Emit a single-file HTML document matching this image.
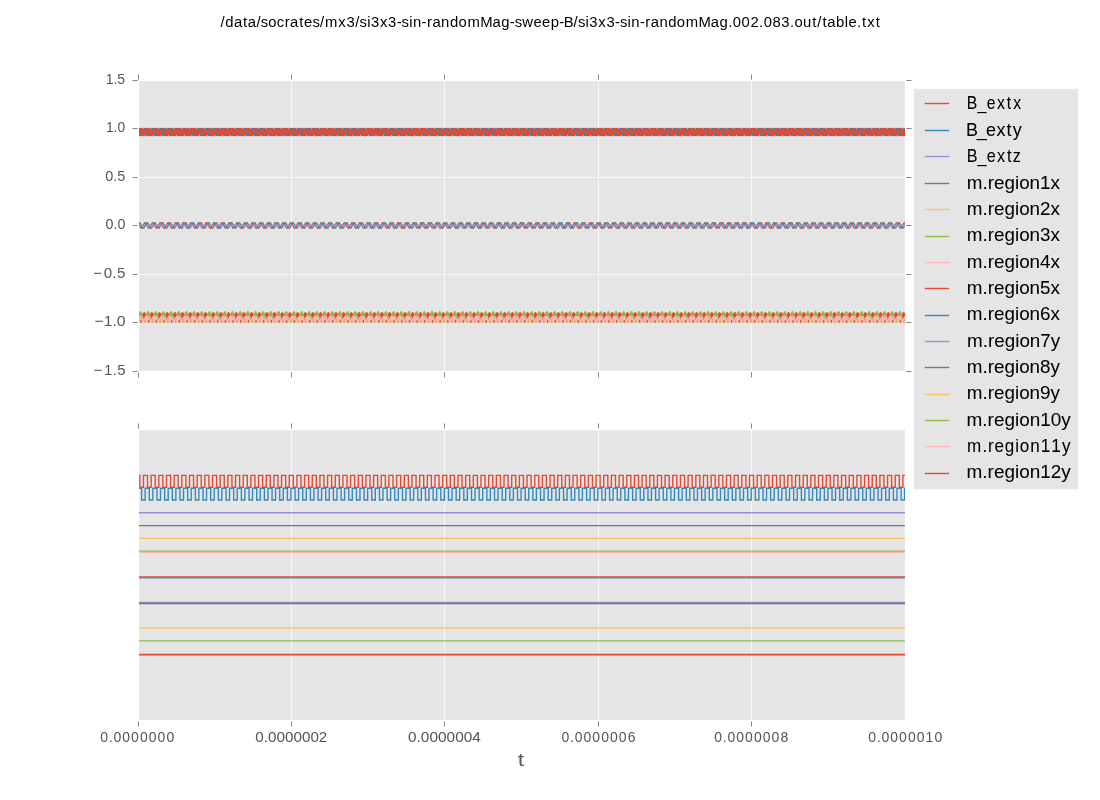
<!DOCTYPE html><html><head><meta charset="utf-8"><title>plot</title><style>html,body{margin:0;padding:0;background:#fff;}body{width:1100px;height:800px;overflow:hidden;position:relative;}svg{position:absolute;left:0;top:0;display:block;will-change:transform;}text{font-family:"Liberation Sans",sans-serif;white-space:pre;}</style></head><body>
<svg width="1100" height="800" viewBox="0 0 1100 800">
<defs><clipPath id="c1"><rect x="139" y="81" width="766" height="290"/></clipPath><clipPath id="c2"><rect x="139" y="430" width="766" height="290"/></clipPath></defs>
<g shape-rendering="crispEdges">
<rect x="139" y="81" width="766" height="290" fill="rgb(234,234,234)"/>
<rect x="140" y="82" width="764" height="288" fill="#e5e5e5"/>
<rect x="139" y="430" width="766" height="290" fill="rgb(234,234,234)"/>
<rect x="140" y="431" width="764" height="288" fill="#e5e5e5"/>
<rect x="291" y="81" width="1" height="290" fill="rgb(247,247,247)"/>
<rect x="291" y="430" width="1" height="290" fill="rgb(247,247,247)"/>
<rect x="444" y="81" width="1" height="290" fill="rgb(247,247,247)"/>
<rect x="444" y="430" width="1" height="290" fill="rgb(247,247,247)"/>
<rect x="598" y="81" width="1" height="290" fill="rgb(247,247,247)"/>
<rect x="598" y="430" width="1" height="290" fill="rgb(247,247,247)"/>
<rect x="751" y="81" width="1" height="290" fill="rgb(247,247,247)"/>
<rect x="751" y="430" width="1" height="290" fill="rgb(247,247,247)"/>
<rect x="139" y="128" width="766" height="1" fill="rgb(247,247,247)"/>
<rect x="139" y="177" width="766" height="1" fill="rgb(247,247,247)"/>
<rect x="139" y="225" width="766" height="1" fill="rgb(247,247,247)"/>
<rect x="139" y="274" width="766" height="1" fill="rgb(247,247,247)"/>
<rect x="139" y="322" width="766" height="1" fill="rgb(247,247,247)"/>
<rect x="132" y="80" width="1" height="1" fill="rgb(195,195,195)"/>
<rect x="133" y="80" width="4" height="1" fill="rgb(136,136,136)"/>
<rect x="137" y="80" width="1" height="1" fill="rgb(177,177,177)"/>
<rect x="906" y="80" width="1" height="1" fill="rgb(177,177,177)"/>
<rect x="907" y="80" width="4" height="1" fill="rgb(136,136,136)"/>
<rect x="911" y="80" width="1" height="1" fill="rgb(195,195,195)"/>
<rect x="132" y="128" width="1" height="1" fill="rgb(195,195,195)"/>
<rect x="133" y="128" width="4" height="1" fill="rgb(136,136,136)"/>
<rect x="137" y="128" width="1" height="1" fill="rgb(177,177,177)"/>
<rect x="906" y="128" width="1" height="1" fill="rgb(177,177,177)"/>
<rect x="907" y="128" width="4" height="1" fill="rgb(136,136,136)"/>
<rect x="911" y="128" width="1" height="1" fill="rgb(195,195,195)"/>
<rect x="132" y="177" width="1" height="1" fill="rgb(195,195,195)"/>
<rect x="133" y="177" width="4" height="1" fill="rgb(136,136,136)"/>
<rect x="137" y="177" width="1" height="1" fill="rgb(177,177,177)"/>
<rect x="906" y="177" width="1" height="1" fill="rgb(177,177,177)"/>
<rect x="907" y="177" width="4" height="1" fill="rgb(136,136,136)"/>
<rect x="911" y="177" width="1" height="1" fill="rgb(195,195,195)"/>
<rect x="132" y="225" width="1" height="1" fill="rgb(195,195,195)"/>
<rect x="133" y="225" width="4" height="1" fill="rgb(136,136,136)"/>
<rect x="137" y="225" width="1" height="1" fill="rgb(177,177,177)"/>
<rect x="906" y="225" width="1" height="1" fill="rgb(177,177,177)"/>
<rect x="907" y="225" width="4" height="1" fill="rgb(136,136,136)"/>
<rect x="911" y="225" width="1" height="1" fill="rgb(195,195,195)"/>
<rect x="132" y="274" width="1" height="1" fill="rgb(195,195,195)"/>
<rect x="133" y="274" width="4" height="1" fill="rgb(136,136,136)"/>
<rect x="137" y="274" width="1" height="1" fill="rgb(177,177,177)"/>
<rect x="906" y="274" width="1" height="1" fill="rgb(177,177,177)"/>
<rect x="907" y="274" width="4" height="1" fill="rgb(136,136,136)"/>
<rect x="911" y="274" width="1" height="1" fill="rgb(195,195,195)"/>
<rect x="132" y="322" width="1" height="1" fill="rgb(195,195,195)"/>
<rect x="133" y="322" width="4" height="1" fill="rgb(136,136,136)"/>
<rect x="137" y="322" width="1" height="1" fill="rgb(177,177,177)"/>
<rect x="906" y="322" width="1" height="1" fill="rgb(177,177,177)"/>
<rect x="907" y="322" width="4" height="1" fill="rgb(136,136,136)"/>
<rect x="911" y="322" width="1" height="1" fill="rgb(195,195,195)"/>
<rect x="132" y="371" width="1" height="1" fill="rgb(195,195,195)"/>
<rect x="133" y="371" width="4" height="1" fill="rgb(136,136,136)"/>
<rect x="137" y="371" width="1" height="1" fill="rgb(177,177,177)"/>
<rect x="906" y="371" width="1" height="1" fill="rgb(177,177,177)"/>
<rect x="907" y="371" width="4" height="1" fill="rgb(136,136,136)"/>
<rect x="911" y="371" width="1" height="1" fill="rgb(195,195,195)"/>
<rect x="138" y="74" width="1" height="1" fill="rgb(195,195,195)"/>
<rect x="138" y="75" width="1" height="4" fill="rgb(136,136,136)"/>
<rect x="138" y="79" width="1" height="1" fill="rgb(177,177,177)"/>
<rect x="138" y="372" width="1" height="1" fill="rgb(177,177,177)"/>
<rect x="138" y="373" width="1" height="4" fill="rgb(136,136,136)"/>
<rect x="138" y="377" width="1" height="1" fill="rgb(195,195,195)"/>
<rect x="138" y="423" width="1" height="1" fill="rgb(195,195,195)"/>
<rect x="138" y="424" width="1" height="4" fill="rgb(136,136,136)"/>
<rect x="138" y="428" width="1" height="1" fill="rgb(177,177,177)"/>
<rect x="138" y="721" width="1" height="1" fill="rgb(177,177,177)"/>
<rect x="138" y="722" width="1" height="4" fill="rgb(136,136,136)"/>
<rect x="138" y="726" width="1" height="1" fill="rgb(195,195,195)"/>
<rect x="291" y="74" width="1" height="1" fill="rgb(195,195,195)"/>
<rect x="291" y="75" width="1" height="4" fill="rgb(136,136,136)"/>
<rect x="291" y="79" width="1" height="1" fill="rgb(177,177,177)"/>
<rect x="291" y="372" width="1" height="1" fill="rgb(177,177,177)"/>
<rect x="291" y="373" width="1" height="4" fill="rgb(136,136,136)"/>
<rect x="291" y="377" width="1" height="1" fill="rgb(195,195,195)"/>
<rect x="291" y="423" width="1" height="1" fill="rgb(195,195,195)"/>
<rect x="291" y="424" width="1" height="4" fill="rgb(136,136,136)"/>
<rect x="291" y="428" width="1" height="1" fill="rgb(177,177,177)"/>
<rect x="291" y="721" width="1" height="1" fill="rgb(177,177,177)"/>
<rect x="291" y="722" width="1" height="4" fill="rgb(136,136,136)"/>
<rect x="291" y="726" width="1" height="1" fill="rgb(195,195,195)"/>
<rect x="444" y="74" width="1" height="1" fill="rgb(195,195,195)"/>
<rect x="444" y="75" width="1" height="4" fill="rgb(136,136,136)"/>
<rect x="444" y="79" width="1" height="1" fill="rgb(177,177,177)"/>
<rect x="444" y="372" width="1" height="1" fill="rgb(177,177,177)"/>
<rect x="444" y="373" width="1" height="4" fill="rgb(136,136,136)"/>
<rect x="444" y="377" width="1" height="1" fill="rgb(195,195,195)"/>
<rect x="444" y="423" width="1" height="1" fill="rgb(195,195,195)"/>
<rect x="444" y="424" width="1" height="4" fill="rgb(136,136,136)"/>
<rect x="444" y="428" width="1" height="1" fill="rgb(177,177,177)"/>
<rect x="444" y="721" width="1" height="1" fill="rgb(177,177,177)"/>
<rect x="444" y="722" width="1" height="4" fill="rgb(136,136,136)"/>
<rect x="444" y="726" width="1" height="1" fill="rgb(195,195,195)"/>
<rect x="598" y="74" width="1" height="1" fill="rgb(195,195,195)"/>
<rect x="598" y="75" width="1" height="4" fill="rgb(136,136,136)"/>
<rect x="598" y="79" width="1" height="1" fill="rgb(177,177,177)"/>
<rect x="598" y="372" width="1" height="1" fill="rgb(177,177,177)"/>
<rect x="598" y="373" width="1" height="4" fill="rgb(136,136,136)"/>
<rect x="598" y="377" width="1" height="1" fill="rgb(195,195,195)"/>
<rect x="598" y="423" width="1" height="1" fill="rgb(195,195,195)"/>
<rect x="598" y="424" width="1" height="4" fill="rgb(136,136,136)"/>
<rect x="598" y="428" width="1" height="1" fill="rgb(177,177,177)"/>
<rect x="598" y="721" width="1" height="1" fill="rgb(177,177,177)"/>
<rect x="598" y="722" width="1" height="4" fill="rgb(136,136,136)"/>
<rect x="598" y="726" width="1" height="1" fill="rgb(195,195,195)"/>
<rect x="751" y="74" width="1" height="1" fill="rgb(195,195,195)"/>
<rect x="751" y="75" width="1" height="4" fill="rgb(136,136,136)"/>
<rect x="751" y="79" width="1" height="1" fill="rgb(177,177,177)"/>
<rect x="751" y="372" width="1" height="1" fill="rgb(177,177,177)"/>
<rect x="751" y="373" width="1" height="4" fill="rgb(136,136,136)"/>
<rect x="751" y="377" width="1" height="1" fill="rgb(195,195,195)"/>
<rect x="751" y="423" width="1" height="1" fill="rgb(195,195,195)"/>
<rect x="751" y="424" width="1" height="4" fill="rgb(136,136,136)"/>
<rect x="751" y="428" width="1" height="1" fill="rgb(177,177,177)"/>
<rect x="751" y="721" width="1" height="1" fill="rgb(177,177,177)"/>
<rect x="751" y="722" width="1" height="4" fill="rgb(136,136,136)"/>
<rect x="751" y="726" width="1" height="1" fill="rgb(195,195,195)"/>
</g>
<g clip-path="url(#c1)"><defs></defs><rect x="139" y="127.9" width="766" height="8.2" fill="#E24A33"/><path fill="#348ABD" d="M140.95,128L142.26,128L141.95,129.8L141.6,131.5L141.26,129.8ZM148.62,128L149.93,128L149.62,129.8L149.27,131.5L148.93,129.8ZM156.29,128L157.6,128L157.29,129.8L156.95,131.5L156.6,129.8ZM163.96,128L165.27,128L164.96,129.8L164.62,131.5L164.27,129.8ZM171.64,128L172.94,128L172.63,129.8L172.29,131.5L171.94,129.8ZM179.31,128L180.61,128L180.3,129.8L179.96,131.5L179.61,129.8ZM186.98,128L188.28,128L187.98,129.8L187.63,131.5L187.28,129.8ZM194.65,128L195.95,128L195.65,129.8L195.3,131.5L194.96,129.8ZM202.32,128L203.62,128L203.32,129.8L202.97,131.5L202.63,129.8ZM209.99,128L211.3,128L210.99,129.8L210.64,131.5L210.3,129.8ZM217.66,128L218.97,128L218.66,129.8L218.31,131.5L217.97,129.8ZM225.33,128L226.64,128L226.33,129.8L225.98,131.5L225.64,129.8ZM233,128L234.31,128L234,129.8L233.66,131.5L233.31,129.8ZM240.67,128L241.98,128L241.67,129.8L241.33,131.5L240.98,129.8ZM248.35,128L249.65,128L249.34,129.8L249,131.5L248.65,129.8ZM256.02,128L257.32,128L257.01,129.8L256.67,131.5L256.32,129.8ZM263.69,128L264.99,128L264.69,129.8L264.34,131.5L263.99,129.8ZM271.36,128L272.66,128L272.36,129.8L272.01,131.5L271.67,129.8ZM279.03,128L280.33,128L280.03,129.8L279.68,131.5L279.34,129.8ZM286.7,128L288.01,128L287.7,129.8L287.35,131.5L287.01,129.8ZM294.37,128L295.68,128L295.37,129.8L295.02,131.5L294.68,129.8ZM302.04,128L303.35,128L303.04,129.8L302.69,131.5L302.35,129.8ZM309.71,128L311.02,128L310.71,129.8L310.37,131.5L310.02,129.8ZM317.38,128L318.69,128L318.38,129.8L318.04,131.5L317.69,129.8ZM325.06,128L326.36,128L326.05,129.8L325.71,131.5L325.36,129.8ZM332.73,128L334.03,128L333.72,129.8L333.38,131.5L333.03,129.8ZM340.4,128L341.7,128L341.4,129.8L341.05,131.5L340.7,129.8ZM348.07,128L349.37,128L349.07,129.8L348.72,131.5L348.38,129.8ZM355.74,128L357.04,128L356.74,129.8L356.39,131.5L356.05,129.8ZM363.41,128L364.72,128L364.41,129.8L364.06,131.5L363.72,129.8ZM371.08,128L372.39,128L372.08,129.8L371.73,131.5L371.39,129.8ZM378.75,128L380.06,128L379.75,129.8L379.4,131.5L379.06,129.8ZM386.42,128L387.73,128L387.42,129.8L387.08,131.5L386.73,129.8ZM394.09,128L395.4,128L395.09,129.8L394.75,131.5L394.4,129.8ZM401.77,128L403.07,128L402.76,129.8L402.42,131.5L402.07,129.8ZM409.44,128L410.74,128L410.43,129.8L410.09,131.5L409.74,129.8ZM417.11,128L418.41,128L418.11,129.8L417.76,131.5L417.41,129.8ZM424.78,128L426.08,128L425.78,129.8L425.43,131.5L425.09,129.8ZM432.45,128L433.75,128L433.45,129.8L433.1,131.5L432.76,129.8ZM440.12,128L441.43,128L441.12,129.8L440.77,131.5L440.43,129.8ZM447.79,128L449.1,128L448.79,129.8L448.44,131.5L448.1,129.8ZM455.46,128L456.77,128L456.46,129.8L456.11,131.5L455.77,129.8ZM463.13,128L464.44,128L464.13,129.8L463.79,131.5L463.44,129.8ZM470.8,128L472.11,128L471.8,129.8L471.46,131.5L471.11,129.8ZM478.48,128L479.78,128L479.47,129.8L479.13,131.5L478.78,129.8ZM486.15,128L487.45,128L487.14,129.8L486.8,131.5L486.45,129.8ZM493.82,128L495.12,128L494.82,129.8L494.47,131.5L494.12,129.8ZM501.49,128L502.79,128L502.49,129.8L502.14,131.5L501.8,129.8ZM509.16,128L510.46,128L510.16,129.8L509.81,131.5L509.47,129.8ZM516.83,128L518.14,128L517.83,129.8L517.48,131.5L517.14,129.8ZM524.5,128L525.81,128L525.5,129.8L525.15,131.5L524.81,129.8ZM532.17,128L533.48,128L533.17,129.8L532.82,131.5L532.48,129.8ZM539.84,128L541.15,128L540.84,129.8L540.5,131.5L540.15,129.8ZM547.51,128L548.82,128L548.51,129.8L548.17,131.5L547.82,129.8ZM555.19,128L556.49,128L556.18,129.8L555.84,131.5L555.49,129.8ZM562.86,128L564.16,128L563.85,129.8L563.51,131.5L563.16,129.8ZM570.53,128L571.83,128L571.53,129.8L571.18,131.5L570.83,129.8ZM578.2,128L579.5,128L579.2,129.8L578.85,131.5L578.51,129.8ZM585.87,128L587.17,128L586.87,129.8L586.52,131.5L586.18,129.8ZM593.54,128L594.85,128L594.54,129.8L594.19,131.5L593.85,129.8ZM601.21,128L602.52,128L602.21,129.8L601.86,131.5L601.52,129.8ZM608.88,128L610.19,128L609.88,129.8L609.53,131.5L609.19,129.8ZM616.55,128L617.86,128L617.55,129.8L617.21,131.5L616.86,129.8ZM624.22,128L625.53,128L625.22,129.8L624.88,131.5L624.53,129.8ZM631.9,128L633.2,128L632.89,129.8L632.55,131.5L632.2,129.8ZM639.57,128L640.87,128L640.56,129.8L640.22,131.5L639.87,129.8ZM647.24,128L648.54,128L648.24,129.8L647.89,131.5L647.54,129.8ZM654.91,128L656.21,128L655.91,129.8L655.56,131.5L655.22,129.8ZM662.58,128L663.88,128L663.58,129.8L663.23,131.5L662.89,129.8ZM670.25,128L671.56,128L671.25,129.8L670.9,131.5L670.56,129.8ZM677.92,128L679.23,128L678.92,129.8L678.57,131.5L678.23,129.8ZM685.59,128L686.9,128L686.59,129.8L686.24,131.5L685.9,129.8ZM693.26,128L694.57,128L694.26,129.8L693.92,131.5L693.57,129.8ZM700.93,128L702.24,128L701.93,129.8L701.59,131.5L701.24,129.8ZM708.61,128L709.91,128L709.6,129.8L709.26,131.5L708.91,129.8ZM716.28,128L717.58,128L717.27,129.8L716.93,131.5L716.58,129.8ZM723.95,128L725.25,128L724.95,129.8L724.6,131.5L724.25,129.8ZM731.62,128L732.92,128L732.62,129.8L732.27,131.5L731.93,129.8ZM739.29,128L740.59,128L740.29,129.8L739.94,131.5L739.6,129.8ZM746.96,128L748.27,128L747.96,129.8L747.61,131.5L747.27,129.8ZM754.63,128L755.94,128L755.63,129.8L755.28,131.5L754.94,129.8ZM762.3,128L763.61,128L763.3,129.8L762.95,131.5L762.61,129.8ZM769.97,128L771.28,128L770.97,129.8L770.63,131.5L770.28,129.8ZM777.64,128L778.95,128L778.64,129.8L778.3,131.5L777.95,129.8ZM785.32,128L786.62,128L786.31,129.8L785.97,131.5L785.62,129.8ZM792.99,128L794.29,128L793.98,129.8L793.64,131.5L793.29,129.8ZM800.66,128L801.96,128L801.66,129.8L801.31,131.5L800.96,129.8ZM808.33,128L809.63,128L809.33,129.8L808.98,131.5L808.64,129.8ZM816,128L817.3,128L817,129.8L816.65,131.5L816.31,129.8ZM823.67,128L824.98,128L824.67,129.8L824.32,131.5L823.98,129.8ZM831.34,128L832.65,128L832.34,129.8L831.99,131.5L831.65,129.8ZM839.01,128L840.32,128L840.01,129.8L839.66,131.5L839.32,129.8ZM846.68,128L847.99,128L847.68,129.8L847.34,131.5L846.99,129.8ZM854.35,128L855.66,128L855.35,129.8L855.01,131.5L854.66,129.8ZM862.03,128L863.33,128L863.02,129.8L862.68,131.5L862.33,129.8ZM869.7,128L871,128L870.69,129.8L870.35,131.5L870,129.8ZM877.37,128L878.67,128L878.37,129.8L878.02,131.5L877.67,129.8ZM885.04,128L886.34,128L886.04,129.8L885.69,131.5L885.35,129.8ZM892.71,128L894.01,128L893.71,129.8L893.36,131.5L893.02,129.8ZM900.38,128L901.69,128L901.38,129.8L901.03,131.5L900.69,129.8Z"/><path fill="#348ABD" d="M136.43,128L138.34,128L137.96,129.4L137.38,130.3L136.81,129.4ZM144.1,128L146.01,128L145.63,129.4L145.06,130.3L144.48,129.4ZM151.77,128L153.69,128L153.3,129.4L152.73,130.3L152.15,129.4ZM159.44,128L161.36,128L160.97,129.4L160.4,130.3L159.82,129.4ZM167.11,128L169.03,128L168.64,129.4L168.07,130.3L167.49,129.4ZM174.78,128L176.7,128L176.32,129.4L175.74,130.3L175.16,129.4ZM182.45,128L184.37,128L183.99,129.4L183.41,130.3L182.84,129.4ZM190.12,128L192.04,128L191.66,129.4L191.08,130.3L190.51,129.4ZM197.79,128L199.71,128L199.33,129.4L198.75,130.3L198.18,129.4ZM205.47,128L207.38,128L207,129.4L206.42,130.3L205.85,129.4ZM213.14,128L215.05,128L214.67,129.4L214.09,130.3L213.52,129.4ZM220.81,128L222.72,128L222.34,129.4L221.77,130.3L221.19,129.4ZM228.48,128L230.4,128L230.01,129.4L229.44,130.3L228.86,129.4ZM236.15,128L238.07,128L237.68,129.4L237.11,130.3L236.53,129.4ZM243.82,128L245.74,128L245.35,129.4L244.78,130.3L244.2,129.4ZM251.49,128L253.41,128L253.03,129.4L252.45,130.3L251.87,129.4ZM259.16,128L261.08,128L260.7,129.4L260.12,130.3L259.55,129.4ZM266.83,128L268.75,128L268.37,129.4L267.79,130.3L267.22,129.4ZM274.5,128L276.42,128L276.04,129.4L275.46,130.3L274.89,129.4ZM282.18,128L284.09,128L283.71,129.4L283.13,130.3L282.56,129.4ZM289.85,128L291.76,128L291.38,129.4L290.8,130.3L290.23,129.4ZM297.52,128L299.43,128L299.05,129.4L298.48,130.3L297.9,129.4ZM305.19,128L307.11,128L306.72,129.4L306.15,130.3L305.57,129.4ZM312.86,128L314.78,128L314.39,129.4L313.82,130.3L313.24,129.4ZM320.53,128L322.45,128L322.06,129.4L321.49,130.3L320.91,129.4ZM328.2,128L330.12,128L329.74,129.4L329.16,130.3L328.58,129.4ZM335.87,128L337.79,128L337.41,129.4L336.83,130.3L336.26,129.4ZM343.54,128L345.46,128L345.08,129.4L344.5,130.3L343.93,129.4ZM351.21,128L353.13,128L352.75,129.4L352.17,130.3L351.6,129.4ZM358.89,128L360.8,128L360.42,129.4L359.84,130.3L359.27,129.4ZM366.56,128L368.47,128L368.09,129.4L367.51,130.3L366.94,129.4ZM374.23,128L376.14,128L375.76,129.4L375.19,130.3L374.61,129.4ZM381.9,128L383.82,128L383.43,129.4L382.86,130.3L382.28,129.4ZM389.57,128L391.49,128L391.1,129.4L390.53,130.3L389.95,129.4ZM397.24,128L399.16,128L398.77,129.4L398.2,130.3L397.62,129.4ZM404.91,128L406.83,128L406.45,129.4L405.87,130.3L405.29,129.4ZM412.58,128L414.5,128L414.12,129.4L413.54,130.3L412.97,129.4ZM420.25,128L422.17,128L421.79,129.4L421.21,130.3L420.64,129.4ZM427.92,128L429.84,128L429.46,129.4L428.88,130.3L428.31,129.4ZM435.6,128L437.51,128L437.13,129.4L436.55,130.3L435.98,129.4ZM443.27,128L445.18,128L444.8,129.4L444.22,130.3L443.65,129.4ZM450.94,128L452.85,128L452.47,129.4L451.9,130.3L451.32,129.4ZM458.61,128L460.53,128L460.14,129.4L459.57,130.3L458.99,129.4ZM466.28,128L468.2,128L467.81,129.4L467.24,130.3L466.66,129.4ZM473.95,128L475.87,128L475.48,129.4L474.91,130.3L474.33,129.4ZM481.62,128L483.54,128L483.16,129.4L482.58,130.3L482,129.4ZM489.29,128L491.21,128L490.83,129.4L490.25,130.3L489.68,129.4ZM496.96,128L498.88,128L498.5,129.4L497.92,130.3L497.35,129.4ZM504.63,128L506.55,128L506.17,129.4L505.59,130.3L505.02,129.4ZM512.31,128L514.22,128L513.84,129.4L513.26,130.3L512.69,129.4ZM519.98,128L521.89,128L521.51,129.4L520.93,130.3L520.36,129.4ZM527.65,128L529.56,128L529.18,129.4L528.61,130.3L528.03,129.4ZM535.32,128L537.24,128L536.85,129.4L536.28,130.3L535.7,129.4ZM542.99,128L544.91,128L544.52,129.4L543.95,130.3L543.37,129.4ZM550.66,128L552.58,128L552.19,129.4L551.62,130.3L551.04,129.4ZM558.33,128L560.25,128L559.87,129.4L559.29,130.3L558.71,129.4ZM566,128L567.92,128L567.54,129.4L566.96,130.3L566.39,129.4ZM573.67,128L575.59,128L575.21,129.4L574.63,130.3L574.06,129.4ZM581.34,128L583.26,128L582.88,129.4L582.3,130.3L581.73,129.4ZM589.02,128L590.93,128L590.55,129.4L589.97,130.3L589.4,129.4ZM596.69,128L598.6,128L598.22,129.4L597.64,130.3L597.07,129.4ZM604.36,128L606.27,128L605.89,129.4L605.32,130.3L604.74,129.4ZM612.03,128L613.95,128L613.56,129.4L612.99,130.3L612.41,129.4ZM619.7,128L621.62,128L621.23,129.4L620.66,130.3L620.08,129.4ZM627.37,128L629.29,128L628.9,129.4L628.33,130.3L627.75,129.4ZM635.04,128L636.96,128L636.58,129.4L636,130.3L635.42,129.4ZM642.71,128L644.63,128L644.25,129.4L643.67,130.3L643.1,129.4ZM650.38,128L652.3,128L651.92,129.4L651.34,130.3L650.77,129.4ZM658.05,128L659.97,128L659.59,129.4L659.01,130.3L658.44,129.4ZM665.73,128L667.64,128L667.26,129.4L666.68,130.3L666.11,129.4ZM673.4,128L675.31,128L674.93,129.4L674.35,130.3L673.78,129.4ZM681.07,128L682.98,128L682.6,129.4L682.03,130.3L681.45,129.4ZM688.74,128L690.66,128L690.27,129.4L689.7,130.3L689.12,129.4ZM696.41,128L698.33,128L697.94,129.4L697.37,130.3L696.79,129.4ZM704.08,128L706,128L705.61,129.4L705.04,130.3L704.46,129.4ZM711.75,128L713.67,128L713.29,129.4L712.71,130.3L712.13,129.4ZM719.42,128L721.34,128L720.96,129.4L720.38,130.3L719.81,129.4ZM727.09,128L729.01,128L728.63,129.4L728.05,130.3L727.48,129.4ZM734.76,128L736.68,128L736.3,129.4L735.72,130.3L735.15,129.4ZM742.44,128L744.35,128L743.97,129.4L743.39,130.3L742.82,129.4ZM750.11,128L752.02,128L751.64,129.4L751.06,130.3L750.49,129.4ZM757.78,128L759.69,128L759.31,129.4L758.74,130.3L758.16,129.4ZM765.45,128L767.37,128L766.98,129.4L766.41,130.3L765.83,129.4ZM773.12,128L775.04,128L774.65,129.4L774.08,130.3L773.5,129.4ZM780.79,128L782.71,128L782.32,129.4L781.75,130.3L781.17,129.4ZM788.46,128L790.38,128L790,129.4L789.42,130.3L788.84,129.4ZM796.13,128L798.05,128L797.67,129.4L797.09,130.3L796.52,129.4ZM803.8,128L805.72,128L805.34,129.4L804.76,130.3L804.19,129.4ZM811.47,128L813.39,128L813.01,129.4L812.43,130.3L811.86,129.4ZM819.15,128L821.06,128L820.68,129.4L820.1,130.3L819.53,129.4ZM826.82,128L828.73,128L828.35,129.4L827.77,130.3L827.2,129.4ZM834.49,128L836.4,128L836.02,129.4L835.45,130.3L834.87,129.4ZM842.16,128L844.08,128L843.69,129.4L843.12,130.3L842.54,129.4ZM849.83,128L851.75,128L851.36,129.4L850.79,130.3L850.21,129.4ZM857.5,128L859.42,128L859.03,129.4L858.46,130.3L857.88,129.4ZM865.17,128L867.09,128L866.71,129.4L866.13,130.3L865.55,129.4ZM872.84,128L874.76,128L874.38,129.4L873.8,130.3L873.23,129.4ZM880.51,128L882.43,128L882.05,129.4L881.47,130.3L880.9,129.4ZM888.18,128L890.1,128L889.72,129.4L889.14,130.3L888.57,129.4ZM895.86,128L897.77,128L897.39,129.4L896.81,130.3L896.24,129.4ZM903.53,128L905.44,128L905.06,129.4L904.48,130.3L903.91,129.4Z"/><path fill="#348ABD" d="M138.77,132.1L139.88,132.1L140.03,134.4L141.11,134.6L141.26,136.1L138.65,136.1ZM146.44,132.1L147.55,132.1L147.7,134.4L148.78,134.6L148.93,136.1L146.32,136.1ZM154.11,132.1L155.22,132.1L155.37,134.4L156.45,134.6L156.6,136.1L153.99,136.1ZM161.78,132.1L162.89,132.1L163.04,134.4L164.12,134.6L164.27,136.1L161.66,136.1ZM169.45,132.1L170.56,132.1L170.72,134.4L171.79,134.6L171.94,136.1L169.33,136.1ZM177.12,132.1L178.23,132.1L178.39,134.4L179.46,134.6L179.61,136.1L177.01,136.1ZM184.79,132.1L185.9,132.1L186.06,134.4L187.13,134.6L187.28,136.1L184.68,136.1ZM192.46,132.1L193.58,132.1L193.73,134.4L194.8,134.6L194.96,136.1L192.35,136.1ZM200.13,132.1L201.25,132.1L201.4,134.4L202.47,134.6L202.63,136.1L200.02,136.1ZM207.8,132.1L208.92,132.1L209.07,134.4L210.14,134.6L210.3,136.1L207.69,136.1ZM215.48,132.1L216.59,132.1L216.74,134.4L217.82,134.6L217.97,136.1L215.36,136.1ZM223.15,132.1L224.26,132.1L224.41,134.4L225.49,134.6L225.64,136.1L223.03,136.1ZM230.82,132.1L231.93,132.1L232.08,134.4L233.16,134.6L233.31,136.1L230.7,136.1ZM238.49,132.1L239.6,132.1L239.75,134.4L240.83,134.6L240.98,136.1L238.37,136.1ZM246.16,132.1L247.27,132.1L247.43,134.4L248.5,134.6L248.65,136.1L246.04,136.1ZM253.83,132.1L254.94,132.1L255.1,134.4L256.17,134.6L256.32,136.1L253.72,136.1ZM261.5,132.1L262.61,132.1L262.77,134.4L263.84,134.6L263.99,136.1L261.39,136.1ZM269.17,132.1L270.29,132.1L270.44,134.4L271.51,134.6L271.67,136.1L269.06,136.1ZM276.84,132.1L277.96,132.1L278.11,134.4L279.18,134.6L279.34,136.1L276.73,136.1ZM284.51,132.1L285.63,132.1L285.78,134.4L286.85,134.6L287.01,136.1L284.4,136.1ZM292.19,132.1L293.3,132.1L293.45,134.4L294.53,134.6L294.68,136.1L292.07,136.1ZM299.86,132.1L300.97,132.1L301.12,134.4L302.2,134.6L302.35,136.1L299.74,136.1ZM307.53,132.1L308.64,132.1L308.79,134.4L309.87,134.6L310.02,136.1L307.41,136.1ZM315.2,132.1L316.31,132.1L316.46,134.4L317.54,134.6L317.69,136.1L315.08,136.1ZM322.87,132.1L323.98,132.1L324.14,134.4L325.21,134.6L325.36,136.1L322.75,136.1ZM330.54,132.1L331.65,132.1L331.81,134.4L332.88,134.6L333.03,136.1L330.43,136.1ZM338.21,132.1L339.32,132.1L339.48,134.4L340.55,134.6L340.7,136.1L338.1,136.1ZM345.88,132.1L347,132.1L347.15,134.4L348.22,134.6L348.38,136.1L345.77,136.1ZM353.55,132.1L354.67,132.1L354.82,134.4L355.89,134.6L356.05,136.1L353.44,136.1ZM361.22,132.1L362.34,132.1L362.49,134.4L363.56,134.6L363.72,136.1L361.11,136.1ZM368.9,132.1L370.01,132.1L370.16,134.4L371.24,134.6L371.39,136.1L368.78,136.1ZM376.57,132.1L377.68,132.1L377.83,134.4L378.91,134.6L379.06,136.1L376.45,136.1ZM384.24,132.1L385.35,132.1L385.5,134.4L386.58,134.6L386.73,136.1L384.12,136.1ZM391.91,132.1L393.02,132.1L393.17,134.4L394.25,134.6L394.4,136.1L391.79,136.1ZM399.58,132.1L400.69,132.1L400.85,134.4L401.92,134.6L402.07,136.1L399.46,136.1ZM407.25,132.1L408.36,132.1L408.52,134.4L409.59,134.6L409.74,136.1L407.14,136.1ZM414.92,132.1L416.03,132.1L416.19,134.4L417.26,134.6L417.41,136.1L414.81,136.1ZM422.59,132.1L423.71,132.1L423.86,134.4L424.93,134.6L425.09,136.1L422.48,136.1ZM430.26,132.1L431.38,132.1L431.53,134.4L432.6,134.6L432.76,136.1L430.15,136.1ZM437.93,132.1L439.05,132.1L439.2,134.4L440.27,134.6L440.43,136.1L437.82,136.1ZM445.61,132.1L446.72,132.1L446.87,134.4L447.95,134.6L448.1,136.1L445.49,136.1ZM453.28,132.1L454.39,132.1L454.54,134.4L455.62,134.6L455.77,136.1L453.16,136.1ZM460.95,132.1L462.06,132.1L462.21,134.4L463.29,134.6L463.44,136.1L460.83,136.1ZM468.62,132.1L469.73,132.1L469.88,134.4L470.96,134.6L471.11,136.1L468.5,136.1ZM476.29,132.1L477.4,132.1L477.56,134.4L478.63,134.6L478.78,136.1L476.17,136.1ZM483.96,132.1L485.07,132.1L485.23,134.4L486.3,134.6L486.45,136.1L483.85,136.1ZM491.63,132.1L492.74,132.1L492.9,134.4L493.97,134.6L494.12,136.1L491.52,136.1ZM499.3,132.1L500.42,132.1L500.57,134.4L501.64,134.6L501.8,136.1L499.19,136.1ZM506.97,132.1L508.09,132.1L508.24,134.4L509.31,134.6L509.47,136.1L506.86,136.1ZM514.64,132.1L515.76,132.1L515.91,134.4L516.98,134.6L517.14,136.1L514.53,136.1ZM522.32,132.1L523.43,132.1L523.58,134.4L524.66,134.6L524.81,136.1L522.2,136.1ZM529.99,132.1L531.1,132.1L531.25,134.4L532.33,134.6L532.48,136.1L529.87,136.1ZM537.66,132.1L538.77,132.1L538.92,134.4L540,134.6L540.15,136.1L537.54,136.1ZM545.33,132.1L546.44,132.1L546.59,134.4L547.67,134.6L547.82,136.1L545.21,136.1ZM553,132.1L554.11,132.1L554.27,134.4L555.34,134.6L555.49,136.1L552.88,136.1ZM560.67,132.1L561.78,132.1L561.94,134.4L563.01,134.6L563.16,136.1L560.56,136.1ZM568.34,132.1L569.45,132.1L569.61,134.4L570.68,134.6L570.83,136.1L568.23,136.1ZM576.01,132.1L577.13,132.1L577.28,134.4L578.35,134.6L578.51,136.1L575.9,136.1ZM583.68,132.1L584.8,132.1L584.95,134.4L586.02,134.6L586.18,136.1L583.57,136.1ZM591.35,132.1L592.47,132.1L592.62,134.4L593.69,134.6L593.85,136.1L591.24,136.1ZM599.03,132.1L600.14,132.1L600.29,134.4L601.37,134.6L601.52,136.1L598.91,136.1ZM606.7,132.1L607.81,132.1L607.96,134.4L609.04,134.6L609.19,136.1L606.58,136.1ZM614.37,132.1L615.48,132.1L615.63,134.4L616.71,134.6L616.86,136.1L614.25,136.1ZM622.04,132.1L623.15,132.1L623.3,134.4L624.38,134.6L624.53,136.1L621.92,136.1ZM629.71,132.1L630.82,132.1L630.98,134.4L632.05,134.6L632.2,136.1L629.59,136.1ZM637.38,132.1L638.49,132.1L638.65,134.4L639.72,134.6L639.87,136.1L637.27,136.1ZM645.05,132.1L646.16,132.1L646.32,134.4L647.39,134.6L647.54,136.1L644.94,136.1ZM652.72,132.1L653.84,132.1L653.99,134.4L655.06,134.6L655.22,136.1L652.61,136.1ZM660.39,132.1L661.51,132.1L661.66,134.4L662.73,134.6L662.89,136.1L660.28,136.1ZM668.06,132.1L669.18,132.1L669.33,134.4L670.4,134.6L670.56,136.1L667.95,136.1ZM675.74,132.1L676.85,132.1L677,134.4L678.08,134.6L678.23,136.1L675.62,136.1ZM683.41,132.1L684.52,132.1L684.67,134.4L685.75,134.6L685.9,136.1L683.29,136.1ZM691.08,132.1L692.19,132.1L692.34,134.4L693.42,134.6L693.57,136.1L690.96,136.1ZM698.75,132.1L699.86,132.1L700.01,134.4L701.09,134.6L701.24,136.1L698.63,136.1ZM706.42,132.1L707.53,132.1L707.69,134.4L708.76,134.6L708.91,136.1L706.3,136.1ZM714.09,132.1L715.2,132.1L715.36,134.4L716.43,134.6L716.58,136.1L713.98,136.1ZM721.76,132.1L722.87,132.1L723.03,134.4L724.1,134.6L724.25,136.1L721.65,136.1ZM729.43,132.1L730.55,132.1L730.7,134.4L731.77,134.6L731.93,136.1L729.32,136.1ZM737.1,132.1L738.22,132.1L738.37,134.4L739.44,134.6L739.6,136.1L736.99,136.1ZM744.77,132.1L745.89,132.1L746.04,134.4L747.11,134.6L747.27,136.1L744.66,136.1ZM752.45,132.1L753.56,132.1L753.71,134.4L754.79,134.6L754.94,136.1L752.33,136.1ZM760.12,132.1L761.23,132.1L761.38,134.4L762.46,134.6L762.61,136.1L760,136.1ZM767.79,132.1L768.9,132.1L769.05,134.4L770.13,134.6L770.28,136.1L767.67,136.1ZM775.46,132.1L776.57,132.1L776.72,134.4L777.8,134.6L777.95,136.1L775.34,136.1ZM783.13,132.1L784.24,132.1L784.4,134.4L785.47,134.6L785.62,136.1L783.01,136.1ZM790.8,132.1L791.91,132.1L792.07,134.4L793.14,134.6L793.29,136.1L790.69,136.1ZM798.47,132.1L799.58,132.1L799.74,134.4L800.81,134.6L800.96,136.1L798.36,136.1ZM806.14,132.1L807.26,132.1L807.41,134.4L808.48,134.6L808.64,136.1L806.03,136.1ZM813.81,132.1L814.93,132.1L815.08,134.4L816.15,134.6L816.31,136.1L813.7,136.1ZM821.48,132.1L822.6,132.1L822.75,134.4L823.82,134.6L823.98,136.1L821.37,136.1ZM829.16,132.1L830.27,132.1L830.42,134.4L831.5,134.6L831.65,136.1L829.04,136.1ZM836.83,132.1L837.94,132.1L838.09,134.4L839.17,134.6L839.32,136.1L836.71,136.1ZM844.5,132.1L845.61,132.1L845.76,134.4L846.84,134.6L846.99,136.1L844.38,136.1ZM852.17,132.1L853.28,132.1L853.43,134.4L854.51,134.6L854.66,136.1L852.05,136.1ZM859.84,132.1L860.95,132.1L861.11,134.4L862.18,134.6L862.33,136.1L859.72,136.1ZM867.51,132.1L868.62,132.1L868.78,134.4L869.85,134.6L870,136.1L867.4,136.1ZM875.18,132.1L876.29,132.1L876.45,134.4L877.52,134.6L877.67,136.1L875.07,136.1ZM882.85,132.1L883.97,132.1L884.12,134.4L885.19,134.6L885.35,136.1L882.74,136.1ZM890.52,132.1L891.64,132.1L891.79,134.4L892.86,134.6L893.02,136.1L890.41,136.1ZM898.19,132.1L899.31,132.1L899.46,134.4L900.53,134.6L900.69,136.1L898.08,136.1ZM905.87,132.1L906.98,132.1L907.13,134.4L908.21,134.6L908.36,136.1L905.75,136.1Z"/><path fill="#e6d2cd" d="M142.41,127.9L143.64,127.9L143.25,128.8L142.79,128.8ZM150.08,127.9L151.31,127.9L150.92,128.8L150.46,128.8ZM157.75,127.9L158.98,127.9L158.6,128.8L158.13,128.8ZM165.42,127.9L166.65,127.9L166.27,128.8L165.81,128.8ZM173.09,127.9L174.32,127.9L173.94,128.8L173.48,128.8ZM180.76,127.9L181.99,127.9L181.61,128.8L181.15,128.8ZM188.44,127.9L189.66,127.9L189.28,128.8L188.82,128.8ZM196.11,127.9L197.33,127.9L196.95,128.8L196.49,128.8ZM203.78,127.9L205,127.9L204.62,128.8L204.16,128.8ZM211.45,127.9L212.68,127.9L212.29,128.8L211.83,128.8ZM219.12,127.9L220.35,127.9L219.96,128.8L219.5,128.8ZM226.79,127.9L228.02,127.9L227.63,128.8L227.17,128.8ZM234.46,127.9L235.69,127.9L235.31,128.8L234.84,128.8ZM242.13,127.9L243.36,127.9L242.98,128.8L242.52,128.8ZM249.8,127.9L251.03,127.9L250.65,128.8L250.19,128.8ZM257.47,127.9L258.7,127.9L258.32,128.8L257.86,128.8ZM265.15,127.9L266.37,127.9L265.99,128.8L265.53,128.8ZM272.82,127.9L274.04,127.9L273.66,128.8L273.2,128.8ZM280.49,127.9L281.71,127.9L281.33,128.8L280.87,128.8ZM288.16,127.9L289.39,127.9L289,128.8L288.54,128.8ZM295.83,127.9L297.06,127.9L296.67,128.8L296.21,128.8ZM303.5,127.9L304.73,127.9L304.34,128.8L303.88,128.8ZM311.17,127.9L312.4,127.9L312.02,128.8L311.55,128.8ZM318.84,127.9L320.07,127.9L319.69,128.8L319.23,128.8ZM326.51,127.9L327.74,127.9L327.36,128.8L326.9,128.8ZM334.18,127.9L335.41,127.9L335.03,128.8L334.57,128.8ZM341.86,127.9L343.08,127.9L342.7,128.8L342.24,128.8ZM349.53,127.9L350.75,127.9L350.37,128.8L349.91,128.8ZM357.2,127.9L358.42,127.9L358.04,128.8L357.58,128.8ZM364.87,127.9L366.1,127.9L365.71,128.8L365.25,128.8ZM372.54,127.9L373.77,127.9L373.38,128.8L372.92,128.8ZM380.21,127.9L381.44,127.9L381.05,128.8L380.59,128.8ZM387.88,127.9L389.11,127.9L388.73,128.8L388.26,128.8ZM395.55,127.9L396.78,127.9L396.4,128.8L395.94,128.8ZM403.22,127.9L404.45,127.9L404.07,128.8L403.61,128.8ZM410.89,127.9L412.12,127.9L411.74,128.8L411.28,128.8ZM418.57,127.9L419.79,127.9L419.41,128.8L418.95,128.8ZM426.24,127.9L427.46,127.9L427.08,128.8L426.62,128.8ZM433.91,127.9L435.13,127.9L434.75,128.8L434.29,128.8ZM441.58,127.9L442.81,127.9L442.42,128.8L441.96,128.8ZM449.25,127.9L450.48,127.9L450.09,128.8L449.63,128.8ZM456.92,127.9L458.15,127.9L457.76,128.8L457.3,128.8ZM464.59,127.9L465.82,127.9L465.44,128.8L464.97,128.8ZM472.26,127.9L473.49,127.9L473.11,128.8L472.65,128.8ZM479.93,127.9L481.16,127.9L480.78,128.8L480.32,128.8ZM487.6,127.9L488.83,127.9L488.45,128.8L487.99,128.8ZM495.28,127.9L496.5,127.9L496.12,128.8L495.66,128.8ZM502.95,127.9L504.17,127.9L503.79,128.8L503.33,128.8ZM510.62,127.9L511.84,127.9L511.46,128.8L511,128.8ZM518.29,127.9L519.52,127.9L519.13,128.8L518.67,128.8ZM525.96,127.9L527.19,127.9L526.8,128.8L526.34,128.8ZM533.63,127.9L534.86,127.9L534.47,128.8L534.01,128.8ZM541.3,127.9L542.53,127.9L542.15,128.8L541.68,128.8ZM548.97,127.9L550.2,127.9L549.82,128.8L549.36,128.8ZM556.64,127.9L557.87,127.9L557.49,128.8L557.03,128.8ZM564.31,127.9L565.54,127.9L565.16,128.8L564.7,128.8ZM571.99,127.9L573.21,127.9L572.83,128.8L572.37,128.8ZM579.66,127.9L580.88,127.9L580.5,128.8L580.04,128.8ZM587.33,127.9L588.55,127.9L588.17,128.8L587.71,128.8ZM595,127.9L596.23,127.9L595.84,128.8L595.38,128.8ZM602.67,127.9L603.9,127.9L603.51,128.8L603.05,128.8ZM610.34,127.9L611.57,127.9L611.18,128.8L610.72,128.8ZM618.01,127.9L619.24,127.9L618.86,128.8L618.39,128.8ZM625.68,127.9L626.91,127.9L626.53,128.8L626.07,128.8ZM633.35,127.9L634.58,127.9L634.2,128.8L633.74,128.8ZM641.02,127.9L642.25,127.9L641.87,128.8L641.41,128.8ZM648.7,127.9L649.92,127.9L649.54,128.8L649.08,128.8ZM656.37,127.9L657.59,127.9L657.21,128.8L656.75,128.8ZM664.04,127.9L665.26,127.9L664.88,128.8L664.42,128.8ZM671.71,127.9L672.94,127.9L672.55,128.8L672.09,128.8ZM679.38,127.9L680.61,127.9L680.22,128.8L679.76,128.8ZM687.05,127.9L688.28,127.9L687.89,128.8L687.43,128.8ZM694.72,127.9L695.95,127.9L695.57,128.8L695.1,128.8ZM702.39,127.9L703.62,127.9L703.24,128.8L702.78,128.8ZM710.06,127.9L711.29,127.9L710.91,128.8L710.45,128.8ZM717.73,127.9L718.96,127.9L718.58,128.8L718.12,128.8ZM725.41,127.9L726.63,127.9L726.25,128.8L725.79,128.8ZM733.08,127.9L734.3,127.9L733.92,128.8L733.46,128.8ZM740.75,127.9L741.97,127.9L741.59,128.8L741.13,128.8ZM748.42,127.9L749.65,127.9L749.26,128.8L748.8,128.8ZM756.09,127.9L757.32,127.9L756.93,128.8L756.47,128.8ZM763.76,127.9L764.99,127.9L764.6,128.8L764.14,128.8ZM771.43,127.9L772.66,127.9L772.28,128.8L771.81,128.8ZM779.1,127.9L780.33,127.9L779.95,128.8L779.49,128.8ZM786.77,127.9L788,127.9L787.62,128.8L787.16,128.8ZM794.44,127.9L795.67,127.9L795.29,128.8L794.83,128.8ZM802.12,127.9L803.34,127.9L802.96,128.8L802.5,128.8ZM809.79,127.9L811.01,127.9L810.63,128.8L810.17,128.8ZM817.46,127.9L818.68,127.9L818.3,128.8L817.84,128.8ZM825.13,127.9L826.36,127.9L825.97,128.8L825.51,128.8ZM832.8,127.9L834.03,127.9L833.64,128.8L833.18,128.8ZM840.47,127.9L841.7,127.9L841.31,128.8L840.85,128.8ZM848.14,127.9L849.37,127.9L848.99,128.8L848.52,128.8ZM855.81,127.9L857.04,127.9L856.66,128.8L856.2,128.8ZM863.48,127.9L864.71,127.9L864.33,128.8L863.87,128.8ZM871.15,127.9L872.38,127.9L872,128.8L871.54,128.8ZM878.83,127.9L880.05,127.9L879.67,128.8L879.21,128.8ZM886.5,127.9L887.72,127.9L887.34,128.8L886.88,128.8ZM894.17,127.9L895.39,127.9L895.01,128.8L894.55,128.8ZM901.84,127.9L903.07,127.9L902.68,128.8L902.22,128.8Z"/><path fill="#e6d7d3" d="M137.73,136.1L138.65,136.1L138.42,135.1L137.96,135.1ZM145.4,136.1L146.32,136.1L146.09,135.1L145.63,135.1ZM153.07,136.1L153.99,136.1L153.76,135.1L153.3,135.1ZM160.74,136.1L161.66,136.1L161.43,135.1L160.97,135.1ZM168.41,136.1L169.33,136.1L169.1,135.1L168.64,135.1ZM176.09,136.1L177.01,136.1L176.78,135.1L176.32,135.1ZM183.76,136.1L184.68,136.1L184.45,135.1L183.99,135.1ZM191.43,136.1L192.35,136.1L192.12,135.1L191.66,135.1ZM199.1,136.1L200.02,136.1L199.79,135.1L199.33,135.1ZM206.77,136.1L207.69,136.1L207.46,135.1L207,135.1ZM214.44,136.1L215.36,136.1L215.13,135.1L214.67,135.1ZM222.11,136.1L223.03,136.1L222.8,135.1L222.34,135.1ZM229.78,136.1L230.7,136.1L230.47,135.1L230.01,135.1ZM237.45,136.1L238.37,136.1L238.14,135.1L237.68,135.1ZM245.12,136.1L246.04,136.1L245.81,135.1L245.35,135.1ZM252.8,136.1L253.72,136.1L253.49,135.1L253.03,135.1ZM260.47,136.1L261.39,136.1L261.16,135.1L260.7,135.1ZM268.14,136.1L269.06,136.1L268.83,135.1L268.37,135.1ZM275.81,136.1L276.73,136.1L276.5,135.1L276.04,135.1ZM283.48,136.1L284.4,136.1L284.17,135.1L283.71,135.1ZM291.15,136.1L292.07,136.1L291.84,135.1L291.38,135.1ZM298.82,136.1L299.74,136.1L299.51,135.1L299.05,135.1ZM306.49,136.1L307.41,136.1L307.18,135.1L306.72,135.1ZM314.16,136.1L315.08,136.1L314.85,135.1L314.39,135.1ZM321.83,136.1L322.75,136.1L322.52,135.1L322.06,135.1ZM329.51,136.1L330.43,136.1L330.2,135.1L329.74,135.1ZM337.18,136.1L338.1,136.1L337.87,135.1L337.41,135.1ZM344.85,136.1L345.77,136.1L345.54,135.1L345.08,135.1ZM352.52,136.1L353.44,136.1L353.21,135.1L352.75,135.1ZM360.19,136.1L361.11,136.1L360.88,135.1L360.42,135.1ZM367.86,136.1L368.78,136.1L368.55,135.1L368.09,135.1ZM375.53,136.1L376.45,136.1L376.22,135.1L375.76,135.1ZM383.2,136.1L384.12,136.1L383.89,135.1L383.43,135.1ZM390.87,136.1L391.79,136.1L391.56,135.1L391.1,135.1ZM398.54,136.1L399.46,136.1L399.23,135.1L398.77,135.1ZM406.22,136.1L407.14,136.1L406.91,135.1L406.45,135.1ZM413.89,136.1L414.81,136.1L414.58,135.1L414.12,135.1ZM421.56,136.1L422.48,136.1L422.25,135.1L421.79,135.1ZM429.23,136.1L430.15,136.1L429.92,135.1L429.46,135.1ZM436.9,136.1L437.82,136.1L437.59,135.1L437.13,135.1ZM444.57,136.1L445.49,136.1L445.26,135.1L444.8,135.1ZM452.24,136.1L453.16,136.1L452.93,135.1L452.47,135.1ZM459.91,136.1L460.83,136.1L460.6,135.1L460.14,135.1ZM467.58,136.1L468.5,136.1L468.27,135.1L467.81,135.1ZM475.25,136.1L476.17,136.1L475.94,135.1L475.48,135.1ZM482.93,136.1L483.85,136.1L483.62,135.1L483.16,135.1ZM490.6,136.1L491.52,136.1L491.29,135.1L490.83,135.1ZM498.27,136.1L499.19,136.1L498.96,135.1L498.5,135.1ZM505.94,136.1L506.86,136.1L506.63,135.1L506.17,135.1ZM513.61,136.1L514.53,136.1L514.3,135.1L513.84,135.1ZM521.28,136.1L522.2,136.1L521.97,135.1L521.51,135.1ZM528.95,136.1L529.87,136.1L529.64,135.1L529.18,135.1ZM536.62,136.1L537.54,136.1L537.31,135.1L536.85,135.1ZM544.29,136.1L545.21,136.1L544.98,135.1L544.52,135.1ZM551.96,136.1L552.88,136.1L552.65,135.1L552.19,135.1ZM559.64,136.1L560.56,136.1L560.33,135.1L559.87,135.1ZM567.31,136.1L568.23,136.1L568,135.1L567.54,135.1ZM574.98,136.1L575.9,136.1L575.67,135.1L575.21,135.1ZM582.65,136.1L583.57,136.1L583.34,135.1L582.88,135.1ZM590.32,136.1L591.24,136.1L591.01,135.1L590.55,135.1ZM597.99,136.1L598.91,136.1L598.68,135.1L598.22,135.1ZM605.66,136.1L606.58,136.1L606.35,135.1L605.89,135.1ZM613.33,136.1L614.25,136.1L614.02,135.1L613.56,135.1ZM621,136.1L621.92,136.1L621.69,135.1L621.23,135.1ZM628.67,136.1L629.59,136.1L629.36,135.1L628.9,135.1ZM636.35,136.1L637.27,136.1L637.04,135.1L636.58,135.1ZM644.02,136.1L644.94,136.1L644.71,135.1L644.25,135.1ZM651.69,136.1L652.61,136.1L652.38,135.1L651.92,135.1ZM659.36,136.1L660.28,136.1L660.05,135.1L659.59,135.1ZM667.03,136.1L667.95,136.1L667.72,135.1L667.26,135.1ZM674.7,136.1L675.62,136.1L675.39,135.1L674.93,135.1ZM682.37,136.1L683.29,136.1L683.06,135.1L682.6,135.1ZM690.04,136.1L690.96,136.1L690.73,135.1L690.27,135.1ZM697.71,136.1L698.63,136.1L698.4,135.1L697.94,135.1ZM705.38,136.1L706.3,136.1L706.07,135.1L705.61,135.1ZM713.06,136.1L713.98,136.1L713.75,135.1L713.29,135.1ZM720.73,136.1L721.65,136.1L721.42,135.1L720.96,135.1ZM728.4,136.1L729.32,136.1L729.09,135.1L728.63,135.1ZM736.07,136.1L736.99,136.1L736.76,135.1L736.3,135.1ZM743.74,136.1L744.66,136.1L744.43,135.1L743.97,135.1ZM751.41,136.1L752.33,136.1L752.1,135.1L751.64,135.1ZM759.08,136.1L760,136.1L759.77,135.1L759.31,135.1ZM766.75,136.1L767.67,136.1L767.44,135.1L766.98,135.1ZM774.42,136.1L775.34,136.1L775.11,135.1L774.65,135.1ZM782.09,136.1L783.01,136.1L782.78,135.1L782.32,135.1ZM789.77,136.1L790.69,136.1L790.46,135.1L790,135.1ZM797.44,136.1L798.36,136.1L798.13,135.1L797.67,135.1ZM805.11,136.1L806.03,136.1L805.8,135.1L805.34,135.1ZM812.78,136.1L813.7,136.1L813.47,135.1L813.01,135.1ZM820.45,136.1L821.37,136.1L821.14,135.1L820.68,135.1ZM828.12,136.1L829.04,136.1L828.81,135.1L828.35,135.1ZM835.79,136.1L836.71,136.1L836.48,135.1L836.02,135.1ZM843.46,136.1L844.38,136.1L844.15,135.1L843.69,135.1ZM851.13,136.1L852.05,136.1L851.82,135.1L851.36,135.1ZM858.8,136.1L859.72,136.1L859.49,135.1L859.03,135.1ZM866.48,136.1L867.4,136.1L867.17,135.1L866.71,135.1ZM874.15,136.1L875.07,136.1L874.84,135.1L874.38,135.1ZM881.82,136.1L882.74,136.1L882.51,135.1L882.05,135.1ZM889.49,136.1L890.41,136.1L890.18,135.1L889.72,135.1ZM897.16,136.1L898.08,136.1L897.85,135.1L897.39,135.1ZM904.83,136.1L905.75,136.1L905.52,135.1L905.06,135.1Z"/><polyline points="137.5,222.7 138,222.93 138.5,223.57 139,224.53 139.5,225.64 140,226.71 140.5,227.58 141,228.1 141.5,228.18 142,227.8 142.5,227.04 143,226.02 143.5,224.9 144,223.87 144.5,223.1 145,222.73 145.5,222.8 146,223.31 146.5,224.17 147,225.25 147.5,226.36 148,227.32 148.5,227.97 149,228.2 149.5,227.98 150,227.34 150.5,226.39 151,225.28 151.5,224.2 152,223.33 152.5,222.81 153,222.72 153.5,223.09 154,223.85 154.5,224.87 155,225.99 155.5,227.02 156,227.79 156.5,228.17 157,228.1 157.5,227.6 158,226.74 158.5,225.66 159,224.55 159.5,223.59 160,222.94 160.5,222.7 161,222.92 161.5,223.55 162,224.5 162.5,225.61 163,226.69 163.5,227.56 164,228.09 164.5,228.18 165,227.82 165.5,227.06 166,226.04 166.5,224.93 167,223.89 167.5,223.12 168,222.73 168.5,222.79 169,223.29 169.5,224.15 170,225.22 170.5,226.33 171,227.3 171.5,227.95 172,228.2 172.5,227.99 173,227.36 173.5,226.41 174,225.31 174.5,224.23 175,223.35 175.5,222.82 176,222.72 176.5,223.07 177,223.82 177.5,224.84 178,225.96 178.5,226.99 179,227.77 179.5,228.17 180,228.11 180.5,227.62 181,226.76 181.5,225.69 182,224.58 182.5,223.62 183,222.95 183.5,222.7 184,222.9 184.5,223.53 185,224.47 185.5,225.58 186,226.66 186.5,227.54 187,228.08 187.5,228.18 188,227.83 188.5,227.09 189,226.07 189.5,224.96 190,223.92 190.5,223.14 191,222.74 191.5,222.78 192,223.27 192.5,224.12 193,225.19 193.5,226.3 194,227.27 194.5,227.94 195,228.2 195.5,228 196,227.38 196.5,226.44 197,225.34 197.5,224.25 198,223.37 198.5,222.82 199,222.72 199.5,223.06 200,223.8 200.5,224.81 201,225.93 201.5,226.97 202,227.76 202.5,228.16 203,228.12 203.5,227.64 204,226.79 204.5,225.72 205,224.61 205.5,223.64 206,222.96 206.5,222.7 207,222.89 207.5,223.51 208,224.45 208.5,225.55 209,226.63 209.5,227.52 210,228.07 210.5,228.19 211,227.85 211.5,227.11 212,226.1 212.5,224.98 213,223.94 213.5,223.15 214,222.74 214.5,222.78 215,223.26 215.5,224.1 216,225.16 216.5,226.28 217,227.25 217.5,227.93 218,228.2 218.5,228.01 219,227.4 219.5,226.47 220,225.37 220.5,224.28 221,223.39 221.5,222.83 222,222.71 222.5,223.05 223,223.78 223.5,224.78 224,225.9 224.5,226.94 225,227.74 225.5,228.16 226,228.13 226.5,227.65 227,226.82 227.5,225.75 228,224.64 228.5,223.66 229,222.98 229.5,222.7 230,222.88 230.5,223.49 231,224.42 231.5,225.52 232,226.61 232.5,227.5 233,228.06 233.5,228.19 234,227.86 234.5,227.14 235,226.13 235.5,225.01 236,223.97 236.5,223.17 237,222.75 237.5,222.77 238,223.24 238.5,224.07 239,225.13 239.5,226.25 240,227.23 240.5,227.92 241,228.2 241.5,228.02 242,227.42 242.5,226.5 243,225.4 243.5,224.31 244,223.4 244.5,222.84 245,222.71 245.5,223.03 246,223.75 246.5,224.76 247,225.87 247.5,226.92 248,227.72 248.5,228.15 249,228.13 249.5,227.67 250,226.84 250.5,225.78 251,224.67 251.5,223.68 252,222.99 252.5,222.7 253,222.87 253.5,223.47 254,224.39 254.5,225.49 255,226.58 255.5,227.49 256,228.05 256.5,228.19 257,227.88 257.5,227.16 258,226.16 258.5,225.04 259,223.99 259.5,223.18 260,222.75 260.5,222.76 261,223.22 261.5,224.05 262,225.1 262.5,226.22 263,227.21 263.5,227.9 264,228.2 264.5,228.03 265,227.44 265.5,226.52 266,225.43 266.5,224.33 267,223.42 267.5,222.85 268,222.71 268.5,223.02 269,223.73 269.5,224.73 270,225.84 270.5,226.89 271,227.71 271.5,228.15 272,228.14 272.5,227.69 273,226.87 273.5,225.81 274,224.69 274.5,223.7 275,223 275.5,222.71 276,222.86 276.5,223.45 277,224.36 277.5,225.46 278,226.55 278.5,227.47 279,228.04 279.5,228.19 280,227.89 280.5,227.18 281,226.19 281.5,225.07 282,224.02 282.5,223.2 283,222.76 283.5,222.76 284,223.2 284.5,224.02 285,225.08 285.5,226.19 286,227.18 286.5,227.89 287,228.19 287.5,228.04 288,227.46 288.5,226.55 289,225.46 289.5,224.36 290,223.44 290.5,222.86 291,222.71 291.5,223 292,223.71 292.5,224.7 293,225.81 293.5,226.87 294,227.69 294.5,228.14 295,228.15 295.5,227.7 296,226.89 296.5,225.84 297,224.72 297.5,223.73 298,223.02 298.5,222.71 299,222.85 299.5,223.43 300,224.34 300.5,225.43 301,226.53 301.5,227.45 302,228.03 302.5,228.2 303,227.9 303.5,227.2 304,226.22 304.5,225.1 305,224.04 305.5,223.22 306,222.76 306.5,222.75 307,223.19 307.5,224 308,225.05 308.5,226.16 309,227.16 309.5,227.88 310,228.19 310.5,228.05 311,227.48 311.5,226.58 312,225.48 312.5,224.39 313,223.46 313.5,222.87 314,222.7 314.5,222.99 315,223.69 315.5,224.67 316,225.79 316.5,226.84 317,227.67 317.5,228.13 318,228.15 318.5,227.72 319,226.92 319.5,225.87 320,224.75 320.5,223.75 321,223.03 321.5,222.71 322,222.84 322.5,223.41 323,224.31 323.5,225.4 324,226.5 324.5,227.43 325,228.02 325.5,228.2 326,227.92 326.5,227.23 327,226.24 327.5,225.13 328,224.07 328.5,223.24 329,222.77 329.5,222.75 330,223.17 330.5,223.97 331,225.02 331.5,226.13 332,227.14 332.5,227.86 333,228.19 333.5,228.06 334,227.5 334.5,226.6 335,225.51 335.5,224.41 336,223.49 336.5,222.88 337,222.7 337.5,222.98 338,223.66 338.5,224.64 339,225.76 339.5,226.82 340,227.66 340.5,228.13 341,228.16 341.5,227.74 342,226.94 342.5,225.9 343,224.78 343.5,223.77 344,223.04 344.5,222.71 345,222.83 345.5,223.39 346,224.28 346.5,225.37 347,226.47 347.5,227.4 348,228.01 348.5,228.2 349,227.93 349.5,227.25 350,226.27 350.5,225.16 351,224.09 351.5,223.25 352,222.78 352.5,222.74 353,223.15 353.5,223.95 354,224.99 354.5,226.11 355,227.12 355.5,227.85 356,228.19 356.5,228.07 357,227.52 357.5,226.63 358,225.54 358.5,224.44 359,223.51 359.5,222.89 360,222.7 360.5,222.97 361,223.64 361.5,224.61 362,225.73 362.5,226.79 363,227.64 363.5,228.12 364,228.16 364.5,227.75 365,226.96 365.5,225.93 366,224.81 366.5,223.8 367,223.06 367.5,222.72 368,222.83 368.5,223.37 369,224.26 369.5,225.34 370,226.45 370.5,227.38 371,228 371.5,228.2 372,227.94 372.5,227.27 373,226.3 373.5,225.19 374,224.12 374.5,223.27 375,222.78 375.5,222.74 376,223.14 376.5,223.92 377,224.96 377.5,226.08 378,227.09 378.5,227.83 379,228.18 379.5,228.08 380,227.54 380.5,226.66 381,225.57 381.5,224.47 382,223.53 382.5,222.9 383,222.7 383.5,222.95 384,223.62 384.5,224.59 385,225.7 385.5,226.77 386,227.62 386.5,228.11 387,228.17 387.5,227.77 388,226.99 388.5,225.95 389,224.84 389.5,223.82 390,223.07 390.5,222.72 391,222.82 391.5,223.35 392,224.23 392.5,225.31 393,226.42 393.5,227.36 394,227.99 394.5,228.2 395,227.95 395.5,227.29 396,226.33 396.5,225.22 397,224.14 397.5,223.29 398,222.79 398.5,222.73 399,223.12 399.5,223.9 400,224.93 400.5,226.05 401,227.07 401.5,227.82 402,228.18 402.5,228.09 403,227.56 403.5,226.68 404,225.6 404.5,224.5 405,223.55 405.5,222.91 406,222.7 406.5,222.94 407,223.6 407.5,224.56 408,225.67 408.5,226.74 409,227.6 409.5,228.11 410,228.17 410.5,227.78 411,227.01 411.5,225.98 412,224.86 412.5,223.84 413,223.09 413.5,222.72 414,222.81 414.5,223.33 415,224.2 415.5,225.28 416,226.39 416.5,227.34 417,227.98 417.5,228.2 418,227.96 418.5,227.31 419,226.35 419.5,225.25 420,224.17 420.5,223.31 421,222.8 421.5,222.73 422,223.11 422.5,223.87 423,224.9 423.5,226.02 424,227.04 424.5,227.8 425,228.18 425.5,228.1 426,227.58 426.5,226.71 427,225.63 427.5,224.52 428,223.57 428.5,222.93 429,222.7 429.5,222.93 430,223.58 430.5,224.53 431,225.64 431.5,226.72 432,227.58 432.5,228.1 433,228.17 433.5,227.8 434,227.04 434.5,226.01 435,224.89 435.5,223.87 436,223.1 436.5,222.73 437,222.8 437.5,223.31 438,224.18 438.5,225.25 439,226.36 439.5,227.32 440,227.97 440.5,228.2 441,227.98 441.5,227.34 442,226.38 442.5,225.27 443,224.2 443.5,223.33 444,222.81 444.5,222.72 445,223.09 445.5,223.85 446,224.87 446.5,225.99 447,227.02 447.5,227.79 448,228.17 448.5,228.1 449,227.6 449.5,226.73 450,225.66 450.5,224.55 451,223.59 451.5,222.94 452,222.7 452.5,222.92 453,223.55 453.5,224.5 454,225.61 454.5,226.69 455,227.57 455.5,228.09 456,228.18 456.5,227.82 457,227.06 457.5,226.04 458,224.92 458.5,223.89 459,223.12 459.5,222.73 460,222.79 460.5,223.29 461,224.15 461.5,225.23 462,226.34 462.5,227.3 463,227.96 463.5,228.2 464,227.99 464.5,227.36 465,226.41 465.5,225.3 466,224.22 466.5,223.34 467,222.81 467.5,222.72 468,223.08 468.5,223.83 469,224.85 469.5,225.96 470,227 470.5,227.77 471,228.17 471.5,228.11 472,227.61 472.5,226.76 473,225.69 473.5,224.58 474,223.61 474.5,222.95 475,222.7 475.5,222.91 476,223.53 476.5,224.48 477,225.58 477.5,226.66 478,227.55 478.5,228.08 479,228.18 479.5,227.83 480,227.08 480.5,226.07 481,224.95 481.5,223.92 482,223.13 482.5,222.74 483,222.79 483.5,223.28 484,224.13 484.5,225.2 485,226.31 485.5,227.28 486,227.94 486.5,228.2 487,228 487.5,227.38 488,226.44 488.5,225.33 489,224.25 489.5,223.36 490,222.82 490.5,222.72 491,223.06 491.5,223.8 492,224.82 492.5,225.93 493,226.97 493.5,227.76 494,228.16 494.5,228.12 495,227.63 495.5,226.79 496,225.72 496.5,224.61 497,223.63 497.5,222.96 498,222.7 498.5,222.9 499,223.51 499.5,224.45 500,225.55 500.5,226.64 501,227.53 501.5,228.07 502,228.19 502.5,227.84 503,227.11 503.5,226.1 504,224.98 504.5,223.94 505,223.15 505.5,222.74 506,222.78 506.5,223.26 507,224.1 507.5,225.17 508,226.28 508.5,227.26 509,227.93 509.5,228.2 510,228.01 510.5,227.4 511,226.46 511.5,225.36 512,224.28 512.5,223.38 513,222.83 513.5,222.71 514,223.05 514.5,223.78 515,224.79 515.5,225.91 516,226.95 516.5,227.74 517,228.16 517.5,228.13 518,227.65 518.5,226.81 519,225.75 519.5,224.63 520,223.66 520.5,222.97 521,222.7 521.5,222.88 522,223.49 522.5,224.42 523,225.52 523.5,226.61 524,227.51 524.5,228.06 525,228.19 525.5,227.86 526,227.13 526.5,226.13 527,225.01 527.5,223.96 528,223.17 528.5,222.74 529,222.77 529.5,223.24 530,224.08 530.5,225.14 531,226.25 531.5,227.23 532,227.92 532.5,228.2 533,228.02 533.5,227.42 534,226.49 534.5,225.39 535,224.3 535.5,223.4 536,222.84 536.5,222.71 537,223.03 537.5,223.76 538,224.76 538.5,225.88 539,226.92 539.5,227.73 540,228.15 540.5,228.13 541,227.67 541.5,226.84 542,225.78 542.5,224.66 543,223.68 543.5,222.99 544,222.7 544.5,222.87 545,223.47 545.5,224.39 546,225.49 546.5,226.58 547,227.49 547.5,228.05 548,228.19 548.5,227.87 549,227.15 549.5,226.15 550,225.04 550.5,223.99 551,223.18 551.5,222.75 552,222.77 552.5,223.22 553,224.05 553.5,225.11 554,226.22 554.5,227.21 555,227.91 555.5,228.2 556,228.03 556.5,227.44 557,226.52 557.5,225.42 558,224.33 558.5,223.42 559,222.85 559.5,222.71 560,223.02 560.5,223.73 561,224.73 561.5,225.85 562,226.9 562.5,227.71 563,228.15 563.5,228.14 564,227.68 564.5,226.86 565,225.81 565.5,224.69 566,223.7 566.5,223 567,222.71 567.5,222.86 568,223.45 568.5,224.37 569,225.46 569.5,226.56 570,227.47 570.5,228.05 571,228.19 571.5,227.89 572,227.18 572.5,226.18 573,225.07 573.5,224.01 574,223.2 574.5,222.76 575,222.76 575.5,223.21 576,224.03 576.5,225.08 577,226.2 577.5,227.19 578,227.89 578.5,228.19 579,228.04 579.5,227.46 580,226.55 580.5,225.45 581,224.36 581.5,223.44 582,222.86 582.5,222.71 583,223.01 583.5,223.71 584,224.7 584.5,225.82 585,226.87 585.5,227.69 586,228.14 586.5,228.14 587,227.7 587.5,226.89 588,225.83 588.5,224.72 589,223.72 589.5,223.01 590,222.71 590.5,222.85 591,223.43 591.5,224.34 592,225.43 592.5,226.53 593,227.45 593.5,228.04 594,228.19 594.5,227.9 595,227.2 595.5,226.21 596,225.1 596.5,224.04 597,223.22 597.5,222.76 598,222.75 598.5,223.19 599,224 599.5,225.05 600,226.17 600.5,227.17 601,227.88 601.5,228.19 602,228.05 602.5,227.48 603,226.57 603.5,225.48 604,224.38 604.5,223.46 605,222.87 605.5,222.7 606,222.99 606.5,223.69 607,224.68 607.5,225.79 608,226.85 608.5,227.68 609,228.13 609.5,228.15 610,227.72 610.5,226.91 611,225.86 611.5,224.75 612,223.75 612.5,223.03 613,222.71 613.5,222.84 614,223.41 614.5,224.31 615,225.41 615.5,226.5 616,227.43 616.5,228.03 617,228.2 617.5,227.91 618,227.22 618.5,226.24 619,225.12 619.5,224.06 620,223.23 620.5,222.77 621,222.75 621.5,223.17 622,223.98 622.5,225.02 623,226.14 623.5,227.14 624,227.87 624.5,228.19 625,228.06 625.5,227.5 626,226.6 626.5,225.51 627,224.41 627.5,223.48 628,222.88 628.5,222.7 629,222.98 629.5,223.67 630,224.65 630.5,225.76 631,226.82 631.5,227.66 632,228.13 632.5,228.16 633,227.73 633.5,226.94 634,225.89 634.5,224.78 635,223.77 635.5,223.04 636,222.71 636.5,222.84 637,223.39 637.5,224.29 638,225.38 638.5,226.48 639,227.41 639.5,228.01 640,228.2 640.5,227.93 641,227.24 641.5,226.27 642,225.15 642.5,224.09 643,223.25 643.5,222.78 644,222.74 644.5,223.16 645,223.95 645.5,224.99 646,226.11 646.5,227.12 647,227.85 647.5,228.19 648,228.07 648.5,227.52 649,226.63 649.5,225.54 650,224.44 650.5,223.5 651,222.89 651.5,222.7 652,222.97 652.5,223.64 653,224.62 653.5,225.73 654,226.8 654.5,227.64 655,228.12 655.5,228.16 656,227.75 656.5,226.96 657,225.92 657.5,224.8 658,223.79 658.5,223.06 659,222.72 659.5,222.83 660,223.37 660.5,224.26 661,225.35 661.5,226.45 662,227.39 662.5,228 663,228.2 663.5,227.94 664,227.27 664.5,226.29 665,225.18 665.5,224.12 666,223.27 666.5,222.78 667,222.74 667.5,223.14 668,223.93 668.5,224.96 669,226.08 669.5,227.1 670,227.84 670.5,228.18 671,228.08 671.5,227.54 672,226.65 672.5,225.57 673,224.46 673.5,223.52 674,222.9 674.5,222.7 675,222.96 675.5,223.62 676,224.59 676.5,225.7 677,226.77 677.5,227.62 678,228.11 678.5,228.17 679,227.77 679.5,226.99 680,225.95 680.5,224.83 681,223.82 681.5,223.07 682,222.72 682.5,222.82 683,223.35 683.5,224.23 684,225.32 684.5,226.42 685,227.37 685.5,227.99 686,228.2 686.5,227.95 687,227.29 687.5,226.32 688,225.21 688.5,224.14 689,223.29 689.5,222.79 690,222.73 690.5,223.13 691,223.9 691.5,224.94 692,226.05 692.5,227.07 693,227.82 693.5,228.18 694,228.09 694.5,227.56 695,226.68 695.5,225.6 696,224.49 696.5,223.54 697,222.91 697.5,222.7 698,222.94 698.5,223.6 699,224.56 699.5,225.67 700,226.75 700.5,227.6 701,228.11 701.5,228.17 702,227.78 702.5,227.01 703,225.98 703.5,224.86 704,223.84 704.5,223.09 705,222.72 705.5,222.81 706,223.33 706.5,224.21 707,225.29 707.5,226.39 708,227.35 708.5,227.98 709,228.2 709.5,227.96 710,227.31 710.5,226.35 711,225.24 711.5,224.17 712,223.3 712.5,222.8 713,222.73 713.5,223.11 714,223.88 714.5,224.91 715,226.03 715.5,227.05 716,227.81 716.5,228.18 717,228.09 717.5,227.58 718,226.7 718.5,225.63 719,224.52 719.5,223.57 720,222.92 720.5,222.7 721,222.93 721.5,223.58 722,224.54 722.5,225.64 723,226.72 723.5,227.59 724,228.1 724.5,228.17 725,227.8 725.5,227.03 726,226.01 726.5,224.89 727,223.86 727.5,223.1 728,222.73 728.5,222.8 729,223.32 729.5,224.18 730,225.26 730.5,226.37 731,227.32 731.5,227.97 732,228.2 732.5,227.97 733,227.33 733.5,226.38 734,225.27 734.5,224.19 735,223.32 735.5,222.8 736,222.72 736.5,223.09 737,223.85 737.5,224.88 738,226 738.5,227.02 739,227.79 739.5,228.17 740,228.1 740.5,227.59 741,226.73 741.5,225.66 742,224.55 742.5,223.59 743,222.94 743.5,222.7 744,222.92 744.5,223.56 745,224.51 745.5,225.61 746,226.69 746.5,227.57 747,228.09 747.5,228.18 748,227.81 748.5,227.06 749,226.04 749.5,224.92 750,223.89 750.5,223.12 751,222.73 751.5,222.79 752,223.3 752.5,224.16 753,225.23 753.5,226.34 754,227.3 754.5,227.96 755,228.2 755.5,227.99 756,227.35 756.5,226.41 757,225.3 757.5,224.22 758,223.34 758.5,222.81 759,222.72 759.5,223.08 760,223.83 760.5,224.85 761,225.97 761.5,227 762,227.78 762.5,228.17 763,228.11 763.5,227.61 764,226.76 764.5,225.68 765,224.57 765.5,223.61 766,222.95 766.5,222.7 767,222.91 767.5,223.54 768,224.48 768.5,225.59 769,226.67 769.5,227.55 770,228.08 770.5,228.18 771,227.83 771.5,227.08 772,226.06 772.5,224.95 773,223.91 773.5,223.13 774,222.73 774.5,222.79 775,223.28 775.5,224.13 776,225.2 776.5,226.31 777,227.28 777.5,227.95 778,228.2 778.5,228 779,227.37 779.5,226.43 780,225.33 780.5,224.25 781,223.36 781.5,222.82 782,222.72 782.5,223.06 783,223.81 783.5,224.82 784,225.94 784.5,226.98 785,227.76 785.5,228.16 786,228.12 786.5,227.63 787,226.78 787.5,225.71 788,224.6 788.5,223.63 789,222.96 789.5,222.7 790,222.9 790.5,223.52 791,224.45 791.5,225.56 792,226.64 792.5,227.53 793,228.07 793.5,228.18 794,227.84 794.5,227.1 795,226.09 795.5,224.98 796,223.94 796.5,223.15 797,222.74 797.5,222.78 798,223.26 798.5,224.11 799,225.17 799.5,226.28 800,227.26 800.5,227.93 801,228.2 801.5,228.01 802,227.4 802.5,226.46 803,225.36 803.5,224.27 804,223.38 804.5,222.83 805,222.71 805.5,223.05 806,223.78 806.5,224.79 807,225.91 807.5,226.95 808,227.74 808.5,228.16 809,228.12 809.5,227.65 810,226.81 810.5,225.74 811,224.63 811.5,223.65 812,222.97 812.5,222.7 813,222.89 813.5,223.49 814,224.43 814.5,225.53 815,226.62 815.5,227.51 816,228.07 816.5,228.19 817,227.86 817.5,227.13 818,226.12 818.5,225 819,223.96 819.5,223.16 820,222.74 820.5,222.77 821,223.24 821.5,224.08 822,225.14 822.5,226.26 823,227.24 823.5,227.92 824,228.2 824.5,228.02 825,227.42 825.5,226.49 826,225.39 826.5,224.3 827,223.4 827.5,222.84 828,222.71 828.5,223.04 829,223.76 829.5,224.76 830,225.88 830.5,226.93 831,227.73 831.5,228.15 832,228.13 832.5,227.66 833,226.83 833.5,225.77 834,224.66 834.5,223.67 835,222.99 835.5,222.7 836,222.88 836.5,223.47 837,224.4 837.5,225.5 838,226.59 838.5,227.49 839,228.06 839.5,228.19 840,227.87 840.5,227.15 841,226.15 841.5,225.03 842,223.99 842.5,223.18 843,222.75 843.5,222.77 844,223.23 844.5,224.05 845,225.11 845.5,226.23 846,227.21 846.5,227.91 847,228.2 847.5,228.03 848,227.44 848.5,226.51 849,225.42 849.5,224.32 850,223.42 850.5,222.85 851,222.71 851.5,223.02 852,223.74 852.5,224.74 853,225.85 853.5,226.9 854,227.71 854.5,228.15 855,228.14 855.5,227.68 856,226.86 856.5,225.8 857,224.69 857.5,223.7 858,223 858.5,222.71 859,222.87 859.5,223.45 860,224.37 860.5,225.47 861,226.56 861.5,227.47 862,228.05 862.5,228.19 863,227.88 863.5,227.17 864,226.18 864.5,225.06 865,224.01 865.5,223.2 866,222.76 866.5,222.76 867,223.21 867.5,224.03 868,225.08 868.5,226.2 869,227.19 869.5,227.89 870,228.19 870.5,228.04 871,227.46 871.5,226.54 872,225.45 872.5,224.35 873,223.44 873.5,222.86 874,222.71 874.5,223.01 875,223.71 875.5,224.71 876,225.82 876.5,226.88 877,227.7 877.5,228.14 878,228.14 878.5,227.7 879,226.88 879.5,225.83 880,224.71 880.5,223.72 881,223.01 881.5,222.71 882,222.86 882.5,223.43 883,224.35 883.5,225.44 884,226.54 884.5,227.45 885,228.04 885.5,228.19 886,227.9 886.5,227.2 887,226.21 887.5,225.09 888,224.04 888.5,223.21 889,222.76 889.5,222.75 890,223.19 890.5,224 891,225.06 891.5,226.17 892,227.17 892.5,227.88 893,228.19 893.5,228.05 894,227.48 894.5,226.57 895,225.48 895.5,224.38 896,223.46 896.5,222.87 897,222.7 897.5,223 898,223.69 898.5,224.68 899,225.79 899.5,226.85 900,227.68 900.5,228.14 901,228.15 901.5,227.72 902,226.91 902.5,225.86 903,224.74 903.5,223.74 904,223.03 904.5,222.71 905,222.85" fill="none" stroke="#E24A33" stroke-width="1.39" stroke-linejoin="round"/><polyline points="137.5,225.45 138,224.35 138.5,223.44 139,222.86 139.5,222.71 140,223.01 140.5,223.71 141,224.7 141.5,225.82 142,226.87 142.5,227.69 143,228.14 143.5,228.14 144,227.7 144.5,226.89 145,225.83 145.5,224.72 146,223.72 146.5,223.01 147,222.71 147.5,222.85 148,223.43 148.5,224.34 149,225.44 149.5,226.53 150,227.45 150.5,228.04 151,228.19 151.5,227.9 152,227.2 152.5,226.21 153,225.1 153.5,224.04 154,223.22 154.5,222.76 155,222.75 155.5,223.19 156,224 156.5,225.05 157,226.17 157.5,227.17 158,227.88 158.5,228.19 159,228.05 159.5,227.48 160,226.57 160.5,225.48 161,224.38 161.5,223.46 162,222.87 162.5,222.7 163,222.99 163.5,223.69 164,224.68 164.5,225.79 165,226.85 165.5,227.68 166,228.13 166.5,228.15 167,227.72 167.5,226.91 168,225.86 168.5,224.75 169,223.75 169.5,223.03 170,222.71 170.5,222.85 171,223.41 171.5,224.31 172,225.41 172.5,226.5 173,227.43 173.5,228.03 174,228.2 174.5,227.91 175,227.22 175.5,226.24 176,225.12 176.5,224.06 177,223.23 177.5,222.77 178,222.75 178.5,223.17 179,223.98 179.5,225.02 180,226.14 180.5,227.14 181,227.87 181.5,228.19 182,228.06 182.5,227.5 183,226.6 183.5,225.51 184,224.41 184.5,223.48 185,222.88 185.5,222.7 186,222.98 186.5,223.67 187,224.65 187.5,225.76 188,226.82 188.5,227.66 189,228.13 189.5,228.16 190,227.73 190.5,226.94 191,225.89 191.5,224.77 192,223.77 192.5,223.04 193,222.71 193.5,222.84 194,223.39 194.5,224.29 195,225.38 195.5,226.48 196,227.41 196.5,228.02 197,228.2 197.5,227.93 198,227.24 198.5,226.27 199,225.15 199.5,224.09 200,223.25 200.5,222.77 201,222.74 201.5,223.16 202,223.95 202.5,224.99 203,226.11 203.5,227.12 204,227.85 204.5,228.19 205,228.07 205.5,227.52 206,226.63 206.5,225.54 207,224.44 207.5,223.5 208,222.89 208.5,222.7 209,222.97 209.5,223.64 210,224.62 210.5,225.73 211,226.8 211.5,227.64 212,228.12 212.5,228.16 213,227.75 213.5,226.96 214,225.92 214.5,224.8 215,223.79 215.5,223.06 216,222.72 216.5,222.83 217,223.37 217.5,224.26 218,225.35 218.5,226.45 219,227.39 219.5,228 220,228.2 220.5,227.94 221,227.27 221.5,226.29 222,225.18 222.5,224.11 223,223.27 223.5,222.78 224,222.74 224.5,223.14 225,223.93 225.5,224.96 226,226.08 226.5,227.1 227,227.84 227.5,228.18 228,228.08 228.5,227.54 229,226.65 229.5,225.57 230,224.46 230.5,223.52 231,222.9 231.5,222.7 232,222.96 232.5,223.62 233,224.59 233.5,225.7 234,226.77 234.5,227.62 235,228.11 235.5,228.17 236,227.77 236.5,226.99 237,225.95 237.5,224.83 238,223.82 238.5,223.07 239,222.72 239.5,222.82 240,223.35 240.5,224.24 241,225.32 241.5,226.42 242,227.37 242.5,227.99 243,228.2 243.5,227.95 244,227.29 244.5,226.32 245,225.21 245.5,224.14 246,223.29 246.5,222.79 247,222.73 247.5,223.13 248,223.9 248.5,224.94 249,226.05 249.5,227.07 250,227.82 250.5,228.18 251,228.09 251.5,227.56 252,226.68 252.5,225.6 253,224.49 253.5,223.54 254,222.91 254.5,222.7 255,222.94 255.5,223.6 256,224.56 256.5,225.67 257,226.75 257.5,227.61 258,228.11 258.5,228.17 259,227.78 259.5,227.01 260,225.98 260.5,224.86 261,223.84 261.5,223.08 262,222.72 262.5,222.81 263,223.33 263.5,224.21 264,225.29 264.5,226.4 265,227.35 265.5,227.98 266,228.2 266.5,227.96 267,227.31 267.5,226.35 268,225.24 268.5,224.17 269,223.3 269.5,222.8 270,222.73 270.5,223.11 271,223.88 271.5,224.91 272,226.03 272.5,227.05 273,227.81 273.5,228.18 274,228.09 274.5,227.57 275,226.7 275.5,225.63 276,224.52 276.5,223.57 277,222.92 277.5,222.7 278,222.93 278.5,223.58 279,224.54 279.5,225.64 280,226.72 280.5,227.59 281,228.1 281.5,228.17 282,227.8 282.5,227.03 283,226.01 283.5,224.89 284,223.86 284.5,223.1 285,222.73 285.5,222.8 286,223.32 286.5,224.18 287,225.26 287.5,226.37 288,227.32 288.5,227.97 289,228.2 289.5,227.97 290,227.33 290.5,226.38 291,225.27 291.5,224.19 292,223.32 292.5,222.8 293,222.72 293.5,223.09 294,223.85 294.5,224.88 295,226 295.5,227.02 296,227.79 296.5,228.17 297,228.1 297.5,227.59 298,226.73 298.5,225.65 299,224.55 299.5,223.59 300,222.94 300.5,222.7 301,222.92 301.5,223.56 302,224.51 302.5,225.62 303,226.69 303.5,227.57 304,228.09 304.5,228.18 305,227.81 305.5,227.06 306,226.04 306.5,224.92 307,223.89 307.5,223.12 308,222.73 308.5,222.79 309,223.3 309.5,224.16 310,225.23 310.5,226.34 311,227.3 311.5,227.96 312,228.2 312.5,227.99 313,227.35 313.5,226.41 314,225.3 314.5,224.22 315,223.34 315.5,222.81 316,222.72 316.5,223.08 317,223.83 317.5,224.85 318,225.97 318.5,227 319,227.78 319.5,228.17 320,228.11 320.5,227.61 321,226.76 321.5,225.68 322,224.57 322.5,223.61 323,222.95 323.5,222.7 324,222.91 324.5,223.54 325,224.48 325.5,225.59 326,226.67 326.5,227.55 327,228.08 327.5,228.18 328,227.83 328.5,227.08 329,226.06 329.5,224.95 330,223.91 330.5,223.13 331,222.73 331.5,222.79 332,223.28 332.5,224.13 333,225.2 333.5,226.31 334,227.28 334.5,227.95 335,228.2 335.5,228 336,227.37 336.5,226.43 337,225.33 337.5,224.24 338,223.36 338.5,222.82 339,222.72 339.5,223.07 340,223.81 340.5,224.82 341,225.94 341.5,226.98 342,227.76 342.5,228.16 343,228.12 343.5,227.63 344,226.78 344.5,225.71 345,224.6 345.5,223.63 346,222.96 346.5,222.7 347,222.9 347.5,223.52 348,224.45 348.5,225.56 349,226.64 349.5,227.53 350,228.07 350.5,228.18 351,227.84 351.5,227.1 352,226.09 352.5,224.97 353,223.94 353.5,223.15 354,222.74 354.5,222.78 355,223.26 355.5,224.11 356,225.17 356.5,226.28 357,227.26 357.5,227.93 358,228.2 358.5,228.01 359,227.39 359.5,226.46 360,225.36 360.5,224.27 361,223.38 361.5,222.83 362,222.71 362.5,223.05 363,223.78 363.5,224.79 364,225.91 364.5,226.95 365,227.75 365.5,228.16 366,228.12 366.5,227.65 367,226.81 367.5,225.74 368,224.63 368.5,223.65 369,222.97 369.5,222.7 370,222.89 370.5,223.49 371,224.43 371.5,225.53 372,226.62 372.5,227.51 373,228.07 373.5,228.19 374,227.86 374.5,227.13 375,226.12 375.5,225 376,223.96 376.5,223.16 377,222.74 377.5,222.77 378,223.24 378.5,224.08 379,225.14 379.5,226.26 380,227.24 380.5,227.92 381,228.2 381.5,228.02 382,227.42 382.5,226.49 383,225.39 383.5,224.3 384,223.4 384.5,222.84 385,222.71 385.5,223.04 386,223.76 386.5,224.76 387,225.88 387.5,226.93 388,227.73 388.5,228.15 389,228.13 389.5,227.66 390,226.83 390.5,225.77 391,224.66 391.5,223.67 392,222.99 392.5,222.7 393,222.88 393.5,223.47 394,224.4 394.5,225.5 395,226.59 395.5,227.49 396,228.06 396.5,228.19 397,227.87 397.5,227.15 398,226.15 398.5,225.03 399,223.98 399.5,223.18 400,222.75 400.5,222.77 401,223.23 401.5,224.06 402,225.11 402.5,226.23 403,227.21 403.5,227.91 404,228.2 404.5,228.03 405,227.44 405.5,226.51 406,225.42 406.5,224.32 407,223.42 407.5,222.85 408,222.71 408.5,223.02 409,223.74 409.5,224.74 410,225.85 410.5,226.9 411,227.71 411.5,228.15 412,228.14 412.5,227.68 413,226.86 413.5,225.8 414,224.69 414.5,223.7 415,223 415.5,222.71 416,222.87 416.5,223.45 417,224.37 417.5,225.47 418,226.56 418.5,227.47 419,228.05 419.5,228.19 420,227.88 420.5,227.17 421,226.18 421.5,225.06 422,224.01 422.5,223.2 423,222.76 423.5,222.76 424,223.21 424.5,224.03 425,225.09 425.5,226.2 426,227.19 426.5,227.9 427,228.19 427.5,228.04 428,227.46 428.5,226.54 429,225.45 429.5,224.35 430,223.44 430.5,222.86 431,222.71 431.5,223.01 432,223.72 432.5,224.71 433,225.82 433.5,226.88 434,227.7 434.5,228.14 435,228.14 435.5,227.7 436,226.88 436.5,225.83 437,224.71 437.5,223.72 438,223.01 438.5,222.71 439,222.86 439.5,223.43 440,224.35 440.5,225.44 441,226.54 441.5,227.45 442,228.04 442.5,228.19 443,227.9 443.5,227.2 444,226.21 444.5,225.09 445,224.03 445.5,223.21 446,222.76 446.5,222.75 447,223.19 447.5,224 448,225.06 448.5,226.17 449,227.17 449.5,227.88 450,228.19 450.5,228.05 451,227.48 451.5,226.57 452,225.47 452.5,224.38 453,223.46 453.5,222.87 454,222.7 454.5,223 455,223.69 455.5,224.68 456,225.79 456.5,226.85 457,227.68 457.5,228.14 458,228.15 458.5,227.72 459,226.91 459.5,225.86 460,224.74 460.5,223.74 461,223.03 461.5,222.71 462,222.85 462.5,223.41 463,224.32 463.5,225.41 464,226.51 464.5,227.43 465,228.03 465.5,228.2 466,227.91 466.5,227.22 467,226.23 467.5,225.12 468,224.06 468.5,223.23 469,222.77 469.5,222.75 470,223.18 470.5,223.98 471,225.03 471.5,226.14 472,227.15 472.5,227.87 473,228.19 473.5,228.06 474,227.5 474.5,226.59 475,225.5 475.5,224.4 476,223.48 476.5,222.88 477,222.7 477.5,222.98 478,223.67 478.5,224.65 479,225.77 479.5,226.83 480,227.66 480.5,228.13 481,228.15 481.5,227.73 482,226.93 482.5,225.89 483,224.77 483.5,223.77 484,223.04 484.5,222.71 485,222.84 485.5,223.39 486,224.29 486.5,225.38 487,226.48 487.5,227.41 488,228.02 488.5,228.2 489,227.92 489.5,227.24 490,226.26 490.5,225.15 491,224.09 491.5,223.25 492,222.77 492.5,222.74 493,223.16 493.5,223.96 494,225 494.5,226.12 495,227.12 495.5,227.85 496,228.19 496.5,228.07 497,227.51 497.5,226.62 498,225.53 498.5,224.43 499,223.5 499.5,222.89 500,222.7 500.5,222.97 501,223.65 501.5,224.62 502,225.74 502.5,226.8 503,227.64 503.5,228.12 504,228.16 504.5,227.75 505,226.96 505.5,225.92 506,224.8 506.5,223.79 507,223.05 507.5,222.71 508,222.83 508.5,223.38 509,224.27 509.5,225.35 510,226.45 510.5,227.39 511,228.01 511.5,228.2 512,227.94 512.5,227.26 513,226.29 513.5,225.18 514,224.11 514.5,223.27 515,222.78 515.5,222.74 516,223.14 516.5,223.93 517,224.97 517.5,226.09 518,227.1 518.5,227.84 519,228.18 519.5,228.08 520,227.53 520.5,226.65 521,225.56 521.5,224.46 522,223.52 522.5,222.9 523,222.7 523.5,222.96 524,223.63 524.5,224.6 525,225.71 525.5,226.78 526,227.63 526.5,228.12 527,228.16 527.5,227.76 528,226.98 528.5,225.95 529,224.83 529.5,223.81 530,223.07 530.5,222.72 531,222.82 531.5,223.36 532,224.24 532.5,225.32 533,226.43 533.5,227.37 534,228 534.5,228.2 535,227.95 535.5,227.29 536,226.32 536.5,225.21 537,224.14 537.5,223.28 538,222.79 538.5,222.73 539,223.13 539.5,223.91 540,224.94 540.5,226.06 541,227.08 541.5,227.82 542,228.18 542.5,228.08 543,227.55 543.5,226.67 544,225.59 544.5,224.49 545,223.54 545.5,222.91 546,222.7 546.5,222.94 547,223.6 547.5,224.57 548,225.68 548.5,226.75 549,227.61 549.5,228.11 550,228.17 550.5,227.78 551,227.01 551.5,225.97 552,224.86 552.5,223.84 553,223.08 553.5,222.72 554,222.81 554.5,223.34 555,224.21 555.5,225.29 556,226.4 556.5,227.35 557,227.98 557.5,228.2 558,227.96 558.5,227.31 559,226.35 559.5,225.24 560,224.16 560.5,223.3 561,222.8 561.5,222.73 562,223.11 562.5,223.88 563,224.91 563.5,226.03 564,227.05 564.5,227.81 565,228.18 565.5,228.09 566,227.57 566.5,226.7 567,225.62 567.5,224.51 568,223.56 568.5,222.92 569,222.7 569.5,222.93 570,223.58 570.5,224.54 571,225.65 571.5,226.72 572,227.59 572.5,228.1 573,228.17 573.5,227.8 574,227.03 574.5,226 575,224.88 575.5,223.86 576,223.1 576.5,222.73 577,222.8 577.5,223.32 578,224.19 578.5,225.26 579,226.37 579.5,227.33 580,227.97 580.5,228.2 581,227.97 581.5,227.33 582,226.37 582.5,225.27 583,224.19 583.5,223.32 584,222.8 584.5,222.72 585,223.1 585.5,223.86 586,224.88 586.5,226 587,227.03 587.5,227.79 588,228.17 588.5,228.1 589,227.59 589.5,226.73 590,225.65 590.5,224.54 591,223.58 591.5,222.93 592,222.7 592.5,222.92 593,223.56 593.5,224.51 594,225.62 594.5,226.7 595,227.57 595.5,228.09 596,228.18 596.5,227.81 597,227.05 597.5,226.03 598,224.91 598.5,223.88 599,223.11 599.5,222.73 600,222.8 600.5,223.3 601,224.16 601.5,225.24 602,226.34 602.5,227.31 603,227.96 603.5,228.2 604,227.98 604.5,227.35 605,226.4 605.5,225.29 606,224.21 606.5,223.34 607,222.81 607.5,222.72 608,223.08 608.5,223.83 609,224.85 609.5,225.97 610,227 610.5,227.78 611,228.17 611.5,228.11 612,227.61 612.5,226.75 613,225.68 613.5,224.57 614,223.6 614.5,222.95 615,222.7 615.5,222.91 616,223.54 616.5,224.49 617,225.59 617.5,226.67 618,227.55 618.5,228.08 619,228.18 619.5,227.83 620,227.08 620.5,226.06 621,224.94 621.5,223.91 622,223.13 622.5,222.73 623,222.79 623.5,223.28 624,224.14 624.5,225.21 625,226.32 625.5,227.28 626,227.95 626.5,228.2 627,228 627.5,227.37 628,226.43 628.5,225.32 629,224.24 629.5,223.36 630,222.82 630.5,222.72 631,223.07 631.5,223.81 632,224.83 632.5,225.94 633,226.98 633.5,227.76 634,228.16 634.5,228.12 635,227.63 635.5,226.78 636,225.71 636.5,224.6 637,223.63 637.5,222.96 638,222.7 638.5,222.9 639,223.52 639.5,224.46 640,225.56 640.5,226.65 641,227.53 641.5,228.08 642,228.18 642.5,227.84 643,227.1 643.5,226.09 644,224.97 644.5,223.93 645,223.14 645.5,222.74 646,222.78 646.5,223.26 647,224.11 647.5,225.18 648,226.29 648.5,227.26 649,227.94 649.5,228.2 650,228.01 650.5,227.39 651,226.46 651.5,225.35 652,224.27 652.5,223.38 653,222.83 653.5,222.71 654,223.05 654.5,223.79 655,224.8 655.5,225.92 656,226.96 656.5,227.75 657,228.16 657.5,228.12 658,227.64 658.5,226.8 659,225.74 659.5,224.62 660,223.65 660.5,222.97 661,222.7 661.5,222.89 662,223.5 662.5,224.43 663,225.53 663.5,226.62 664,227.51 664.5,228.07 665,228.19 665.5,227.85 666,227.12 666.5,226.12 667,225 667.5,223.96 668,223.16 668.5,222.74 669,222.77 669.5,223.25 670,224.08 670.5,225.15 671,226.26 671.5,227.24 672,227.92 672.5,228.2 673,228.02 673.5,227.41 674,226.48 674.5,225.38 675,224.29 675.5,223.4 676,222.84 676.5,222.71 677,223.04 677.5,223.76 678,224.77 678.5,225.89 679,226.93 679.5,227.73 680,228.15 680.5,228.13 681,227.66 681.5,226.83 682,225.77 682.5,224.65 683,223.67 683.5,222.98 684,222.7 684.5,222.88 685,223.48 685.5,224.4 686,225.5 686.5,226.59 687,227.49 687.5,228.06 688,228.19 688.5,227.87 689,227.15 689.5,226.15 690,225.03 690.5,223.98 691,223.18 691.5,222.75 692,222.77 692.5,223.23 693,224.06 693.5,225.12 694,226.23 694.5,227.22 695,227.91 695.5,228.2 696,228.03 696.5,227.43 697,226.51 697.5,225.41 698,224.32 698.5,223.42 699,222.85 699.5,222.71 700,223.02 700.5,223.74 701,224.74 701.5,225.86 702,226.91 702.5,227.71 703,228.15 703.5,228.14 704,227.68 704.5,226.85 705,225.8 705.5,224.68 706,223.69 706.5,223 707,222.7 707.5,222.87 708,223.46 708.5,224.38 709,225.47 709.5,226.57 710,227.48 710.5,228.05 711,228.19 711.5,227.88 712,227.17 712.5,226.17 713,225.06 713.5,224.01 714,223.19 714.5,222.75 715,222.76 715.5,223.21 716,224.03 716.5,225.09 717,226.2 717.5,227.2 718,227.9 718.5,228.19 719,228.04 719.5,227.45 720,226.54 720.5,225.44 721,224.35 721.5,223.43 722,222.86 722.5,222.71 723,223.01 723.5,223.72 724,224.71 724.5,225.83 725,226.88 725.5,227.7 726,228.14 726.5,228.14 727,227.7 727.5,226.88 728,225.82 728.5,224.71 729,223.72 729.5,223.01 730,222.71 730.5,222.86 731,223.44 731.5,224.35 732,225.44 732.5,226.54 733,227.46 733.5,228.04 734,228.19 734.5,227.9 735,227.19 735.5,226.2 736,225.09 736.5,224.03 737,223.21 737.5,222.76 738,222.75 738.5,223.2 739,224.01 739.5,225.06 740,226.18 740.5,227.17 741,227.88 741.5,228.19 742,228.05 742.5,227.47 743,226.56 743.5,225.47 744,224.37 744.5,223.45 745,222.87 745.5,222.7 746,223 746.5,223.7 747,224.68 747.5,225.8 748,226.86 748.5,227.68 749,228.14 749.5,228.15 750,227.71 750.5,226.9 751,225.85 751.5,224.74 752,223.74 752.5,223.02 753,222.71 753.5,222.85 754,223.42 754.5,224.32 755,225.42 755.5,226.51 756,227.43 756.5,228.03 757,228.2 757.5,227.91 758,227.22 758.5,226.23 759,225.12 759.5,224.06 760,223.23 760.5,222.77 761,222.75 761.5,223.18 762,223.98 762.5,225.03 763,226.15 763.5,227.15 764,227.87 764.5,228.19 765,228.06 765.5,227.49 766,226.59 766.5,225.5 767,224.4 767.5,223.48 768,222.88 768.5,222.7 769,222.98 769.5,223.67 770,224.66 770.5,225.77 771,226.83 771.5,227.66 772,228.13 772.5,228.15 773,227.73 773.5,226.93 774,225.88 774.5,224.77 775,223.76 775.5,223.04 776,222.71 776.5,222.84 777,223.4 777.5,224.3 778,225.39 778.5,226.49 779,227.41 779.5,228.02 780,228.2 780.5,227.92 781,227.24 781.5,226.26 782,225.14 782.5,224.08 783,223.24 783.5,222.77 784,222.74 784.5,223.16 785,223.96 785.5,225 786,226.12 786.5,227.13 787,227.86 787.5,228.19 788,228.07 788.5,227.51 789,226.62 789.5,225.53 790,224.43 790.5,223.5 791,222.89 791.5,222.7 792,222.97 792.5,223.65 793,224.63 793.5,225.74 794,226.81 794.5,227.65 795,228.12 795.5,228.16 796,227.75 796.5,226.95 797,225.91 797.5,224.79 798,223.78 798.5,223.05 799,222.71 799.5,222.83 800,223.38 800.5,224.27 801,225.36 801.5,226.46 802,227.39 802.5,228.01 803,228.2 803.5,227.93 804,227.26 804.5,226.29 805,225.17 805.5,224.11 806,223.26 806.5,222.78 807,222.74 807.5,223.15 808,223.93 808.5,224.97 809,226.09 809.5,227.1 810,227.84 810.5,228.18 811,228.07 811.5,227.53 812,226.64 812.5,225.56 813,224.45 813.5,223.52 814,222.9 814.5,222.7 815,222.96 815.5,223.63 816,224.6 816.5,225.71 817,226.78 817.5,227.63 818,228.12 818.5,228.16 819,227.76 819.5,226.98 820,225.94 820.5,224.82 821,223.81 821.5,223.07 822,222.72 822.5,222.82 823,223.36 823.5,224.24 824,225.33 824.5,226.43 825,227.37 825.5,228 826,228.2 826.5,227.95 827,227.28 827.5,226.31 828,225.2 828.5,224.13 829,223.28 829.5,222.79 830,222.73 830.5,223.13 831,223.91 831.5,224.94 832,226.06 832.5,227.08 833,227.83 833.5,228.18 834,228.08 834.5,227.55 835,226.67 835.5,225.59 836,224.48 836.5,223.54 837,222.91 837.5,222.7 838,222.95 838.5,223.61 839,224.57 839.5,225.68 840,226.75 840.5,227.61 841,228.11 841.5,228.17 842,227.78 842.5,227 843,225.97 843.5,224.85 844,223.83 844.5,223.08 845,222.72 845.5,222.81 846,223.34 846.5,224.22 847,225.3 847.5,226.4 848,227.35 848.5,227.99 849,228.2 849.5,227.96 850,227.3 850.5,226.34 851,225.23 851.5,224.16 852,223.3 852.5,222.79 853,222.73 853.5,223.11 854,223.89 854.5,224.92 855,226.03 855.5,227.06 856,227.81 856.5,228.18 857,228.09 857.5,227.57 858,226.7 858.5,225.62 859,224.51 859.5,223.56 860,222.92 860.5,222.7 861,222.93 861.5,223.59 862,224.54 862.5,225.65 863,226.73 863.5,227.59 864,228.1 864.5,228.17 865,227.79 865.5,227.03 866,226 866.5,224.88 867,223.86 867.5,223.1 868,222.72 868.5,222.8 869,223.32 869.5,224.19 870,225.27 870.5,226.38 871,227.33 871.5,227.97 872,228.2 872.5,227.97 873,227.33 873.5,226.37 874,225.26 874.5,224.18 875,223.32 875.5,222.8 876,222.73 876.5,223.1 877,223.86 877.5,224.89 878,226.01 878.5,227.03 879,227.8 879.5,228.17 880,228.1 880.5,227.59 881,226.72 881.5,225.65 882,224.54 882.5,223.58 883,222.93 883.5,222.7 884,222.92 884.5,223.56 885,224.52 885.5,225.62 886,226.7 886.5,227.57 887,228.09 887.5,228.18 888,227.81 888.5,227.05 889,226.03 889.5,224.91 890,223.88 890.5,223.11 891,222.73 891.5,222.8 892,223.3 892.5,224.17 893,225.24 893.5,226.35 894,227.31 894.5,227.96 895,228.2 895.5,227.98 896,227.35 896.5,226.4 897,225.29 897.5,224.21 898,223.34 898.5,222.81 899,222.72 899.5,223.08 900,223.84 900.5,224.86 901,225.98 901.5,227.01 902,227.78 902.5,228.17 903,228.11 903.5,227.61 904,226.75 904.5,225.67 905,224.57" fill="none" stroke="#348ABD" stroke-width="1.39" stroke-linejoin="round"/><line x1="137.5" x2="904.97" y1="225.45" y2="225.45" stroke="#988ED5" stroke-width="1.39"/><path fill="#FFB5B8" d="M137.5,316L145.17,316L145.17,322.8L137.5,322.8ZM145.17,316L152.84,316L152.84,322.8L145.17,322.8ZM152.84,316L160.51,316L160.51,322.8L152.84,322.8ZM160.51,316L168.18,316L168.18,322.8L160.51,322.8ZM168.18,316L175.85,316L175.85,322.8L168.18,322.8ZM175.86,316L183.53,316L183.53,322.8L175.86,322.8ZM183.53,316L191.2,316L191.2,322.8L183.53,322.8ZM191.2,316L198.87,316L198.87,322.8L191.2,322.8ZM198.87,316L206.54,316L206.54,322.8L198.87,322.8ZM206.54,316L214.21,316L214.21,322.8L206.54,322.8ZM214.21,316L221.88,316L221.88,322.8L214.21,322.8ZM221.88,316L229.55,316L229.55,322.8L221.88,322.8ZM229.55,316L237.22,316L237.22,322.8L229.55,322.8ZM237.22,316L244.89,316L244.89,322.8L237.22,322.8ZM244.89,316L252.56,316L252.56,322.8L244.89,322.8ZM252.56,316L260.24,316L260.24,322.8L252.56,322.8ZM260.24,316L267.91,316L267.91,322.8L260.24,322.8ZM267.91,316L275.58,316L275.58,322.8L267.91,322.8ZM275.58,316L283.25,316L283.25,322.8L275.58,322.8ZM283.25,316L290.92,316L290.92,322.8L283.25,322.8ZM290.92,316L298.59,316L298.59,322.8L290.92,322.8ZM298.59,316L306.26,316L306.26,322.8L298.59,322.8ZM306.26,316L313.93,316L313.93,322.8L306.26,322.8ZM313.93,316L321.6,316L321.6,322.8L313.93,322.8ZM321.6,316L329.28,316L329.28,322.8L321.6,322.8ZM329.27,316L336.95,316L336.95,322.8L329.27,322.8ZM336.95,316L344.62,316L344.62,322.8L336.95,322.8ZM344.62,316L352.29,316L352.29,322.8L344.62,322.8ZM352.29,316L359.96,316L359.96,322.8L352.29,322.8ZM359.96,316L367.63,316L367.63,322.8L359.96,322.8ZM367.63,316L375.3,316L375.3,322.8L367.63,322.8ZM375.3,316L382.97,316L382.97,322.8L375.3,322.8ZM382.97,316L390.64,316L390.64,322.8L382.97,322.8ZM390.64,316L398.31,316L398.31,322.8L390.64,322.8ZM398.31,316L405.99,316L405.99,322.8L398.31,322.8ZM405.99,316L413.66,316L413.66,322.8L405.99,322.8ZM413.66,316L421.33,316L421.33,322.8L413.66,322.8ZM421.33,316L429,316L429,322.8L421.33,322.8ZM429,316L436.67,316L436.67,322.8L429,322.8ZM436.67,316L444.34,316L444.34,322.8L436.67,322.8ZM444.34,316L452.01,316L452.01,322.8L444.34,322.8ZM452.01,316L459.68,316L459.68,322.8L452.01,322.8ZM459.68,316L467.35,316L467.35,322.8L459.68,322.8ZM467.35,316L475.02,316L475.02,322.8L467.35,322.8ZM475.02,316L482.69,316L482.69,322.8L475.02,322.8ZM482.69,316L490.37,316L490.37,322.8L482.69,322.8ZM490.37,316L498.04,316L498.04,322.8L490.37,322.8ZM498.04,316L505.71,316L505.71,322.8L498.04,322.8ZM505.71,316L513.38,316L513.38,322.8L505.71,322.8ZM513.38,316L521.05,316L521.05,322.8L513.38,322.8ZM521.05,316L528.72,316L528.72,322.8L521.05,322.8ZM528.72,316L536.39,316L536.39,322.8L528.72,322.8ZM536.39,316L544.06,316L544.06,322.8L536.39,322.8ZM544.06,316L551.73,316L551.73,322.8L544.06,322.8ZM551.73,316L559.41,316L559.41,322.8L551.73,322.8ZM559.4,316L567.08,316L567.08,322.8L559.4,322.8ZM567.08,316L574.75,316L574.75,322.8L567.08,322.8ZM574.75,316L582.42,316L582.42,322.8L574.75,322.8ZM582.42,316L590.09,316L590.09,322.8L582.42,322.8ZM590.09,316L597.76,316L597.76,322.8L590.09,322.8ZM597.76,316L605.43,316L605.43,322.8L597.76,322.8ZM605.43,316L613.1,316L613.1,322.8L605.43,322.8ZM613.1,316L620.77,316L620.77,322.8L613.1,322.8ZM620.77,316L628.44,316L628.44,322.8L620.77,322.8ZM628.44,316L636.12,316L636.12,322.8L628.44,322.8ZM636.12,316L643.79,316L643.79,322.8L636.12,322.8ZM643.79,316L651.46,316L651.46,322.8L643.79,322.8ZM651.46,316L659.13,316L659.13,322.8L651.46,322.8ZM659.13,316L666.8,316L666.8,322.8L659.13,322.8ZM666.8,316L674.47,316L674.47,322.8L666.8,322.8ZM674.47,316L682.14,316L682.14,322.8L674.47,322.8ZM682.14,316L689.81,316L689.81,322.8L682.14,322.8ZM689.81,316L697.48,316L697.48,322.8L689.81,322.8ZM697.48,316L705.15,316L705.15,322.8L697.48,322.8ZM705.15,316L712.83,316L712.83,322.8L705.15,322.8ZM712.83,316L720.5,316L720.5,322.8L712.83,322.8ZM720.5,316L728.17,316L728.17,322.8L720.5,322.8ZM728.17,316L735.84,316L735.84,322.8L728.17,322.8ZM735.84,316L743.51,316L743.51,322.8L735.84,322.8ZM743.51,316L751.18,316L751.18,322.8L743.51,322.8ZM751.18,316L758.85,316L758.85,322.8L751.18,322.8ZM758.85,316L766.52,316L766.52,322.8L758.85,322.8ZM766.52,316L774.19,316L774.19,322.8L766.52,322.8ZM774.19,316L781.86,316L781.86,322.8L774.19,322.8ZM781.86,316L789.54,316L789.54,322.8L781.86,322.8ZM789.53,316L797.21,316L797.21,322.8L789.53,322.8ZM797.21,316L804.88,316L804.88,322.8L797.21,322.8ZM804.88,316L812.55,316L812.55,322.8L804.88,322.8ZM812.55,316L820.22,316L820.22,322.8L812.55,322.8ZM820.22,316L827.89,316L827.89,322.8L820.22,322.8ZM827.89,316L835.56,316L835.56,322.8L827.89,322.8ZM835.56,316L843.23,316L843.23,322.8L835.56,322.8ZM843.23,316L850.9,316L850.9,322.8L843.23,322.8ZM850.9,316L858.57,316L858.57,322.8L850.9,322.8ZM858.57,316L866.25,316L866.25,322.8L858.57,322.8ZM866.25,316L873.92,316L873.92,322.8L866.25,322.8ZM873.92,316L881.59,316L881.59,322.8L873.92,322.8ZM881.59,316L889.26,316L889.26,322.8L881.59,322.8ZM889.26,316L896.93,316L896.93,322.8L889.26,322.8ZM896.93,316L904.6,316L904.6,322.8L896.93,322.8ZM904.6,316L912.27,316L912.27,322.8L904.6,322.8Z"/><path fill="#e8d6d6" d="M142.1,316L142.56,316L142.41,317.5ZM149.77,316L150.23,316L150.08,317.5ZM157.44,316L157.9,316L157.75,317.5ZM165.12,316L165.58,316L165.42,317.5ZM172.79,316L173.25,316L173.09,317.5ZM180.46,316L180.92,316L180.76,317.5ZM188.13,316L188.59,316L188.44,317.5ZM195.8,316L196.26,316L196.11,317.5ZM203.47,316L203.93,316L203.78,317.5ZM211.14,316L211.6,316L211.45,317.5ZM218.81,316L219.27,316L219.12,317.5ZM226.48,316L226.94,316L226.79,317.5ZM234.15,316L234.61,316L234.46,317.5ZM241.83,316L242.29,316L242.13,317.5ZM249.5,316L249.96,316L249.8,317.5ZM257.17,316L257.63,316L257.47,317.5ZM264.84,316L265.3,316L265.15,317.5ZM272.51,316L272.97,316L272.82,317.5ZM280.18,316L280.64,316L280.49,317.5ZM287.85,316L288.31,316L288.16,317.5ZM295.52,316L295.98,316L295.83,317.5ZM303.19,316L303.65,316L303.5,317.5ZM310.86,316L311.32,316L311.17,317.5ZM318.54,316L319,316L318.84,317.5ZM326.21,316L326.67,316L326.51,317.5ZM333.88,316L334.34,316L334.18,317.5ZM341.55,316L342.01,316L341.86,317.5ZM349.22,316L349.68,316L349.53,317.5ZM356.89,316L357.35,316L357.2,317.5ZM364.56,316L365.02,316L364.87,317.5ZM372.23,316L372.69,316L372.54,317.5ZM379.9,316L380.36,316L380.21,317.5ZM387.57,316L388.03,316L387.88,317.5ZM395.25,316L395.71,316L395.55,317.5ZM402.92,316L403.38,316L403.22,317.5ZM410.59,316L411.05,316L410.89,317.5ZM418.26,316L418.72,316L418.57,317.5ZM425.93,316L426.39,316L426.24,317.5ZM433.6,316L434.06,316L433.91,317.5ZM441.27,316L441.73,316L441.58,317.5ZM448.94,316L449.4,316L449.25,317.5ZM456.61,316L457.07,316L456.92,317.5ZM464.28,316L464.74,316L464.59,317.5ZM471.96,316L472.42,316L472.26,317.5ZM479.63,316L480.09,316L479.93,317.5ZM487.3,316L487.76,316L487.6,317.5ZM494.97,316L495.43,316L495.28,317.5ZM502.64,316L503.1,316L502.95,317.5ZM510.31,316L510.77,316L510.62,317.5ZM517.98,316L518.44,316L518.29,317.5ZM525.65,316L526.11,316L525.96,317.5ZM533.32,316L533.78,316L533.63,317.5ZM540.99,316L541.45,316L541.3,317.5ZM548.67,316L549.13,316L548.97,317.5ZM556.34,316L556.8,316L556.64,317.5ZM564.01,316L564.47,316L564.31,317.5ZM571.68,316L572.14,316L571.99,317.5ZM579.35,316L579.81,316L579.66,317.5ZM587.02,316L587.48,316L587.33,317.5ZM594.69,316L595.15,316L595,317.5ZM602.36,316L602.82,316L602.67,317.5ZM610.03,316L610.49,316L610.34,317.5ZM617.7,316L618.16,316L618.01,317.5ZM625.38,316L625.84,316L625.68,317.5ZM633.05,316L633.51,316L633.35,317.5ZM640.72,316L641.18,316L641.02,317.5ZM648.39,316L648.85,316L648.7,317.5ZM656.06,316L656.52,316L656.37,317.5ZM663.73,316L664.19,316L664.04,317.5ZM671.4,316L671.86,316L671.71,317.5ZM679.07,316L679.53,316L679.38,317.5ZM686.74,316L687.2,316L687.05,317.5ZM694.41,316L694.87,316L694.72,317.5ZM702.09,316L702.55,316L702.39,317.5ZM709.76,316L710.22,316L710.06,317.5ZM717.43,316L717.89,316L717.73,317.5ZM725.1,316L725.56,316L725.41,317.5ZM732.77,316L733.23,316L733.08,317.5ZM740.44,316L740.9,316L740.75,317.5ZM748.11,316L748.57,316L748.42,317.5ZM755.78,316L756.24,316L756.09,317.5ZM763.45,316L763.91,316L763.76,317.5ZM771.12,316L771.58,316L771.43,317.5ZM778.8,316L779.26,316L779.1,317.5ZM786.47,316L786.93,316L786.77,317.5ZM794.14,316L794.6,316L794.44,317.5ZM801.81,316L802.27,316L802.12,317.5ZM809.48,316L809.94,316L809.79,317.5ZM817.15,316L817.61,316L817.46,317.5ZM824.82,316L825.28,316L825.13,317.5ZM832.49,316L832.95,316L832.8,317.5ZM840.16,316L840.62,316L840.47,317.5ZM847.83,316L848.29,316L848.14,317.5ZM855.51,316L855.97,316L855.81,317.5ZM863.18,316L863.64,316L863.48,317.5ZM870.85,316L871.31,316L871.15,317.5ZM878.52,316L878.98,316L878.83,317.5ZM886.19,316L886.65,316L886.5,317.5ZM893.86,316L894.32,316L894.17,317.5ZM901.53,316L901.99,316L901.84,317.5Z"/><path fill="#8EBA42" d="M138.73,312.8L139.42,312L140.03,311L140.95,311L141.57,312L142.1,313L142.18,316.3L138.73,316.3ZM146.4,312.8L147.09,312L147.7,311L148.62,311L149.24,312L149.77,313L149.85,316.3L146.4,316.3ZM154.07,312.8L154.76,312L155.37,311L156.29,311L156.91,312L157.44,313L157.52,316.3L154.07,316.3ZM161.74,312.8L162.43,312L163.04,311L163.96,311L164.58,312L165.12,313L165.19,316.3L161.74,316.3ZM169.41,312.8L170.1,312L170.72,311L171.64,311L172.25,312L172.79,313L172.86,316.3L169.41,316.3ZM177.08,312.8L177.77,312L178.39,311L179.31,311L179.92,312L180.46,313L180.53,316.3L177.08,316.3ZM184.75,312.8L185.44,312L186.06,311L186.98,311L187.59,312L188.13,313L188.21,316.3L184.75,316.3ZM192.42,312.8L193.11,312L193.73,311L194.65,311L195.26,312L195.8,313L195.88,316.3L192.42,316.3ZM200.1,312.8L200.79,312L201.4,311L202.32,311L202.93,312L203.47,313L203.55,316.3L200.1,316.3ZM207.77,312.8L208.46,312L209.07,311L209.99,311L210.6,312L211.14,313L211.22,316.3L207.77,316.3ZM215.44,312.8L216.13,312L216.74,311L217.66,311L218.28,312L218.81,313L218.89,316.3L215.44,316.3ZM223.11,312.8L223.8,312L224.41,311L225.33,311L225.95,312L226.48,313L226.56,316.3L223.11,316.3ZM230.78,312.8L231.47,312L232.08,311L233,311L233.62,312L234.15,313L234.23,316.3L230.78,316.3ZM238.45,312.8L239.14,312L239.75,311L240.67,311L241.29,312L241.83,313L241.9,316.3L238.45,316.3ZM246.12,312.8L246.81,312L247.43,311L248.35,311L248.96,312L249.5,313L249.57,316.3L246.12,316.3ZM253.79,312.8L254.48,312L255.1,311L256.02,311L256.63,312L257.17,313L257.24,316.3L253.79,316.3ZM261.46,312.8L262.15,312L262.77,311L263.69,311L264.3,312L264.84,313L264.92,316.3L261.46,316.3ZM269.13,312.8L269.82,312L270.44,311L271.36,311L271.97,312L272.51,313L272.59,316.3L269.13,316.3ZM276.81,312.8L277.5,312L278.11,311L279.03,311L279.64,312L280.18,313L280.26,316.3L276.81,316.3ZM284.48,312.8L285.17,312L285.78,311L286.7,311L287.31,312L287.85,313L287.93,316.3L284.48,316.3ZM292.15,312.8L292.84,312L293.45,311L294.37,311L294.99,312L295.52,313L295.6,316.3L292.15,316.3ZM299.82,312.8L300.51,312L301.12,311L302.04,311L302.66,312L303.19,313L303.27,316.3L299.82,316.3ZM307.49,312.8L308.18,312L308.79,311L309.71,311L310.33,312L310.86,313L310.94,316.3L307.49,316.3ZM315.16,312.8L315.85,312L316.46,311L317.38,311L318,312L318.54,313L318.61,316.3L315.16,316.3ZM322.83,312.8L323.52,312L324.14,311L325.06,311L325.67,312L326.21,313L326.28,316.3L322.83,316.3ZM330.5,312.8L331.19,312L331.81,311L332.73,311L333.34,312L333.88,313L333.95,316.3L330.5,316.3ZM338.17,312.8L338.86,312L339.48,311L340.4,311L341.01,312L341.55,313L341.63,316.3L338.17,316.3ZM345.84,312.8L346.53,312L347.15,311L348.07,311L348.68,312L349.22,313L349.3,316.3L345.84,316.3ZM353.52,312.8L354.21,312L354.82,311L355.74,311L356.35,312L356.89,313L356.97,316.3L353.52,316.3ZM361.19,312.8L361.88,312L362.49,311L363.41,311L364.02,312L364.56,313L364.64,316.3L361.19,316.3ZM368.86,312.8L369.55,312L370.16,311L371.08,311L371.7,312L372.23,313L372.31,316.3L368.86,316.3ZM376.53,312.8L377.22,312L377.83,311L378.75,311L379.37,312L379.9,313L379.98,316.3L376.53,316.3ZM384.2,312.8L384.89,312L385.5,311L386.42,311L387.04,312L387.57,313L387.65,316.3L384.2,316.3ZM391.87,312.8L392.56,312L393.17,311L394.09,311L394.71,312L395.25,313L395.32,316.3L391.87,316.3ZM399.54,312.8L400.23,312L400.85,311L401.77,311L402.38,312L402.92,313L402.99,316.3L399.54,316.3ZM407.21,312.8L407.9,312L408.52,311L409.44,311L410.05,312L410.59,313L410.66,316.3L407.21,316.3ZM414.88,312.8L415.57,312L416.19,311L417.11,311L417.72,312L418.26,313L418.34,316.3L414.88,316.3ZM422.55,312.8L423.24,312L423.86,311L424.78,311L425.39,312L425.93,313L426.01,316.3L422.55,316.3ZM430.23,312.8L430.92,312L431.53,311L432.45,311L433.06,312L433.6,313L433.68,316.3L430.23,316.3ZM437.9,312.8L438.59,312L439.2,311L440.12,311L440.73,312L441.27,313L441.35,316.3L437.9,316.3ZM445.57,312.8L446.26,312L446.87,311L447.79,311L448.41,312L448.94,313L449.02,316.3L445.57,316.3ZM453.24,312.8L453.93,312L454.54,311L455.46,311L456.08,312L456.61,313L456.69,316.3L453.24,316.3ZM460.91,312.8L461.6,312L462.21,311L463.13,311L463.75,312L464.28,313L464.36,316.3L460.91,316.3ZM468.58,312.8L469.27,312L469.88,311L470.8,311L471.42,312L471.96,313L472.03,316.3L468.58,316.3ZM476.25,312.8L476.94,312L477.56,311L478.48,311L479.09,312L479.63,313L479.7,316.3L476.25,316.3ZM483.92,312.8L484.61,312L485.23,311L486.15,311L486.76,312L487.3,313L487.37,316.3L483.92,316.3ZM491.59,312.8L492.28,312L492.9,311L493.82,311L494.43,312L494.97,313L495.05,316.3L491.59,316.3ZM499.26,312.8L499.95,312L500.57,311L501.49,311L502.1,312L502.64,313L502.72,316.3L499.26,316.3ZM506.94,312.8L507.63,312L508.24,311L509.16,311L509.77,312L510.31,313L510.39,316.3L506.94,316.3ZM514.61,312.8L515.3,312L515.91,311L516.83,311L517.44,312L517.98,313L518.06,316.3L514.61,316.3ZM522.28,312.8L522.97,312L523.58,311L524.5,311L525.12,312L525.65,313L525.73,316.3L522.28,316.3ZM529.95,312.8L530.64,312L531.25,311L532.17,311L532.79,312L533.32,313L533.4,316.3L529.95,316.3ZM537.62,312.8L538.31,312L538.92,311L539.84,311L540.46,312L540.99,313L541.07,316.3L537.62,316.3ZM545.29,312.8L545.98,312L546.59,311L547.51,311L548.13,312L548.67,313L548.74,316.3L545.29,316.3ZM552.96,312.8L553.65,312L554.27,311L555.19,311L555.8,312L556.34,313L556.41,316.3L552.96,316.3ZM560.63,312.8L561.32,312L561.94,311L562.86,311L563.47,312L564.01,313L564.08,316.3L560.63,316.3ZM568.3,312.8L568.99,312L569.61,311L570.53,311L571.14,312L571.68,313L571.76,316.3L568.3,316.3ZM575.97,312.8L576.66,312L577.28,311L578.2,311L578.81,312L579.35,313L579.43,316.3L575.97,316.3ZM583.65,312.8L584.34,312L584.95,311L585.87,311L586.48,312L587.02,313L587.1,316.3L583.65,316.3ZM591.32,312.8L592.01,312L592.62,311L593.54,311L594.15,312L594.69,313L594.77,316.3L591.32,316.3ZM598.99,312.8L599.68,312L600.29,311L601.21,311L601.83,312L602.36,313L602.44,316.3L598.99,316.3ZM606.66,312.8L607.35,312L607.96,311L608.88,311L609.5,312L610.03,313L610.11,316.3L606.66,316.3ZM614.33,312.8L615.02,312L615.63,311L616.55,311L617.17,312L617.7,313L617.78,316.3L614.33,316.3ZM622,312.8L622.69,312L623.3,311L624.22,311L624.84,312L625.38,313L625.45,316.3L622,316.3ZM629.67,312.8L630.36,312L630.98,311L631.9,311L632.51,312L633.05,313L633.12,316.3L629.67,316.3ZM637.34,312.8L638.03,312L638.65,311L639.57,311L640.18,312L640.72,313L640.79,316.3L637.34,316.3ZM645.01,312.8L645.7,312L646.32,311L647.24,311L647.85,312L648.39,313L648.47,316.3L645.01,316.3ZM652.68,312.8L653.37,312L653.99,311L654.91,311L655.52,312L656.06,313L656.14,316.3L652.68,316.3ZM660.36,312.8L661.05,312L661.66,311L662.58,311L663.19,312L663.73,313L663.81,316.3L660.36,316.3ZM668.03,312.8L668.72,312L669.33,311L670.25,311L670.86,312L671.4,313L671.48,316.3L668.03,316.3ZM675.7,312.8L676.39,312L677,311L677.92,311L678.54,312L679.07,313L679.15,316.3L675.7,316.3ZM683.37,312.8L684.06,312L684.67,311L685.59,311L686.21,312L686.74,313L686.82,316.3L683.37,316.3ZM691.04,312.8L691.73,312L692.34,311L693.26,311L693.88,312L694.41,313L694.49,316.3L691.04,316.3ZM698.71,312.8L699.4,312L700.01,311L700.93,311L701.55,312L702.09,313L702.16,316.3L698.71,316.3ZM706.38,312.8L707.07,312L707.69,311L708.61,311L709.22,312L709.76,313L709.83,316.3L706.38,316.3ZM714.05,312.8L714.74,312L715.36,311L716.28,311L716.89,312L717.43,313L717.5,316.3L714.05,316.3ZM721.72,312.8L722.41,312L723.03,311L723.95,311L724.56,312L725.1,313L725.18,316.3L721.72,316.3ZM729.39,312.8L730.08,312L730.7,311L731.62,311L732.23,312L732.77,313L732.85,316.3L729.39,316.3ZM737.07,312.8L737.76,312L738.37,311L739.29,311L739.9,312L740.44,313L740.52,316.3L737.07,316.3ZM744.74,312.8L745.43,312L746.04,311L746.96,311L747.57,312L748.11,313L748.19,316.3L744.74,316.3ZM752.41,312.8L753.1,312L753.71,311L754.63,311L755.25,312L755.78,313L755.86,316.3L752.41,316.3ZM760.08,312.8L760.77,312L761.38,311L762.3,311L762.92,312L763.45,313L763.53,316.3L760.08,316.3ZM767.75,312.8L768.44,312L769.05,311L769.97,311L770.59,312L771.12,313L771.2,316.3L767.75,316.3ZM775.42,312.8L776.11,312L776.72,311L777.64,311L778.26,312L778.8,313L778.87,316.3L775.42,316.3ZM783.09,312.8L783.78,312L784.4,311L785.32,311L785.93,312L786.47,313L786.54,316.3L783.09,316.3ZM790.76,312.8L791.45,312L792.07,311L792.99,311L793.6,312L794.14,313L794.21,316.3L790.76,316.3ZM798.43,312.8L799.12,312L799.74,311L800.66,311L801.27,312L801.81,313L801.89,316.3L798.43,316.3ZM806.1,312.8L806.79,312L807.41,311L808.33,311L808.94,312L809.48,313L809.56,316.3L806.1,316.3ZM813.78,312.8L814.47,312L815.08,311L816,311L816.61,312L817.15,313L817.23,316.3L813.78,316.3ZM821.45,312.8L822.14,312L822.75,311L823.67,311L824.28,312L824.82,313L824.9,316.3L821.45,316.3ZM829.12,312.8L829.81,312L830.42,311L831.34,311L831.96,312L832.49,313L832.57,316.3L829.12,316.3ZM836.79,312.8L837.48,312L838.09,311L839.01,311L839.63,312L840.16,313L840.24,316.3L836.79,316.3ZM844.46,312.8L845.15,312L845.76,311L846.68,311L847.3,312L847.83,313L847.91,316.3L844.46,316.3ZM852.13,312.8L852.82,312L853.43,311L854.35,311L854.97,312L855.51,313L855.58,316.3L852.13,316.3ZM859.8,312.8L860.49,312L861.11,311L862.03,311L862.64,312L863.18,313L863.25,316.3L859.8,316.3ZM867.47,312.8L868.16,312L868.78,311L869.7,311L870.31,312L870.85,313L870.92,316.3L867.47,316.3ZM875.14,312.8L875.83,312L876.45,311L877.37,311L877.98,312L878.52,313L878.6,316.3L875.14,316.3ZM882.81,312.8L883.5,312L884.12,311L885.04,311L885.65,312L886.19,313L886.27,316.3L882.81,316.3ZM890.49,312.8L891.18,312L891.79,311L892.71,311L893.32,312L893.86,313L893.94,316.3L890.49,316.3ZM898.16,312.8L898.85,312L899.46,311L900.38,311L900.99,312L901.53,313L901.61,316.3L898.16,316.3ZM905.83,312.8L906.52,312L907.13,311L908.05,311L908.67,312L909.2,313L909.28,316.3L905.83,316.3Z"/><path fill="#8EBA42" d="M141.64,316L142.18,316L142.1,319L141.8,319ZM149.31,316L149.85,316L149.77,319L149.47,319ZM156.98,316L157.52,316L157.44,319L157.14,319ZM164.66,316L165.19,316L165.12,319L164.81,319ZM172.33,316L172.86,316L172.79,319L172.48,319ZM180,316L180.53,316L180.46,319L180.15,319ZM187.67,316L188.21,316L188.13,319L187.82,319ZM195.34,316L195.88,316L195.8,319L195.49,319ZM203.01,316L203.55,316L203.47,319L203.16,319ZM210.68,316L211.22,316L211.14,319L210.83,319ZM218.35,316L218.89,316L218.81,319L218.51,319ZM226.02,316L226.56,316L226.48,319L226.18,319ZM233.69,316L234.23,316L234.15,319L233.85,319ZM241.37,316L241.9,316L241.83,319L241.52,319ZM249.04,316L249.57,316L249.5,319L249.19,319ZM256.71,316L257.24,316L257.17,319L256.86,319ZM264.38,316L264.92,316L264.84,319L264.53,319ZM272.05,316L272.59,316L272.51,319L272.2,319ZM279.72,316L280.26,316L280.18,319L279.87,319ZM287.39,316L287.93,316L287.85,319L287.54,319ZM295.06,316L295.6,316L295.52,319L295.22,319ZM302.73,316L303.27,316L303.19,319L302.89,319ZM310.4,316L310.94,316L310.86,319L310.56,319ZM318.08,316L318.61,316L318.54,319L318.23,319ZM325.75,316L326.28,316L326.21,319L325.9,319ZM333.42,316L333.95,316L333.88,319L333.57,319ZM341.09,316L341.63,316L341.55,319L341.24,319ZM348.76,316L349.3,316L349.22,319L348.91,319ZM356.43,316L356.97,316L356.89,319L356.58,319ZM364.1,316L364.64,316L364.56,319L364.25,319ZM371.77,316L372.31,316L372.23,319L371.93,319ZM379.44,316L379.98,316L379.9,319L379.6,319ZM387.11,316L387.65,316L387.57,319L387.27,319ZM394.79,316L395.32,316L395.25,319L394.94,319ZM402.46,316L402.99,316L402.92,319L402.61,319ZM410.13,316L410.66,316L410.59,319L410.28,319ZM417.8,316L418.34,316L418.26,319L417.95,319ZM425.47,316L426.01,316L425.93,319L425.62,319ZM433.14,316L433.68,316L433.6,319L433.29,319ZM440.81,316L441.35,316L441.27,319L440.96,319ZM448.48,316L449.02,316L448.94,319L448.64,319ZM456.15,316L456.69,316L456.61,319L456.31,319ZM463.82,316L464.36,316L464.28,319L463.98,319ZM471.5,316L472.03,316L471.96,319L471.65,319ZM479.17,316L479.7,316L479.63,319L479.32,319ZM486.84,316L487.37,316L487.3,319L486.99,319ZM494.51,316L495.05,316L494.97,319L494.66,319ZM502.18,316L502.72,316L502.64,319L502.33,319ZM509.85,316L510.39,316L510.31,319L510,319ZM517.52,316L518.06,316L517.98,319L517.67,319ZM525.19,316L525.73,316L525.65,319L525.35,319ZM532.86,316L533.4,316L533.32,319L533.02,319ZM540.53,316L541.07,316L540.99,319L540.69,319ZM548.21,316L548.74,316L548.67,319L548.36,319ZM555.88,316L556.41,316L556.34,319L556.03,319ZM563.55,316L564.08,316L564.01,319L563.7,319ZM571.22,316L571.76,316L571.68,319L571.37,319ZM578.89,316L579.43,316L579.35,319L579.04,319ZM586.56,316L587.1,316L587.02,319L586.71,319ZM594.23,316L594.77,316L594.69,319L594.38,319ZM601.9,316L602.44,316L602.36,319L602.06,319ZM609.57,316L610.11,316L610.03,319L609.73,319ZM617.24,316L617.78,316L617.7,319L617.4,319ZM624.92,316L625.45,316L625.38,319L625.07,319ZM632.59,316L633.12,316L633.05,319L632.74,319ZM640.26,316L640.79,316L640.72,319L640.41,319ZM647.93,316L648.47,316L648.39,319L648.08,319ZM655.6,316L656.14,316L656.06,319L655.75,319ZM663.27,316L663.81,316L663.73,319L663.42,319ZM670.94,316L671.48,316L671.4,319L671.09,319ZM678.61,316L679.15,316L679.07,319L678.77,319ZM686.28,316L686.82,316L686.74,319L686.44,319ZM693.95,316L694.49,316L694.41,319L694.11,319ZM701.63,316L702.16,316L702.09,319L701.78,319ZM709.3,316L709.83,316L709.76,319L709.45,319ZM716.97,316L717.5,316L717.43,319L717.12,319ZM724.64,316L725.18,316L725.1,319L724.79,319ZM732.31,316L732.85,316L732.77,319L732.46,319ZM739.98,316L740.52,316L740.44,319L740.13,319ZM747.65,316L748.19,316L748.11,319L747.8,319ZM755.32,316L755.86,316L755.78,319L755.48,319ZM762.99,316L763.53,316L763.45,319L763.15,319ZM770.66,316L771.2,316L771.12,319L770.82,319ZM778.34,316L778.87,316L778.8,319L778.49,319ZM786.01,316L786.54,316L786.47,319L786.16,319ZM793.68,316L794.21,316L794.14,319L793.83,319ZM801.35,316L801.89,316L801.81,319L801.5,319ZM809.02,316L809.56,316L809.48,319L809.17,319ZM816.69,316L817.23,316L817.15,319L816.84,319ZM824.36,316L824.9,316L824.82,319L824.51,319ZM832.03,316L832.57,316L832.49,319L832.19,319ZM839.7,316L840.24,316L840.16,319L839.86,319ZM847.37,316L847.91,316L847.83,319L847.53,319ZM855.05,316L855.58,316L855.51,319L855.2,319ZM862.72,316L863.25,316L863.18,319L862.87,319ZM870.39,316L870.92,316L870.85,319L870.54,319ZM878.06,316L878.6,316L878.52,319L878.21,319ZM885.73,316L886.27,316L886.19,319L885.88,319ZM893.4,316L893.94,316L893.86,319L893.55,319ZM901.07,316L901.61,316L901.53,319L901.22,319Z"/><path fill="#E24A33" d="M136.58,311.8L137.65,313L138.96,314.5L137.65,315.9L136.43,317.9L135.43,317.9L134.97,315.9L134.35,314.5L135.35,313ZM144.25,311.8L145.32,313L146.63,314.5L145.32,315.9L144.1,317.9L143.1,317.9L142.64,315.9L142.03,314.5L143.02,313ZM151.92,311.8L153,313L154.3,314.5L153,315.9L151.77,317.9L150.77,317.9L150.31,315.9L149.7,314.5L150.69,313ZM159.59,311.8L160.67,313L161.97,314.5L160.67,315.9L159.44,317.9L158.44,317.9L157.98,315.9L157.37,314.5L158.37,313ZM167.26,311.8L168.34,313L169.64,314.5L168.34,315.9L167.11,317.9L166.11,317.9L165.65,315.9L165.04,314.5L166.04,313ZM174.93,311.8L176.01,313L177.31,314.5L176.01,315.9L174.78,317.9L173.78,317.9L173.32,315.9L172.71,314.5L173.71,313ZM182.61,311.8L183.68,313L184.98,314.5L183.68,315.9L182.45,317.9L181.45,317.9L180.99,315.9L180.38,314.5L181.38,313ZM190.28,311.8L191.35,313L192.65,314.5L191.35,315.9L190.12,317.9L189.13,317.9L188.67,315.9L188.05,314.5L189.05,313ZM197.95,311.8L199.02,313L200.33,314.5L199.02,315.9L197.79,317.9L196.8,317.9L196.34,315.9L195.72,314.5L196.72,313ZM205.62,311.8L206.69,313L208,314.5L206.69,315.9L205.47,317.9L204.47,317.9L204.01,315.9L203.39,314.5L204.39,313ZM213.29,311.8L214.36,313L215.67,314.5L214.36,315.9L213.14,317.9L212.14,317.9L211.68,315.9L211.06,314.5L212.06,313ZM220.96,311.8L222.03,313L223.34,314.5L222.03,315.9L220.81,317.9L219.81,317.9L219.35,315.9L218.74,314.5L219.73,313ZM228.63,311.8L229.71,313L231.01,314.5L229.71,315.9L228.48,317.9L227.48,317.9L227.02,315.9L226.41,314.5L227.4,313ZM236.3,311.8L237.38,313L238.68,314.5L237.38,315.9L236.15,317.9L235.15,317.9L234.69,315.9L234.08,314.5L235.08,313ZM243.97,311.8L245.05,313L246.35,314.5L245.05,315.9L243.82,317.9L242.82,317.9L242.36,315.9L241.75,314.5L242.75,313ZM251.64,311.8L252.72,313L254.02,314.5L252.72,315.9L251.49,317.9L250.49,317.9L250.03,315.9L249.42,314.5L250.42,313ZM259.32,311.8L260.39,313L261.69,314.5L260.39,315.9L259.16,317.9L258.16,317.9L257.7,315.9L257.09,314.5L258.09,313ZM266.99,311.8L268.06,313L269.36,314.5L268.06,315.9L266.83,317.9L265.84,317.9L265.38,315.9L264.76,314.5L265.76,313ZM274.66,311.8L275.73,313L277.04,314.5L275.73,315.9L274.5,317.9L273.51,317.9L273.05,315.9L272.43,314.5L273.43,313ZM282.33,311.8L283.4,313L284.71,314.5L283.4,315.9L282.18,317.9L281.18,317.9L280.72,315.9L280.1,314.5L281.1,313ZM290,311.8L291.07,313L292.38,314.5L291.07,315.9L289.85,317.9L288.85,317.9L288.39,315.9L287.77,314.5L288.77,313ZM297.67,311.8L298.74,313L300.05,314.5L298.74,315.9L297.52,317.9L296.52,317.9L296.06,315.9L295.45,314.5L296.44,313ZM305.34,311.8L306.42,313L307.72,314.5L306.42,315.9L305.19,317.9L304.19,317.9L303.73,315.9L303.12,314.5L304.11,313ZM313.01,311.8L314.09,313L315.39,314.5L314.09,315.9L312.86,317.9L311.86,317.9L311.4,315.9L310.79,314.5L311.79,313ZM320.68,311.8L321.76,313L323.06,314.5L321.76,315.9L320.53,317.9L319.53,317.9L319.07,315.9L318.46,314.5L319.46,313ZM328.35,311.8L329.43,313L330.73,314.5L329.43,315.9L328.2,317.9L327.2,317.9L326.74,315.9L326.13,314.5L327.13,313ZM336.03,311.8L337.1,313L338.4,314.5L337.1,315.9L335.87,317.9L334.87,317.9L334.41,315.9L333.8,314.5L334.8,313ZM343.7,311.8L344.77,313L346.07,314.5L344.77,315.9L343.54,317.9L342.55,317.9L342.09,315.9L341.47,314.5L342.47,313ZM351.37,311.8L352.44,313L353.75,314.5L352.44,315.9L351.21,317.9L350.22,317.9L349.76,315.9L349.14,314.5L350.14,313ZM359.04,311.8L360.11,313L361.42,314.5L360.11,315.9L358.89,317.9L357.89,317.9L357.43,315.9L356.81,314.5L357.81,313ZM366.71,311.8L367.78,313L369.09,314.5L367.78,315.9L366.56,317.9L365.56,317.9L365.1,315.9L364.48,314.5L365.48,313ZM374.38,311.8L375.45,313L376.76,314.5L375.45,315.9L374.23,317.9L373.23,317.9L372.77,315.9L372.16,314.5L373.15,313ZM382.05,311.8L383.13,313L384.43,314.5L383.13,315.9L381.9,317.9L380.9,317.9L380.44,315.9L379.83,314.5L380.82,313ZM389.72,311.8L390.8,313L392.1,314.5L390.8,315.9L389.57,317.9L388.57,317.9L388.11,315.9L387.5,314.5L388.5,313ZM397.39,311.8L398.47,313L399.77,314.5L398.47,315.9L397.24,317.9L396.24,317.9L395.78,315.9L395.17,314.5L396.17,313ZM405.06,311.8L406.14,313L407.44,314.5L406.14,315.9L404.91,317.9L403.91,317.9L403.45,315.9L402.84,314.5L403.84,313ZM412.74,311.8L413.81,313L415.11,314.5L413.81,315.9L412.58,317.9L411.58,317.9L411.12,315.9L410.51,314.5L411.51,313ZM420.41,311.8L421.48,313L422.78,314.5L421.48,315.9L420.25,317.9L419.26,317.9L418.8,315.9L418.18,314.5L419.18,313ZM428.08,311.8L429.15,313L430.46,314.5L429.15,315.9L427.92,317.9L426.93,317.9L426.47,315.9L425.85,314.5L426.85,313ZM435.75,311.8L436.82,313L438.13,314.5L436.82,315.9L435.6,317.9L434.6,317.9L434.14,315.9L433.52,314.5L434.52,313ZM443.42,311.8L444.49,313L445.8,314.5L444.49,315.9L443.27,317.9L442.27,317.9L441.81,315.9L441.19,314.5L442.19,313ZM451.09,311.8L452.16,313L453.47,314.5L452.16,315.9L450.94,317.9L449.94,317.9L449.48,315.9L448.87,314.5L449.86,313ZM458.76,311.8L459.84,313L461.14,314.5L459.84,315.9L458.61,317.9L457.61,317.9L457.15,315.9L456.54,314.5L457.53,313ZM466.43,311.8L467.51,313L468.81,314.5L467.51,315.9L466.28,317.9L465.28,317.9L464.82,315.9L464.21,314.5L465.21,313ZM474.1,311.8L475.18,313L476.48,314.5L475.18,315.9L473.95,317.9L472.95,317.9L472.49,315.9L471.88,314.5L472.88,313ZM481.77,311.8L482.85,313L484.15,314.5L482.85,315.9L481.62,317.9L480.62,317.9L480.16,315.9L479.55,314.5L480.55,313ZM489.45,311.8L490.52,313L491.82,314.5L490.52,315.9L489.29,317.9L488.29,317.9L487.83,315.9L487.22,314.5L488.22,313ZM497.12,311.8L498.19,313L499.49,314.5L498.19,315.9L496.96,317.9L495.97,317.9L495.51,315.9L494.89,314.5L495.89,313ZM504.79,311.8L505.86,313L507.17,314.5L505.86,315.9L504.63,317.9L503.64,317.9L503.18,315.9L502.56,314.5L503.56,313ZM512.46,311.8L513.53,313L514.84,314.5L513.53,315.9L512.31,317.9L511.31,317.9L510.85,315.9L510.23,314.5L511.23,313ZM520.13,311.8L521.2,313L522.51,314.5L521.2,315.9L519.98,317.9L518.98,317.9L518.52,315.9L517.9,314.5L518.9,313ZM527.8,311.8L528.87,313L530.18,314.5L528.87,315.9L527.65,317.9L526.65,317.9L526.19,315.9L525.58,314.5L526.57,313ZM535.47,311.8L536.55,313L537.85,314.5L536.55,315.9L535.32,317.9L534.32,317.9L533.86,315.9L533.25,314.5L534.24,313ZM543.14,311.8L544.22,313L545.52,314.5L544.22,315.9L542.99,317.9L541.99,317.9L541.53,315.9L540.92,314.5L541.92,313ZM550.81,311.8L551.89,313L553.19,314.5L551.89,315.9L550.66,317.9L549.66,317.9L549.2,315.9L548.59,314.5L549.59,313ZM558.48,311.8L559.56,313L560.86,314.5L559.56,315.9L558.33,317.9L557.33,317.9L556.87,315.9L556.26,314.5L557.26,313ZM566.16,311.8L567.23,313L568.53,314.5L567.23,315.9L566,317.9L565,317.9L564.54,315.9L563.93,314.5L564.93,313ZM573.83,311.8L574.9,313L576.2,314.5L574.9,315.9L573.67,317.9L572.68,317.9L572.22,315.9L571.6,314.5L572.6,313ZM581.5,311.8L582.57,313L583.88,314.5L582.57,315.9L581.34,317.9L580.35,317.9L579.89,315.9L579.27,314.5L580.27,313ZM589.17,311.8L590.24,313L591.55,314.5L590.24,315.9L589.02,317.9L588.02,317.9L587.56,315.9L586.94,314.5L587.94,313ZM596.84,311.8L597.91,313L599.22,314.5L597.91,315.9L596.69,317.9L595.69,317.9L595.23,315.9L594.61,314.5L595.61,313ZM604.51,311.8L605.58,313L606.89,314.5L605.58,315.9L604.36,317.9L603.36,317.9L602.9,315.9L602.29,314.5L603.28,313ZM612.18,311.8L613.26,313L614.56,314.5L613.26,315.9L612.03,317.9L611.03,317.9L610.57,315.9L609.96,314.5L610.95,313ZM619.85,311.8L620.93,313L622.23,314.5L620.93,315.9L619.7,317.9L618.7,317.9L618.24,315.9L617.63,314.5L618.63,313ZM627.52,311.8L628.6,313L629.9,314.5L628.6,315.9L627.37,317.9L626.37,317.9L625.91,315.9L625.3,314.5L626.3,313ZM635.19,311.8L636.27,313L637.57,314.5L636.27,315.9L635.04,317.9L634.04,317.9L633.58,315.9L632.97,314.5L633.97,313ZM642.87,311.8L643.94,313L645.24,314.5L643.94,315.9L642.71,317.9L641.71,317.9L641.25,315.9L640.64,314.5L641.64,313ZM650.54,311.8L651.61,313L652.91,314.5L651.61,315.9L650.38,317.9L649.39,317.9L648.93,315.9L648.31,314.5L649.31,313ZM658.21,311.8L659.28,313L660.59,314.5L659.28,315.9L658.05,317.9L657.06,317.9L656.6,315.9L655.98,314.5L656.98,313ZM665.88,311.8L666.95,313L668.26,314.5L666.95,315.9L665.73,317.9L664.73,317.9L664.27,315.9L663.65,314.5L664.65,313ZM673.55,311.8L674.62,313L675.93,314.5L674.62,315.9L673.4,317.9L672.4,317.9L671.94,315.9L671.32,314.5L672.32,313ZM681.22,311.8L682.29,313L683.6,314.5L682.29,315.9L681.07,317.9L680.07,317.9L679.61,315.9L679,314.5L679.99,313ZM688.89,311.8L689.97,313L691.27,314.5L689.97,315.9L688.74,317.9L687.74,317.9L687.28,315.9L686.67,314.5L687.66,313ZM696.56,311.8L697.64,313L698.94,314.5L697.64,315.9L696.41,317.9L695.41,317.9L694.95,315.9L694.34,314.5L695.34,313ZM704.23,311.8L705.31,313L706.61,314.5L705.31,315.9L704.08,317.9L703.08,317.9L702.62,315.9L702.01,314.5L703.01,313ZM711.9,311.8L712.98,313L714.28,314.5L712.98,315.9L711.75,317.9L710.75,317.9L710.29,315.9L709.68,314.5L710.68,313ZM719.58,311.8L720.65,313L721.95,314.5L720.65,315.9L719.42,317.9L718.42,317.9L717.96,315.9L717.35,314.5L718.35,313ZM727.25,311.8L728.32,313L729.62,314.5L728.32,315.9L727.09,317.9L726.1,317.9L725.64,315.9L725.02,314.5L726.02,313ZM734.92,311.8L735.99,313L737.3,314.5L735.99,315.9L734.76,317.9L733.77,317.9L733.31,315.9L732.69,314.5L733.69,313ZM742.59,311.8L743.66,313L744.97,314.5L743.66,315.9L742.44,317.9L741.44,317.9L740.98,315.9L740.36,314.5L741.36,313ZM750.26,311.8L751.33,313L752.64,314.5L751.33,315.9L750.11,317.9L749.11,317.9L748.65,315.9L748.03,314.5L749.03,313ZM757.93,311.8L759,313L760.31,314.5L759,315.9L757.78,317.9L756.78,317.9L756.32,315.9L755.71,314.5L756.7,313ZM765.6,311.8L766.68,313L767.98,314.5L766.68,315.9L765.45,317.9L764.45,317.9L763.99,315.9L763.38,314.5L764.37,313ZM773.27,311.8L774.35,313L775.65,314.5L774.35,315.9L773.12,317.9L772.12,317.9L771.66,315.9L771.05,314.5L772.05,313ZM780.94,311.8L782.02,313L783.32,314.5L782.02,315.9L780.79,317.9L779.79,317.9L779.33,315.9L778.72,314.5L779.72,313ZM788.61,311.8L789.69,313L790.99,314.5L789.69,315.9L788.46,317.9L787.46,317.9L787,315.9L786.39,314.5L787.39,313ZM796.29,311.8L797.36,313L798.66,314.5L797.36,315.9L796.13,317.9L795.13,317.9L794.67,315.9L794.06,314.5L795.06,313ZM803.96,311.8L805.03,313L806.33,314.5L805.03,315.9L803.8,317.9L802.81,317.9L802.35,315.9L801.73,314.5L802.73,313ZM811.63,311.8L812.7,313L814.01,314.5L812.7,315.9L811.47,317.9L810.48,317.9L810.02,315.9L809.4,314.5L810.4,313ZM819.3,311.8L820.37,313L821.68,314.5L820.37,315.9L819.15,317.9L818.15,317.9L817.69,315.9L817.07,314.5L818.07,313ZM826.97,311.8L828.04,313L829.35,314.5L828.04,315.9L826.82,317.9L825.82,317.9L825.36,315.9L824.74,314.5L825.74,313ZM834.64,311.8L835.71,313L837.02,314.5L835.71,315.9L834.49,317.9L833.49,317.9L833.03,315.9L832.42,314.5L833.41,313ZM842.31,311.8L843.39,313L844.69,314.5L843.39,315.9L842.16,317.9L841.16,317.9L840.7,315.9L840.09,314.5L841.08,313ZM849.98,311.8L851.06,313L852.36,314.5L851.06,315.9L849.83,317.9L848.83,317.9L848.37,315.9L847.76,314.5L848.76,313ZM857.65,311.8L858.73,313L860.03,314.5L858.73,315.9L857.5,317.9L856.5,317.9L856.04,315.9L855.43,314.5L856.43,313ZM865.32,311.8L866.4,313L867.7,314.5L866.4,315.9L865.17,317.9L864.17,317.9L863.71,315.9L863.1,314.5L864.1,313ZM873,311.8L874.07,313L875.37,314.5L874.07,315.9L872.84,317.9L871.84,317.9L871.38,315.9L870.77,314.5L871.77,313ZM880.67,311.8L881.74,313L883.04,314.5L881.74,315.9L880.51,317.9L879.52,317.9L879.06,315.9L878.44,314.5L879.44,313ZM888.34,311.8L889.41,313L890.72,314.5L889.41,315.9L888.18,317.9L887.19,317.9L886.73,315.9L886.11,314.5L887.11,313ZM896.01,311.8L897.08,313L898.39,314.5L897.08,315.9L895.86,317.9L894.86,317.9L894.4,315.9L893.78,314.5L894.78,313ZM903.68,311.8L904.75,313L906.06,314.5L904.75,315.9L903.53,317.9L902.53,317.9L902.07,315.9L901.45,314.5L902.45,313Z"/><path fill="#8EBA42" d="M142.87,317.6L143.71,317.6L143.56,320.2L143.02,320.2ZM150.54,317.6L151.38,317.6L151.23,320.2L150.69,320.2ZM158.21,317.6L159.06,317.6L158.9,320.2L158.37,320.2ZM165.88,317.6L166.73,317.6L166.57,320.2L166.04,320.2ZM173.55,317.6L174.4,317.6L174.24,320.2L173.71,320.2ZM181.22,317.6L182.07,317.6L181.92,320.2L181.38,320.2ZM188.9,317.6L189.74,317.6L189.59,320.2L189.05,320.2ZM196.57,317.6L197.41,317.6L197.26,320.2L196.72,320.2ZM204.24,317.6L205.08,317.6L204.93,320.2L204.39,320.2ZM211.91,317.6L212.75,317.6L212.6,320.2L212.06,320.2ZM219.58,317.6L220.42,317.6L220.27,320.2L219.73,320.2ZM227.25,317.6L228.09,317.6L227.94,320.2L227.4,320.2ZM234.92,317.6L235.77,317.6L235.61,320.2L235.08,320.2ZM242.59,317.6L243.44,317.6L243.28,320.2L242.75,320.2ZM250.26,317.6L251.11,317.6L250.95,320.2L250.42,320.2ZM257.93,317.6L258.78,317.6L258.63,320.2L258.09,320.2ZM265.61,317.6L266.45,317.6L266.3,320.2L265.76,320.2ZM273.28,317.6L274.12,317.6L273.97,320.2L273.43,320.2ZM280.95,317.6L281.79,317.6L281.64,320.2L281.1,320.2ZM288.62,317.6L289.46,317.6L289.31,320.2L288.77,320.2ZM296.29,317.6L297.13,317.6L296.98,320.2L296.44,320.2ZM303.96,317.6L304.8,317.6L304.65,320.2L304.11,320.2ZM311.63,317.6L312.48,317.6L312.32,320.2L311.79,320.2ZM319.3,317.6L320.15,317.6L319.99,320.2L319.46,320.2ZM326.97,317.6L327.82,317.6L327.66,320.2L327.13,320.2ZM334.64,317.6L335.49,317.6L335.34,320.2L334.8,320.2ZM342.32,317.6L343.16,317.6L343.01,320.2L342.47,320.2ZM349.99,317.6L350.83,317.6L350.68,320.2L350.14,320.2ZM357.66,317.6L358.5,317.6L358.35,320.2L357.81,320.2ZM365.33,317.6L366.17,317.6L366.02,320.2L365.48,320.2ZM373,317.6L373.84,317.6L373.69,320.2L373.15,320.2ZM380.67,317.6L381.51,317.6L381.36,320.2L380.82,320.2ZM388.34,317.6L389.19,317.6L389.03,320.2L388.5,320.2ZM396.01,317.6L396.86,317.6L396.7,320.2L396.17,320.2ZM403.68,317.6L404.53,317.6L404.37,320.2L403.84,320.2ZM411.35,317.6L412.2,317.6L412.05,320.2L411.51,320.2ZM419.03,317.6L419.87,317.6L419.72,320.2L419.18,320.2ZM426.7,317.6L427.54,317.6L427.39,320.2L426.85,320.2ZM434.37,317.6L435.21,317.6L435.06,320.2L434.52,320.2ZM442.04,317.6L442.88,317.6L442.73,320.2L442.19,320.2ZM449.71,317.6L450.55,317.6L450.4,320.2L449.86,320.2ZM457.38,317.6L458.22,317.6L458.07,320.2L457.53,320.2ZM465.05,317.6L465.9,317.6L465.74,320.2L465.21,320.2ZM472.72,317.6L473.57,317.6L473.41,320.2L472.88,320.2ZM480.39,317.6L481.24,317.6L481.08,320.2L480.55,320.2ZM488.06,317.6L488.91,317.6L488.76,320.2L488.22,320.2ZM495.74,317.6L496.58,317.6L496.43,320.2L495.89,320.2ZM503.41,317.6L504.25,317.6L504.1,320.2L503.56,320.2ZM511.08,317.6L511.92,317.6L511.77,320.2L511.23,320.2ZM518.75,317.6L519.59,317.6L519.44,320.2L518.9,320.2ZM526.42,317.6L527.26,317.6L527.11,320.2L526.57,320.2ZM534.09,317.6L534.93,317.6L534.78,320.2L534.24,320.2ZM541.76,317.6L542.61,317.6L542.45,320.2L541.92,320.2ZM549.43,317.6L550.28,317.6L550.12,320.2L549.59,320.2ZM557.1,317.6L557.95,317.6L557.79,320.2L557.26,320.2ZM564.77,317.6L565.62,317.6L565.47,320.2L564.93,320.2ZM572.45,317.6L573.29,317.6L573.14,320.2L572.6,320.2ZM580.12,317.6L580.96,317.6L580.81,320.2L580.27,320.2ZM587.79,317.6L588.63,317.6L588.48,320.2L587.94,320.2ZM595.46,317.6L596.3,317.6L596.15,320.2L595.61,320.2ZM603.13,317.6L603.97,317.6L603.82,320.2L603.28,320.2ZM610.8,317.6L611.64,317.6L611.49,320.2L610.95,320.2ZM618.47,317.6L619.32,317.6L619.16,320.2L618.63,320.2ZM626.14,317.6L626.99,317.6L626.83,320.2L626.3,320.2ZM633.81,317.6L634.66,317.6L634.5,320.2L633.97,320.2ZM641.48,317.6L642.33,317.6L642.18,320.2L641.64,320.2ZM649.16,317.6L650,317.6L649.85,320.2L649.31,320.2ZM656.83,317.6L657.67,317.6L657.52,320.2L656.98,320.2ZM664.5,317.6L665.34,317.6L665.19,320.2L664.65,320.2ZM672.17,317.6L673.01,317.6L672.86,320.2L672.32,320.2ZM679.84,317.6L680.68,317.6L680.53,320.2L679.99,320.2ZM687.51,317.6L688.35,317.6L688.2,320.2L687.66,320.2ZM695.18,317.6L696.03,317.6L695.87,320.2L695.34,320.2ZM702.85,317.6L703.7,317.6L703.54,320.2L703.01,320.2ZM710.52,317.6L711.37,317.6L711.21,320.2L710.68,320.2ZM718.19,317.6L719.04,317.6L718.89,320.2L718.35,320.2ZM725.87,317.6L726.71,317.6L726.56,320.2L726.02,320.2ZM733.54,317.6L734.38,317.6L734.23,320.2L733.69,320.2ZM741.21,317.6L742.05,317.6L741.9,320.2L741.36,320.2ZM748.88,317.6L749.72,317.6L749.57,320.2L749.03,320.2ZM756.55,317.6L757.39,317.6L757.24,320.2L756.7,320.2ZM764.22,317.6L765.06,317.6L764.91,320.2L764.37,320.2ZM771.89,317.6L772.74,317.6L772.58,320.2L772.05,320.2ZM779.56,317.6L780.41,317.6L780.25,320.2L779.72,320.2ZM787.23,317.6L788.08,317.6L787.92,320.2L787.39,320.2ZM794.9,317.6L795.75,317.6L795.6,320.2L795.06,320.2ZM802.58,317.6L803.42,317.6L803.27,320.2L802.73,320.2ZM810.25,317.6L811.09,317.6L810.94,320.2L810.4,320.2ZM817.92,317.6L818.76,317.6L818.61,320.2L818.07,320.2ZM825.59,317.6L826.43,317.6L826.28,320.2L825.74,320.2ZM833.26,317.6L834.1,317.6L833.95,320.2L833.41,320.2ZM840.93,317.6L841.77,317.6L841.62,320.2L841.08,320.2ZM848.6,317.6L849.45,317.6L849.29,320.2L848.76,320.2ZM856.27,317.6L857.12,317.6L856.96,320.2L856.43,320.2ZM863.94,317.6L864.79,317.6L864.63,320.2L864.1,320.2ZM871.61,317.6L872.46,317.6L872.31,320.2L871.77,320.2ZM879.29,317.6L880.13,317.6L879.98,320.2L879.44,320.2ZM886.96,317.6L887.8,317.6L887.65,320.2L887.11,320.2ZM894.63,317.6L895.47,317.6L895.32,320.2L894.78,320.2ZM902.3,317.6L903.14,317.6L902.99,320.2L902.45,320.2Z"/><path fill="#E24A33" d="M140.26,322.8L140.34,320.5L140.95,319.6L141.57,320.5L141.8,322.8ZM147.93,322.8L148.01,320.5L148.62,319.6L149.24,320.5L149.47,322.8ZM155.6,322.8L155.68,320.5L156.29,319.6L156.91,320.5L157.14,322.8ZM163.27,322.8L163.35,320.5L163.96,319.6L164.58,320.5L164.81,322.8ZM170.95,322.8L171.02,320.5L171.64,319.6L172.25,320.5L172.48,322.8ZM178.62,322.8L178.69,320.5L179.31,319.6L179.92,320.5L180.15,322.8ZM186.29,322.8L186.36,320.5L186.98,319.6L187.59,320.5L187.82,322.8ZM193.96,322.8L194.04,320.5L194.65,319.6L195.26,320.5L195.49,322.8ZM201.63,322.8L201.71,320.5L202.32,319.6L202.93,320.5L203.16,322.8ZM209.3,322.8L209.38,320.5L209.99,319.6L210.6,320.5L210.83,322.8ZM216.97,322.8L217.05,320.5L217.66,319.6L218.28,320.5L218.51,322.8ZM224.64,322.8L224.72,320.5L225.33,319.6L225.95,320.5L226.18,322.8ZM232.31,322.8L232.39,320.5L233,319.6L233.62,320.5L233.85,322.8ZM239.98,322.8L240.06,320.5L240.67,319.6L241.29,320.5L241.52,322.8ZM247.66,322.8L247.73,320.5L248.35,319.6L248.96,320.5L249.19,322.8ZM255.33,322.8L255.4,320.5L256.02,319.6L256.63,320.5L256.86,322.8ZM263,322.8L263.07,320.5L263.69,319.6L264.3,320.5L264.53,322.8ZM270.67,322.8L270.75,320.5L271.36,319.6L271.97,320.5L272.2,322.8ZM278.34,322.8L278.42,320.5L279.03,319.6L279.64,320.5L279.87,322.8ZM286.01,322.8L286.09,320.5L286.7,319.6L287.31,320.5L287.54,322.8ZM293.68,322.8L293.76,320.5L294.37,319.6L294.99,320.5L295.22,322.8ZM301.35,322.8L301.43,320.5L302.04,319.6L302.66,320.5L302.89,322.8ZM309.02,322.8L309.1,320.5L309.71,319.6L310.33,320.5L310.56,322.8ZM316.69,322.8L316.77,320.5L317.38,319.6L318,320.5L318.23,322.8ZM324.37,322.8L324.44,320.5L325.06,319.6L325.67,320.5L325.9,322.8ZM332.04,322.8L332.11,320.5L332.73,319.6L333.34,320.5L333.57,322.8ZM339.71,322.8L339.78,320.5L340.4,319.6L341.01,320.5L341.24,322.8ZM347.38,322.8L347.46,320.5L348.07,319.6L348.68,320.5L348.91,322.8ZM355.05,322.8L355.13,320.5L355.74,319.6L356.35,320.5L356.58,322.8ZM362.72,322.8L362.8,320.5L363.41,319.6L364.02,320.5L364.25,322.8ZM370.39,322.8L370.47,320.5L371.08,319.6L371.7,320.5L371.93,322.8ZM378.06,322.8L378.14,320.5L378.75,319.6L379.37,320.5L379.6,322.8ZM385.73,322.8L385.81,320.5L386.42,319.6L387.04,320.5L387.27,322.8ZM393.4,322.8L393.48,320.5L394.09,319.6L394.71,320.5L394.94,322.8ZM401.08,322.8L401.15,320.5L401.77,319.6L402.38,320.5L402.61,322.8ZM408.75,322.8L408.82,320.5L409.44,319.6L410.05,320.5L410.28,322.8ZM416.42,322.8L416.49,320.5L417.11,319.6L417.72,320.5L417.95,322.8ZM424.09,322.8L424.17,320.5L424.78,319.6L425.39,320.5L425.62,322.8ZM431.76,322.8L431.84,320.5L432.45,319.6L433.06,320.5L433.29,322.8ZM439.43,322.8L439.51,320.5L440.12,319.6L440.73,320.5L440.96,322.8ZM447.1,322.8L447.18,320.5L447.79,319.6L448.41,320.5L448.64,322.8ZM454.77,322.8L454.85,320.5L455.46,319.6L456.08,320.5L456.31,322.8ZM462.44,322.8L462.52,320.5L463.13,319.6L463.75,320.5L463.98,322.8ZM470.11,322.8L470.19,320.5L470.8,319.6L471.42,320.5L471.65,322.8ZM477.79,322.8L477.86,320.5L478.48,319.6L479.09,320.5L479.32,322.8ZM485.46,322.8L485.53,320.5L486.15,319.6L486.76,320.5L486.99,322.8ZM493.13,322.8L493.2,320.5L493.82,319.6L494.43,320.5L494.66,322.8ZM500.8,322.8L500.88,320.5L501.49,319.6L502.1,320.5L502.33,322.8ZM508.47,322.8L508.55,320.5L509.16,319.6L509.77,320.5L510,322.8ZM516.14,322.8L516.22,320.5L516.83,319.6L517.44,320.5L517.67,322.8ZM523.81,322.8L523.89,320.5L524.5,319.6L525.12,320.5L525.35,322.8ZM531.48,322.8L531.56,320.5L532.17,319.6L532.79,320.5L533.02,322.8ZM539.15,322.8L539.23,320.5L539.84,319.6L540.46,320.5L540.69,322.8ZM546.82,322.8L546.9,320.5L547.51,319.6L548.13,320.5L548.36,322.8ZM554.5,322.8L554.57,320.5L555.19,319.6L555.8,320.5L556.03,322.8ZM562.17,322.8L562.24,320.5L562.86,319.6L563.47,320.5L563.7,322.8ZM569.84,322.8L569.91,320.5L570.53,319.6L571.14,320.5L571.37,322.8ZM577.51,322.8L577.59,320.5L578.2,319.6L578.81,320.5L579.04,322.8ZM585.18,322.8L585.26,320.5L585.87,319.6L586.48,320.5L586.71,322.8ZM592.85,322.8L592.93,320.5L593.54,319.6L594.15,320.5L594.38,322.8ZM600.52,322.8L600.6,320.5L601.21,319.6L601.83,320.5L602.06,322.8ZM608.19,322.8L608.27,320.5L608.88,319.6L609.5,320.5L609.73,322.8ZM615.86,322.8L615.94,320.5L616.55,319.6L617.17,320.5L617.4,322.8ZM623.53,322.8L623.61,320.5L624.22,319.6L624.84,320.5L625.07,322.8ZM631.21,322.8L631.28,320.5L631.9,319.6L632.51,320.5L632.74,322.8ZM638.88,322.8L638.95,320.5L639.57,319.6L640.18,320.5L640.41,322.8ZM646.55,322.8L646.62,320.5L647.24,319.6L647.85,320.5L648.08,322.8ZM654.22,322.8L654.3,320.5L654.91,319.6L655.52,320.5L655.75,322.8ZM661.89,322.8L661.97,320.5L662.58,319.6L663.19,320.5L663.42,322.8ZM669.56,322.8L669.64,320.5L670.25,319.6L670.86,320.5L671.09,322.8ZM677.23,322.8L677.31,320.5L677.92,319.6L678.54,320.5L678.77,322.8ZM684.9,322.8L684.98,320.5L685.59,319.6L686.21,320.5L686.44,322.8ZM692.57,322.8L692.65,320.5L693.26,319.6L693.88,320.5L694.11,322.8ZM700.24,322.8L700.32,320.5L700.93,319.6L701.55,320.5L701.78,322.8ZM707.92,322.8L707.99,320.5L708.61,319.6L709.22,320.5L709.45,322.8ZM715.59,322.8L715.66,320.5L716.28,319.6L716.89,320.5L717.12,322.8ZM723.26,322.8L723.33,320.5L723.95,319.6L724.56,320.5L724.79,322.8ZM730.93,322.8L731.01,320.5L731.62,319.6L732.23,320.5L732.46,322.8ZM738.6,322.8L738.68,320.5L739.29,319.6L739.9,320.5L740.13,322.8ZM746.27,322.8L746.35,320.5L746.96,319.6L747.57,320.5L747.8,322.8ZM753.94,322.8L754.02,320.5L754.63,319.6L755.25,320.5L755.48,322.8ZM761.61,322.8L761.69,320.5L762.3,319.6L762.92,320.5L763.15,322.8ZM769.28,322.8L769.36,320.5L769.97,319.6L770.59,320.5L770.82,322.8ZM776.95,322.8L777.03,320.5L777.64,319.6L778.26,320.5L778.49,322.8ZM784.63,322.8L784.7,320.5L785.32,319.6L785.93,320.5L786.16,322.8ZM792.3,322.8L792.37,320.5L792.99,319.6L793.6,320.5L793.83,322.8ZM799.97,322.8L800.04,320.5L800.66,319.6L801.27,320.5L801.5,322.8ZM807.64,322.8L807.72,320.5L808.33,319.6L808.94,320.5L809.17,322.8ZM815.31,322.8L815.39,320.5L816,319.6L816.61,320.5L816.84,322.8ZM822.98,322.8L823.06,320.5L823.67,319.6L824.28,320.5L824.51,322.8ZM830.65,322.8L830.73,320.5L831.34,319.6L831.96,320.5L832.19,322.8ZM838.32,322.8L838.4,320.5L839.01,319.6L839.63,320.5L839.86,322.8ZM845.99,322.8L846.07,320.5L846.68,319.6L847.3,320.5L847.53,322.8ZM853.66,322.8L853.74,320.5L854.35,319.6L854.97,320.5L855.2,322.8ZM861.34,322.8L861.41,320.5L862.03,319.6L862.64,320.5L862.87,322.8ZM869.01,322.8L869.08,320.5L869.7,319.6L870.31,320.5L870.54,322.8ZM876.68,322.8L876.75,320.5L877.37,319.6L877.98,320.5L878.21,322.8ZM884.35,322.8L884.43,320.5L885.04,319.6L885.65,320.5L885.88,322.8ZM892.02,322.8L892.1,320.5L892.71,319.6L893.32,320.5L893.55,322.8ZM899.69,322.8L899.77,320.5L900.38,319.6L900.99,320.5L901.22,322.8Z"/><path fill="#8EBA42" d="M136.58,322.8L136.66,319.6L137.5,319.4L138.42,322.8ZM144.25,322.8L144.33,319.6L145.17,319.4L146.09,322.8ZM151.92,322.8L152,319.6L152.84,319.4L153.76,322.8ZM159.59,322.8L159.67,319.6L160.51,319.4L161.43,322.8ZM167.26,322.8L167.34,319.6L168.18,319.4L169.1,322.8ZM174.93,322.8L175.01,319.6L175.85,319.4L176.78,322.8ZM182.61,322.8L182.68,319.6L183.53,319.4L184.45,322.8ZM190.28,322.8L190.35,319.6L191.2,319.4L192.12,322.8ZM197.95,322.8L198.02,319.6L198.87,319.4L199.79,322.8ZM205.62,322.8L205.7,319.6L206.54,319.4L207.46,322.8ZM213.29,322.8L213.37,319.6L214.21,319.4L215.13,322.8ZM220.96,322.8L221.04,319.6L221.88,319.4L222.8,322.8ZM228.63,322.8L228.71,319.6L229.55,319.4L230.47,322.8ZM236.3,322.8L236.38,319.6L237.22,319.4L238.14,322.8ZM243.97,322.8L244.05,319.6L244.89,319.4L245.81,322.8ZM251.64,322.8L251.72,319.6L252.56,319.4L253.49,322.8ZM259.32,322.8L259.39,319.6L260.24,319.4L261.16,322.8ZM266.99,322.8L267.06,319.6L267.91,319.4L268.83,322.8ZM274.66,322.8L274.73,319.6L275.58,319.4L276.5,322.8ZM282.33,322.8L282.41,319.6L283.25,319.4L284.17,322.8ZM290,322.8L290.08,319.6L290.92,319.4L291.84,322.8ZM297.67,322.8L297.75,319.6L298.59,319.4L299.51,322.8ZM305.34,322.8L305.42,319.6L306.26,319.4L307.18,322.8ZM313.01,322.8L313.09,319.6L313.93,319.4L314.85,322.8ZM320.68,322.8L320.76,319.6L321.6,319.4L322.52,322.8ZM328.35,322.8L328.43,319.6L329.28,319.4L330.2,322.8ZM336.03,322.8L336.1,319.6L336.95,319.4L337.87,322.8ZM343.7,322.8L343.77,319.6L344.62,319.4L345.54,322.8ZM351.37,322.8L351.44,319.6L352.29,319.4L353.21,322.8ZM359.04,322.8L359.12,319.6L359.96,319.4L360.88,322.8ZM366.71,322.8L366.79,319.6L367.63,319.4L368.55,322.8ZM374.38,322.8L374.46,319.6L375.3,319.4L376.22,322.8ZM382.05,322.8L382.13,319.6L382.97,319.4L383.89,322.8ZM389.72,322.8L389.8,319.6L390.64,319.4L391.56,322.8ZM397.39,322.8L397.47,319.6L398.31,319.4L399.23,322.8ZM405.06,322.8L405.14,319.6L405.99,319.4L406.91,322.8ZM412.74,322.8L412.81,319.6L413.66,319.4L414.58,322.8ZM420.41,322.8L420.48,319.6L421.33,319.4L422.25,322.8ZM428.08,322.8L428.15,319.6L429,319.4L429.92,322.8ZM435.75,322.8L435.83,319.6L436.67,319.4L437.59,322.8ZM443.42,322.8L443.5,319.6L444.34,319.4L445.26,322.8ZM451.09,322.8L451.17,319.6L452.01,319.4L452.93,322.8ZM458.76,322.8L458.84,319.6L459.68,319.4L460.6,322.8ZM466.43,322.8L466.51,319.6L467.35,319.4L468.27,322.8ZM474.1,322.8L474.18,319.6L475.02,319.4L475.94,322.8ZM481.77,322.8L481.85,319.6L482.69,319.4L483.62,322.8ZM489.45,322.8L489.52,319.6L490.37,319.4L491.29,322.8ZM497.12,322.8L497.19,319.6L498.04,319.4L498.96,322.8ZM504.79,322.8L504.86,319.6L505.71,319.4L506.63,322.8ZM512.46,322.8L512.54,319.6L513.38,319.4L514.3,322.8ZM520.13,322.8L520.21,319.6L521.05,319.4L521.97,322.8ZM527.8,322.8L527.88,319.6L528.72,319.4L529.64,322.8ZM535.47,322.8L535.55,319.6L536.39,319.4L537.31,322.8ZM543.14,322.8L543.22,319.6L544.06,319.4L544.98,322.8ZM550.81,322.8L550.89,319.6L551.73,319.4L552.65,322.8ZM558.48,322.8L558.56,319.6L559.41,319.4L560.33,322.8ZM566.16,322.8L566.23,319.6L567.08,319.4L568,322.8ZM573.83,322.8L573.9,319.6L574.75,319.4L575.67,322.8ZM581.5,322.8L581.57,319.6L582.42,319.4L583.34,322.8ZM589.17,322.8L589.25,319.6L590.09,319.4L591.01,322.8ZM596.84,322.8L596.92,319.6L597.76,319.4L598.68,322.8ZM604.51,322.8L604.59,319.6L605.43,319.4L606.35,322.8ZM612.18,322.8L612.26,319.6L613.1,319.4L614.02,322.8ZM619.85,322.8L619.93,319.6L620.77,319.4L621.69,322.8ZM627.52,322.8L627.6,319.6L628.44,319.4L629.36,322.8ZM635.19,322.8L635.27,319.6L636.12,319.4L637.04,322.8ZM642.87,322.8L642.94,319.6L643.79,319.4L644.71,322.8ZM650.54,322.8L650.61,319.6L651.46,319.4L652.38,322.8ZM658.21,322.8L658.28,319.6L659.13,319.4L660.05,322.8ZM665.88,322.8L665.96,319.6L666.8,319.4L667.72,322.8ZM673.55,322.8L673.63,319.6L674.47,319.4L675.39,322.8ZM681.22,322.8L681.3,319.6L682.14,319.4L683.06,322.8ZM688.89,322.8L688.97,319.6L689.81,319.4L690.73,322.8ZM696.56,322.8L696.64,319.6L697.48,319.4L698.4,322.8ZM704.23,322.8L704.31,319.6L705.15,319.4L706.07,322.8ZM711.9,322.8L711.98,319.6L712.83,319.4L713.75,322.8ZM719.58,322.8L719.65,319.6L720.5,319.4L721.42,322.8ZM727.25,322.8L727.32,319.6L728.17,319.4L729.09,322.8ZM734.92,322.8L734.99,319.6L735.84,319.4L736.76,322.8ZM742.59,322.8L742.67,319.6L743.51,319.4L744.43,322.8ZM750.26,322.8L750.34,319.6L751.18,319.4L752.1,322.8ZM757.93,322.8L758.01,319.6L758.85,319.4L759.77,322.8ZM765.6,322.8L765.68,319.6L766.52,319.4L767.44,322.8ZM773.27,322.8L773.35,319.6L774.19,319.4L775.11,322.8ZM780.94,322.8L781.02,319.6L781.86,319.4L782.78,322.8ZM788.61,322.8L788.69,319.6L789.54,319.4L790.46,322.8ZM796.29,322.8L796.36,319.6L797.21,319.4L798.13,322.8ZM803.96,322.8L804.03,319.6L804.88,319.4L805.8,322.8ZM811.63,322.8L811.7,319.6L812.55,319.4L813.47,322.8ZM819.3,322.8L819.38,319.6L820.22,319.4L821.14,322.8ZM826.97,322.8L827.05,319.6L827.89,319.4L828.81,322.8ZM834.64,322.8L834.72,319.6L835.56,319.4L836.48,322.8ZM842.31,322.8L842.39,319.6L843.23,319.4L844.15,322.8ZM849.98,322.8L850.06,319.6L850.9,319.4L851.82,322.8ZM857.65,322.8L857.73,319.6L858.57,319.4L859.49,322.8ZM865.32,322.8L865.4,319.6L866.25,319.4L867.17,322.8ZM873,322.8L873.07,319.6L873.92,319.4L874.84,322.8ZM880.67,322.8L880.74,319.6L881.59,319.4L882.51,322.8ZM888.34,322.8L888.41,319.6L889.26,319.4L890.18,322.8ZM896.01,322.8L896.09,319.6L896.93,319.4L897.85,322.8ZM903.68,322.8L903.76,319.6L904.6,319.4L905.52,322.8Z"/><path fill="#FBC15E" d="M136.89,322.2L136.96,320.6L138.11,320.6L138.27,322.2ZM144.56,322.2L144.63,320.6L145.78,320.6L145.94,322.2ZM152.23,322.2L152.31,320.6L153.46,320.6L153.61,322.2ZM159.9,322.2L159.98,320.6L161.13,320.6L161.28,322.2ZM167.57,322.2L167.65,320.6L168.8,320.6L168.95,322.2ZM175.24,322.2L175.32,320.6L176.47,320.6L176.62,322.2ZM182.91,322.2L182.99,320.6L184.14,320.6L184.29,322.2ZM190.58,322.2L190.66,320.6L191.81,320.6L191.96,322.2ZM198.25,322.2L198.33,320.6L199.48,320.6L199.64,322.2ZM205.93,322.2L206,320.6L207.15,320.6L207.31,322.2ZM213.6,322.2L213.67,320.6L214.82,320.6L214.98,322.2ZM221.27,322.2L221.34,320.6L222.49,320.6L222.65,322.2ZM228.94,322.2L229.02,320.6L230.17,320.6L230.32,322.2ZM236.61,322.2L236.69,320.6L237.84,320.6L237.99,322.2ZM244.28,322.2L244.36,320.6L245.51,320.6L245.66,322.2ZM251.95,322.2L252.03,320.6L253.18,320.6L253.33,322.2ZM259.62,322.2L259.7,320.6L260.85,320.6L261,322.2ZM267.29,322.2L267.37,320.6L268.52,320.6L268.67,322.2ZM274.96,322.2L275.04,320.6L276.19,320.6L276.35,322.2ZM282.64,322.2L282.71,320.6L283.86,320.6L284.02,322.2ZM290.31,322.2L290.38,320.6L291.53,320.6L291.69,322.2ZM297.98,322.2L298.05,320.6L299.2,320.6L299.36,322.2ZM305.65,322.2L305.73,320.6L306.88,320.6L307.03,322.2ZM313.32,322.2L313.4,320.6L314.55,320.6L314.7,322.2ZM320.99,322.2L321.07,320.6L322.22,320.6L322.37,322.2ZM328.66,322.2L328.74,320.6L329.89,320.6L330.04,322.2ZM336.33,322.2L336.41,320.6L337.56,320.6L337.71,322.2ZM344,322.2L344.08,320.6L345.23,320.6L345.38,322.2ZM351.67,322.2L351.75,320.6L352.9,320.6L353.06,322.2ZM359.35,322.2L359.42,320.6L360.57,320.6L360.73,322.2ZM367.02,322.2L367.09,320.6L368.24,320.6L368.4,322.2ZM374.69,322.2L374.76,320.6L375.91,320.6L376.07,322.2ZM382.36,322.2L382.44,320.6L383.59,320.6L383.74,322.2ZM390.03,322.2L390.11,320.6L391.26,320.6L391.41,322.2ZM397.7,322.2L397.78,320.6L398.93,320.6L399.08,322.2ZM405.37,322.2L405.45,320.6L406.6,320.6L406.75,322.2ZM413.04,322.2L413.12,320.6L414.27,320.6L414.42,322.2ZM420.71,322.2L420.79,320.6L421.94,320.6L422.09,322.2ZM428.38,322.2L428.46,320.6L429.61,320.6L429.77,322.2ZM436.06,322.2L436.13,320.6L437.28,320.6L437.44,322.2ZM443.73,322.2L443.8,320.6L444.95,320.6L445.11,322.2ZM451.4,322.2L451.47,320.6L452.62,320.6L452.78,322.2ZM459.07,322.2L459.15,320.6L460.3,320.6L460.45,322.2ZM466.74,322.2L466.82,320.6L467.97,320.6L468.12,322.2ZM474.41,322.2L474.49,320.6L475.64,320.6L475.79,322.2ZM482.08,322.2L482.16,320.6L483.31,320.6L483.46,322.2ZM489.75,322.2L489.83,320.6L490.98,320.6L491.13,322.2ZM497.42,322.2L497.5,320.6L498.65,320.6L498.8,322.2ZM505.09,322.2L505.17,320.6L506.32,320.6L506.48,322.2ZM512.77,322.2L512.84,320.6L513.99,320.6L514.15,322.2ZM520.44,322.2L520.51,320.6L521.66,320.6L521.82,322.2ZM528.11,322.2L528.18,320.6L529.33,320.6L529.49,322.2ZM535.78,322.2L535.86,320.6L537.01,320.6L537.16,322.2ZM543.45,322.2L543.53,320.6L544.68,320.6L544.83,322.2ZM551.12,322.2L551.2,320.6L552.35,320.6L552.5,322.2ZM558.79,322.2L558.87,320.6L560.02,320.6L560.17,322.2ZM566.46,322.2L566.54,320.6L567.69,320.6L567.84,322.2ZM574.13,322.2L574.21,320.6L575.36,320.6L575.51,322.2ZM581.8,322.2L581.88,320.6L583.03,320.6L583.19,322.2ZM589.48,322.2L589.55,320.6L590.7,320.6L590.86,322.2ZM597.15,322.2L597.22,320.6L598.37,320.6L598.53,322.2ZM604.82,322.2L604.89,320.6L606.04,320.6L606.2,322.2ZM612.49,322.2L612.57,320.6L613.72,320.6L613.87,322.2ZM620.16,322.2L620.24,320.6L621.39,320.6L621.54,322.2ZM627.83,322.2L627.91,320.6L629.06,320.6L629.21,322.2ZM635.5,322.2L635.58,320.6L636.73,320.6L636.88,322.2ZM643.17,322.2L643.25,320.6L644.4,320.6L644.55,322.2ZM650.84,322.2L650.92,320.6L652.07,320.6L652.22,322.2ZM658.51,322.2L658.59,320.6L659.74,320.6L659.9,322.2ZM666.19,322.2L666.26,320.6L667.41,320.6L667.57,322.2ZM673.86,322.2L673.93,320.6L675.08,320.6L675.24,322.2ZM681.53,322.2L681.6,320.6L682.75,320.6L682.91,322.2ZM689.2,322.2L689.28,320.6L690.43,320.6L690.58,322.2ZM696.87,322.2L696.95,320.6L698.1,320.6L698.25,322.2ZM704.54,322.2L704.62,320.6L705.77,320.6L705.92,322.2ZM712.21,322.2L712.29,320.6L713.44,320.6L713.59,322.2ZM719.88,322.2L719.96,320.6L721.11,320.6L721.26,322.2ZM727.55,322.2L727.63,320.6L728.78,320.6L728.93,322.2ZM735.22,322.2L735.3,320.6L736.45,320.6L736.61,322.2ZM742.9,322.2L742.97,320.6L744.12,320.6L744.28,322.2ZM750.57,322.2L750.64,320.6L751.79,320.6L751.95,322.2ZM758.24,322.2L758.31,320.6L759.46,320.6L759.62,322.2ZM765.91,322.2L765.99,320.6L767.14,320.6L767.29,322.2ZM773.58,322.2L773.66,320.6L774.81,320.6L774.96,322.2ZM781.25,322.2L781.33,320.6L782.48,320.6L782.63,322.2ZM788.92,322.2L789,320.6L790.15,320.6L790.3,322.2ZM796.59,322.2L796.67,320.6L797.82,320.6L797.97,322.2ZM804.26,322.2L804.34,320.6L805.49,320.6L805.64,322.2ZM811.93,322.2L812.01,320.6L813.16,320.6L813.32,322.2ZM819.61,322.2L819.68,320.6L820.83,320.6L820.99,322.2ZM827.28,322.2L827.35,320.6L828.5,320.6L828.66,322.2ZM834.95,322.2L835.02,320.6L836.17,320.6L836.33,322.2ZM842.62,322.2L842.7,320.6L843.85,320.6L844,322.2ZM850.29,322.2L850.37,320.6L851.52,320.6L851.67,322.2ZM857.96,322.2L858.04,320.6L859.19,320.6L859.34,322.2ZM865.63,322.2L865.71,320.6L866.86,320.6L867.01,322.2ZM873.3,322.2L873.38,320.6L874.53,320.6L874.68,322.2ZM880.97,322.2L881.05,320.6L882.2,320.6L882.35,322.2ZM888.64,322.2L888.72,320.6L889.87,320.6L890.03,322.2ZM896.32,322.2L896.39,320.6L897.54,320.6L897.7,322.2ZM903.99,322.2L904.06,320.6L905.21,320.6L905.37,322.2Z"/></g>
<g clip-path="url(#c2)"><polyline points="137.5,475.4 139.88,475.4 139.88,487.18 143.48,487.18 143.48,475.4 147.55,475.4 147.55,487.18 151.15,487.18 151.15,475.4 155.22,475.4 155.22,487.18 158.83,487.18 158.83,475.4 162.89,475.4 162.89,487.18 166.5,487.18 166.5,475.4 170.56,475.4 170.56,487.18 174.17,487.18 174.17,475.4 178.23,475.4 178.23,487.18 181.84,487.18 181.84,475.4 185.9,475.4 185.9,487.18 189.51,487.18 189.51,475.4 193.58,475.4 193.58,487.18 197.18,487.18 197.18,475.4 201.25,475.4 201.25,487.18 204.85,487.18 204.85,475.4 208.92,475.4 208.92,487.18 212.52,487.18 212.52,475.4 216.59,475.4 216.59,487.18 220.19,487.18 220.19,475.4 224.26,475.4 224.26,487.18 227.86,487.18 227.86,475.4 231.93,475.4 231.93,487.18 235.54,487.18 235.54,475.4 239.6,475.4 239.6,487.18 243.21,487.18 243.21,475.4 247.27,475.4 247.27,487.18 250.88,487.18 250.88,475.4 254.94,475.4 254.94,487.18 258.55,487.18 258.55,475.4 262.61,475.4 262.61,487.18 266.22,487.18 266.22,475.4 270.29,475.4 270.29,487.18 273.89,487.18 273.89,475.4 277.96,475.4 277.96,487.18 281.56,487.18 281.56,475.4 285.63,475.4 285.63,487.18 289.23,487.18 289.23,475.4 293.3,475.4 293.3,487.18 296.9,487.18 296.9,475.4 300.97,475.4 300.97,487.18 304.57,487.18 304.57,475.4 308.64,475.4 308.64,487.18 312.25,487.18 312.25,475.4 316.31,475.4 316.31,487.18 319.92,487.18 319.92,475.4 323.98,475.4 323.98,487.18 327.59,487.18 327.59,475.4 331.65,475.4 331.65,487.18 335.26,487.18 335.26,475.4 339.32,475.4 339.32,487.18 342.93,487.18 342.93,475.4 347,475.4 347,487.18 350.6,487.18 350.6,475.4 354.67,475.4 354.67,487.18 358.27,487.18 358.27,475.4 362.34,475.4 362.34,487.18 365.94,487.18 365.94,475.4 370.01,475.4 370.01,487.18 373.61,487.18 373.61,475.4 377.68,475.4 377.68,487.18 381.28,487.18 381.28,475.4 385.35,475.4 385.35,487.18 388.96,487.18 388.96,475.4 393.02,475.4 393.02,487.18 396.63,487.18 396.63,475.4 400.69,475.4 400.69,487.18 404.3,487.18 404.3,475.4 408.36,475.4 408.36,487.18 411.97,487.18 411.97,475.4 416.03,475.4 416.03,487.18 419.64,487.18 419.64,475.4 423.71,475.4 423.71,487.18 427.31,487.18 427.31,475.4 431.38,475.4 431.38,487.18 434.98,487.18 434.98,475.4 439.05,475.4 439.05,487.18 442.65,487.18 442.65,475.4 446.72,475.4 446.72,487.18 450.32,487.18 450.32,475.4 454.39,475.4 454.39,487.18 457.99,487.18 457.99,475.4 462.06,475.4 462.06,487.18 465.67,487.18 465.67,475.4 469.73,475.4 469.73,487.18 473.34,487.18 473.34,475.4 477.4,475.4 477.4,487.18 481.01,487.18 481.01,475.4 485.07,475.4 485.07,487.18 488.68,487.18 488.68,475.4 492.74,475.4 492.74,487.18 496.35,487.18 496.35,475.4 500.42,475.4 500.42,487.18 504.02,487.18 504.02,475.4 508.09,475.4 508.09,487.18 511.69,487.18 511.69,475.4 515.76,475.4 515.76,487.18 519.36,487.18 519.36,475.4 523.43,475.4 523.43,487.18 527.03,487.18 527.03,475.4 531.1,475.4 531.1,487.18 534.7,487.18 534.7,475.4 538.77,475.4 538.77,487.18 542.38,487.18 542.38,475.4 546.44,475.4 546.44,487.18 550.05,487.18 550.05,475.4 554.11,475.4 554.11,487.18 557.72,487.18 557.72,475.4 561.78,475.4 561.78,487.18 565.39,487.18 565.39,475.4 569.45,475.4 569.45,487.18 573.06,487.18 573.06,475.4 577.13,475.4 577.13,487.18 580.73,487.18 580.73,475.4 584.8,475.4 584.8,487.18 588.4,487.18 588.4,475.4 592.47,475.4 592.47,487.18 596.07,487.18 596.07,475.4 600.14,475.4 600.14,487.18 603.74,487.18 603.74,475.4 607.81,475.4 607.81,487.18 611.41,487.18 611.41,475.4 615.48,475.4 615.48,487.18 619.09,487.18 619.09,475.4 623.15,475.4 623.15,487.18 626.76,487.18 626.76,475.4 630.82,475.4 630.82,487.18 634.43,487.18 634.43,475.4 638.49,475.4 638.49,487.18 642.1,487.18 642.1,475.4 646.16,475.4 646.16,487.18 649.77,487.18 649.77,475.4 653.84,475.4 653.84,487.18 657.44,487.18 657.44,475.4 661.51,475.4 661.51,487.18 665.11,487.18 665.11,475.4 669.18,475.4 669.18,487.18 672.78,487.18 672.78,475.4 676.85,475.4 676.85,487.18 680.45,487.18 680.45,475.4 684.52,475.4 684.52,487.18 688.12,487.18 688.12,475.4 692.19,475.4 692.19,487.18 695.8,487.18 695.8,475.4 699.86,475.4 699.86,487.18 703.47,487.18 703.47,475.4 707.53,475.4 707.53,487.18 711.14,487.18 711.14,475.4 715.2,475.4 715.2,487.18 718.81,487.18 718.81,475.4 722.87,475.4 722.87,487.18 726.48,487.18 726.48,475.4 730.55,475.4 730.55,487.18 734.15,487.18 734.15,475.4 738.22,475.4 738.22,487.18 741.82,487.18 741.82,475.4 745.89,475.4 745.89,487.18 749.49,487.18 749.49,475.4 753.56,475.4 753.56,487.18 757.16,487.18 757.16,475.4 761.23,475.4 761.23,487.18 764.83,487.18 764.83,475.4 768.9,475.4 768.9,487.18 772.51,487.18 772.51,475.4 776.57,475.4 776.57,487.18 780.18,487.18 780.18,475.4 784.24,475.4 784.24,487.18 787.85,487.18 787.85,475.4 791.91,475.4 791.91,487.18 795.52,487.18 795.52,475.4 799.58,475.4 799.58,487.18 803.19,487.18 803.19,475.4 807.26,475.4 807.26,487.18 810.86,487.18 810.86,475.4 814.93,475.4 814.93,487.18 818.53,487.18 818.53,475.4 822.6,475.4 822.6,487.18 826.2,487.18 826.2,475.4 830.27,475.4 830.27,487.18 833.87,487.18 833.87,475.4 837.94,475.4 837.94,487.18 841.54,487.18 841.54,475.4 845.61,475.4 845.61,487.18 849.22,487.18 849.22,475.4 853.28,475.4 853.28,487.18 856.89,487.18 856.89,475.4 860.95,475.4 860.95,487.18 864.56,487.18 864.56,475.4 868.62,475.4 868.62,487.18 872.23,487.18 872.23,475.4 876.29,475.4 876.29,487.18 879.9,487.18 879.9,475.4 883.97,475.4 883.97,487.18 887.57,487.18 887.57,475.4 891.64,475.4 891.64,487.18 895.24,487.18 895.24,475.4 899.31,475.4 899.31,487.18 902.91,487.18 902.91,475.4 904.97,475.4" fill="none" stroke="#E24A33" stroke-width="1.39" stroke-linejoin="miter"/><polyline points="137.5,488.2 141.64,488.2 141.64,499.99 145.17,499.99 145.17,488.2 149.31,488.2 149.31,499.99 152.84,499.99 152.84,488.2 156.98,488.2 156.98,499.99 160.51,499.99 160.51,488.2 164.66,488.2 164.66,499.99 168.18,499.99 168.18,488.2 172.33,488.2 172.33,499.99 175.86,499.99 175.86,488.2 180,488.2 180,499.99 183.53,499.99 183.53,488.2 187.67,488.2 187.67,499.99 191.2,499.99 191.2,488.2 195.34,488.2 195.34,499.99 198.87,499.99 198.87,488.2 203.01,488.2 203.01,499.99 206.54,499.99 206.54,488.2 210.68,488.2 210.68,499.99 214.21,499.99 214.21,488.2 218.35,488.2 218.35,499.99 221.88,499.99 221.88,488.2 226.02,488.2 226.02,499.99 229.55,499.99 229.55,488.2 233.69,488.2 233.69,499.99 237.22,499.99 237.22,488.2 241.37,488.2 241.37,499.99 244.89,499.99 244.89,488.2 249.04,488.2 249.04,499.99 252.56,499.99 252.56,488.2 256.71,488.2 256.71,499.99 260.24,499.99 260.24,488.2 264.38,488.2 264.38,499.99 267.91,499.99 267.91,488.2 272.05,488.2 272.05,499.99 275.58,499.99 275.58,488.2 279.72,488.2 279.72,499.99 283.25,499.99 283.25,488.2 287.39,488.2 287.39,499.99 290.92,499.99 290.92,488.2 295.06,488.2 295.06,499.99 298.59,499.99 298.59,488.2 302.73,488.2 302.73,499.99 306.26,499.99 306.26,488.2 310.4,488.2 310.4,499.99 313.93,499.99 313.93,488.2 318.08,488.2 318.08,499.99 321.6,499.99 321.6,488.2 325.75,488.2 325.75,499.99 329.27,499.99 329.27,488.2 333.42,488.2 333.42,499.99 336.95,499.99 336.95,488.2 341.09,488.2 341.09,499.99 344.62,499.99 344.62,488.2 348.76,488.2 348.76,499.99 352.29,499.99 352.29,488.2 356.43,488.2 356.43,499.99 359.96,499.99 359.96,488.2 364.1,488.2 364.1,499.99 367.63,499.99 367.63,488.2 371.77,488.2 371.77,499.99 375.3,499.99 375.3,488.2 379.44,488.2 379.44,499.99 382.97,499.99 382.97,488.2 387.11,488.2 387.11,499.99 390.64,499.99 390.64,488.2 394.79,488.2 394.79,499.99 398.31,499.99 398.31,488.2 402.46,488.2 402.46,499.99 405.99,499.99 405.99,488.2 410.13,488.2 410.13,499.99 413.66,499.99 413.66,488.2 417.8,488.2 417.8,499.99 421.33,499.99 421.33,488.2 425.47,488.2 425.47,499.99 429,499.99 429,488.2 433.14,488.2 433.14,499.99 436.67,499.99 436.67,488.2 440.81,488.2 440.81,499.99 444.34,499.99 444.34,488.2 448.48,488.2 448.48,499.99 452.01,499.99 452.01,488.2 456.15,488.2 456.15,499.99 459.68,499.99 459.68,488.2 463.82,488.2 463.82,499.99 467.35,499.99 467.35,488.2 471.5,488.2 471.5,499.99 475.02,499.99 475.02,488.2 479.17,488.2 479.17,499.99 482.69,499.99 482.69,488.2 486.84,488.2 486.84,499.99 490.37,499.99 490.37,488.2 494.51,488.2 494.51,499.99 498.04,499.99 498.04,488.2 502.18,488.2 502.18,499.99 505.71,499.99 505.71,488.2 509.85,488.2 509.85,499.99 513.38,499.99 513.38,488.2 517.52,488.2 517.52,499.99 521.05,499.99 521.05,488.2 525.19,488.2 525.19,499.99 528.72,499.99 528.72,488.2 532.86,488.2 532.86,499.99 536.39,499.99 536.39,488.2 540.53,488.2 540.53,499.99 544.06,499.99 544.06,488.2 548.21,488.2 548.21,499.99 551.73,499.99 551.73,488.2 555.88,488.2 555.88,499.99 559.4,499.99 559.4,488.2 563.55,488.2 563.55,499.99 567.08,499.99 567.08,488.2 571.22,488.2 571.22,499.99 574.75,499.99 574.75,488.2 578.89,488.2 578.89,499.99 582.42,499.99 582.42,488.2 586.56,488.2 586.56,499.99 590.09,499.99 590.09,488.2 594.23,488.2 594.23,499.99 597.76,499.99 597.76,488.2 601.9,488.2 601.9,499.99 605.43,499.99 605.43,488.2 609.57,488.2 609.57,499.99 613.1,499.99 613.1,488.2 617.24,488.2 617.24,499.99 620.77,499.99 620.77,488.2 624.92,488.2 624.92,499.99 628.44,499.99 628.44,488.2 632.59,488.2 632.59,499.99 636.12,499.99 636.12,488.2 640.26,488.2 640.26,499.99 643.79,499.99 643.79,488.2 647.93,488.2 647.93,499.99 651.46,499.99 651.46,488.2 655.6,488.2 655.6,499.99 659.13,499.99 659.13,488.2 663.27,488.2 663.27,499.99 666.8,499.99 666.8,488.2 670.94,488.2 670.94,499.99 674.47,499.99 674.47,488.2 678.61,488.2 678.61,499.99 682.14,499.99 682.14,488.2 686.28,488.2 686.28,499.99 689.81,499.99 689.81,488.2 693.95,488.2 693.95,499.99 697.48,499.99 697.48,488.2 701.63,488.2 701.63,499.99 705.15,499.99 705.15,488.2 709.3,488.2 709.3,499.99 712.83,499.99 712.83,488.2 716.97,488.2 716.97,499.99 720.5,499.99 720.5,488.2 724.64,488.2 724.64,499.99 728.17,499.99 728.17,488.2 732.31,488.2 732.31,499.99 735.84,499.99 735.84,488.2 739.98,488.2 739.98,499.99 743.51,499.99 743.51,488.2 747.65,488.2 747.65,499.99 751.18,499.99 751.18,488.2 755.32,488.2 755.32,499.99 758.85,499.99 758.85,488.2 762.99,488.2 762.99,499.99 766.52,499.99 766.52,488.2 770.66,488.2 770.66,499.99 774.19,499.99 774.19,488.2 778.34,488.2 778.34,499.99 781.86,499.99 781.86,488.2 786.01,488.2 786.01,499.99 789.53,499.99 789.53,488.2 793.68,488.2 793.68,499.99 797.21,499.99 797.21,488.2 801.35,488.2 801.35,499.99 804.88,499.99 804.88,488.2 809.02,488.2 809.02,499.99 812.55,499.99 812.55,488.2 816.69,488.2 816.69,499.99 820.22,499.99 820.22,488.2 824.36,488.2 824.36,499.99 827.89,499.99 827.89,488.2 832.03,488.2 832.03,499.99 835.56,499.99 835.56,488.2 839.7,488.2 839.7,499.99 843.23,499.99 843.23,488.2 847.37,488.2 847.37,499.99 850.9,499.99 850.9,488.2 855.05,488.2 855.05,499.99 858.57,499.99 858.57,488.2 862.72,488.2 862.72,499.99 866.25,499.99 866.25,488.2 870.39,488.2 870.39,499.99 873.92,499.99 873.92,488.2 878.06,488.2 878.06,499.99 881.59,499.99 881.59,488.2 885.73,488.2 885.73,499.99 889.26,499.99 889.26,488.2 893.4,488.2 893.4,499.99 896.93,499.99 896.93,488.2 901.07,488.2 901.07,499.99 904.6,499.99 904.6,488.2 904.97,488.2" fill="none" stroke="#348ABD" stroke-width="1.39" stroke-linejoin="miter"/><line x1="137.5" x2="904.97" y1="512.8" y2="512.8" stroke="#988ED5" stroke-width="1.39"/><line x1="137.5" x2="904.97" y1="525.61" y2="525.61" stroke="#777777" stroke-width="1.39"/><line x1="137.5" x2="904.97" y1="538.42" y2="538.42" stroke="#FBC15E" stroke-width="1.39"/><line x1="137.5" x2="904.97" y1="551.23" y2="551.23" stroke="#8EBA42" stroke-width="1.39"/><line x1="137.5" x2="904.97" y1="552.24" y2="552.24" stroke="#FFB5B8" stroke-width="1.39"/><line x1="137.5" x2="904.97" y1="576.85" y2="576.85" stroke="#E24A33" stroke-width="1.39"/><line x1="137.5" x2="904.97" y1="577.86" y2="577.86" stroke="#348ABD" stroke-width="1.39"/><line x1="137.5" x2="904.97" y1="602.47" y2="602.47" stroke="#988ED5" stroke-width="1.39"/><line x1="137.5" x2="904.97" y1="603.48" y2="603.48" stroke="#777777" stroke-width="1.39"/><line x1="137.5" x2="904.97" y1="628.09" y2="628.09" stroke="#FBC15E" stroke-width="1.39"/><line x1="137.5" x2="904.97" y1="640.9" y2="640.9" stroke="#8EBA42" stroke-width="1.39"/><line x1="137.5" x2="904.97" y1="653.71" y2="653.71" stroke="#FFB5B8" stroke-width="1.39"/><line x1="137.5" x2="904.97" y1="654.72" y2="654.72" stroke="#E24A33" stroke-width="1.39"/></g>
<g shape-rendering="crispEdges"><rect x="913" y="88" width="166" height="402" fill="rgb(250,250,250)"/><rect x="914" y="89" width="164" height="400" fill="#e5e5e5"/></g>
<line x1="924.8" x2="949.2" y1="103.5" y2="103.5" stroke="#E24A33" stroke-width="1.39"/>
<line x1="924.8" x2="949.2" y1="130.5" y2="130.5" stroke="#348ABD" stroke-width="1.39"/>
<line x1="924.8" x2="949.2" y1="156.5" y2="156.5" stroke="#988ED5" stroke-width="1.39"/>
<line x1="924.8" x2="949.2" y1="183.5" y2="183.5" stroke="#777777" stroke-width="1.39"/>
<line x1="924.8" x2="949.2" y1="209.5" y2="209.5" stroke="#FBC15E" stroke-width="1.39"/>
<line x1="924.8" x2="949.2" y1="236.5" y2="236.5" stroke="#8EBA42" stroke-width="1.39"/>
<line x1="924.8" x2="949.2" y1="262.5" y2="262.5" stroke="#FFB5B8" stroke-width="1.39"/>
<line x1="924.8" x2="949.2" y1="288.5" y2="288.5" stroke="#E24A33" stroke-width="1.39"/>
<line x1="924.8" x2="949.2" y1="315.5" y2="315.5" stroke="#348ABD" stroke-width="1.39"/>
<line x1="924.8" x2="949.2" y1="341.5" y2="341.5" stroke="#988ED5" stroke-width="1.39"/>
<line x1="924.8" x2="949.2" y1="367.5" y2="367.5" stroke="#777777" stroke-width="1.39"/>
<line x1="924.8" x2="949.2" y1="394.5" y2="394.5" stroke="#FBC15E" stroke-width="1.39"/>
<line x1="924.8" x2="949.2" y1="420.5" y2="420.5" stroke="#8EBA42" stroke-width="1.39"/>
<line x1="924.8" x2="949.2" y1="446.5" y2="446.5" stroke="#FFB5B8" stroke-width="1.39"/>
<line x1="924.8" x2="949.2" y1="473.5" y2="473.5" stroke="#E24A33" stroke-width="1.39"/>
<text transform="scale(1.0279,1)" x="214.56 219.11 227.54 236.34 241.12 249.54 253.73 260.98 269.23 276.93 282.24 291.04 295.83 303.91 311.31 316.16 329.15 337.04 345.62 349.81 357.22 360.98 369.68 377.57 385.92 390.67 398.07 401.82 410.15 415.37 420.67 429.10 437.67 446.09 454.80 467.21 479.18 487.61 495.95 500.70 508.14 519.02 527.33 535.78 544.12 548.54 558.02 562.21 569.61 573.37 582.08 589.97 598.31 603.07 610.47 614.22 622.55 627.76 633.07 641.49 650.06 658.48 667.20 679.61 691.58 700.00 708.45 712.89 721.48 730.08 738.53 742.97 751.57 760.16 768.62 772.89 781.31 790.25 795.17 800.10 804.87 813.30 821.88 825.50 833.82 838.61 843.65 851.91" y="27.13" font-size="14.44" fill="#000">/data/socrates/mx3/si3x3-sin-randomMag-sweep-B/si3x3-sin-randomMag.002.083.out/table.txt</text>
<text x="105.63" y="84.45" font-size="14.82" fill="#555" textLength="19.44" lengthAdjust="spacingAndGlyphs">1.5</text>
<text x="105.89" y="132.42" font-size="14.82" fill="#555" textLength="19.21" lengthAdjust="spacingAndGlyphs">1.0</text>
<text x="105.30" y="181.42" font-size="14.82" fill="#555" textLength="20.03" lengthAdjust="spacingAndGlyphs">0.5</text>
<text x="105.55" y="229.42" font-size="14.82" fill="#555" textLength="19.80" lengthAdjust="spacingAndGlyphs">0.0</text>
<text transform="scale(1.0145,1)" x="91.85 102.15 110.74 115.21" y="278.42" font-size="14.82" fill="#555">−0.5</text>
<text x="94.51" y="326.42" font-size="14.82" fill="#555" textLength="31.13" lengthAdjust="spacingAndGlyphs">−1.0</text>
<text transform="scale(1.0145,1)" x="92.34 102.64 111.23 115.70" y="375.45" font-size="14.82" fill="#555">−1.5</text>
<text transform="scale(0.9435,1)" x="106.20 115.28 120.24 129.61 138.97 148.34 157.70 167.07 176.44" y="742.42" font-size="14.82" fill="#555">0.0000000</text>
<text x="255.27" y="742.42" font-size="14.82" fill="#555" textLength="72.09" lengthAdjust="spacingAndGlyphs">0.0000002</text>
<text x="408.02" y="742.42" font-size="14.82" fill="#555" textLength="72.87" lengthAdjust="spacingAndGlyphs">0.0000004</text>
<text transform="scale(0.9435,1)" x="595.07 604.15 609.11 618.48 627.84 637.21 646.58 655.94 665.31" y="742.42" font-size="14.82" fill="#555">0.0000006</text>
<text transform="scale(0.9435,1)" x="756.96 766.05 771.01 780.38 789.74 799.11 808.47 817.84 827.20" y="742.42" font-size="14.82" fill="#555">0.0000008</text>
<text transform="scale(0.9435,1)" x="920.19 929.27 934.23 943.60 952.96 962.33 971.69 981.06 990.43" y="742.42" font-size="14.82" fill="#555">0.0000010</text>
<text transform="scale(1.2925,1)" x="400.61" y="766.22" font-size="17.83" fill="#5a5a5a">t</text>
<text transform="scale(0.8915,1)" x="1084.29 1096.36 1106.78 1118.40 1129.39 1136.62" y="109.34" font-size="17.67" fill="#000" stroke="#000" stroke-width="0.05">B_extx</text>
<text transform="scale(1.0159,1)" x="950.80 961.51 970.66 980.91 990.80 996.91" y="136.34" font-size="17.67" fill="#000" stroke="#000" stroke-width="0.05">B_exty</text>
<text transform="scale(0.9144,1)" x="1057.17 1068.96 1079.12 1090.46 1101.23 1107.62" y="162.34" font-size="17.67" fill="#000" stroke="#000" stroke-width="0.05">B_extz</text>
<text x="966.82" y="189.36" font-size="17.67" fill="#000" stroke="#000" stroke-width="0.05" textLength="93.18" lengthAdjust="spacingAndGlyphs">m.region1x</text>
<text x="966.82" y="215.36" font-size="17.67" fill="#000" stroke="#000" stroke-width="0.05" textLength="93.18" lengthAdjust="spacingAndGlyphs">m.region2x</text>
<text x="966.82" y="241.36" font-size="17.67" fill="#000" stroke="#000" stroke-width="0.05" textLength="93.18" lengthAdjust="spacingAndGlyphs">m.region3x</text>
<text x="966.82" y="268.36" font-size="17.67" fill="#000" stroke="#000" stroke-width="0.05" textLength="93.18" lengthAdjust="spacingAndGlyphs">m.region4x</text>
<text x="966.82" y="294.36" font-size="17.67" fill="#000" stroke="#000" stroke-width="0.05" textLength="93.18" lengthAdjust="spacingAndGlyphs">m.region5x</text>
<text x="966.82" y="320.36" font-size="17.67" fill="#000" stroke="#000" stroke-width="0.05" textLength="93.18" lengthAdjust="spacingAndGlyphs">m.region6x</text>
<text x="967.07" y="347.36" font-size="17.67" fill="#000" stroke="#000" stroke-width="0.05" textLength="93.18" lengthAdjust="spacingAndGlyphs">m.region7y</text>
<text x="966.82" y="373.36" font-size="17.67" fill="#000" stroke="#000" stroke-width="0.05" textLength="93.18" lengthAdjust="spacingAndGlyphs">m.region8y</text>
<text x="966.82" y="399.36" font-size="17.67" fill="#000" stroke="#000" stroke-width="0.05" textLength="93.18" lengthAdjust="spacingAndGlyphs">m.region9y</text>
<text x="966.57" y="426.36" font-size="17.67" fill="#000" stroke="#000" stroke-width="0.05" textLength="104.18" lengthAdjust="spacingAndGlyphs">m.region10y</text>
<text transform="scale(0.9663,1)" x="1000.65 1016.70 1022.50 1029.19 1039.78 1050.60 1055.32 1066.06 1077.01 1087.99 1099.07" y="452.36" font-size="17.67" fill="#000" stroke="#000" stroke-width="0.05">m.region11y</text>
<text x="966.57" y="478.36" font-size="17.67" fill="#000" stroke="#000" stroke-width="0.05" textLength="104.18" lengthAdjust="spacingAndGlyphs">m.region12y</text>
</svg></body></html>
